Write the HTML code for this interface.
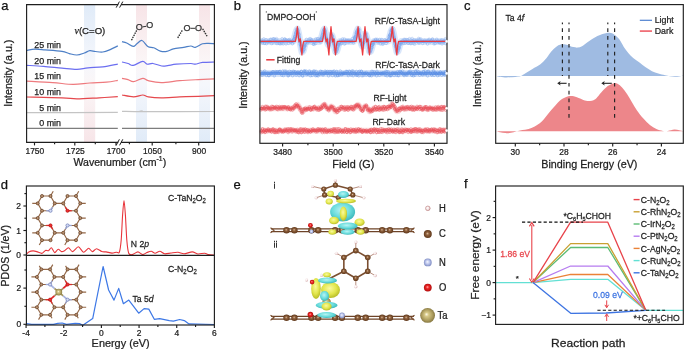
<!DOCTYPE html>
<html><head><meta charset="utf-8"><style>
html,body{margin:0;padding:0;background:#fff;overflow:hidden}
svg{display:block;will-change:transform}
text{font-family:"Liberation Sans",sans-serif;stroke-width:0.25px}
</style></head><body>
<svg width="685" height="351" viewBox="0 0 685 351">
<rect width="685" height="351" fill="#fff"/>
<defs><linearGradient id="gBP" x1="0" y1="0" x2="0" y2="1"><stop offset="0" stop-color="#e0ebf8"/><stop offset="0.42" stop-color="#f5f7fc"/><stop offset="0.58" stop-color="#fbf6f7"/><stop offset="1" stop-color="#f7e5e8"/></linearGradient><linearGradient id="gPB" x1="0" y1="0" x2="0" y2="1"><stop offset="0" stop-color="#f7e4e7"/><stop offset="0.42" stop-color="#fbf6f7"/><stop offset="0.58" stop-color="#f5f7fc"/><stop offset="1" stop-color="#e0ebf8"/></linearGradient><radialGradient id="gTa" cx="0.5" cy="0.5" r="0.55" fx="0.42" fy="0.42"><stop offset="0" stop-color="#fffbe6"/><stop offset="0.25" stop-color="#d6c888"/><stop offset="0.7" stop-color="#a8985a"/><stop offset="1" stop-color="#7a6c38"/></radialGradient><radialGradient id="gC" cx="0.5" cy="0.5" r="0.55" fx="0.45" fy="0.42"><stop offset="0" stop-color="#d8b89a"/><stop offset="0.35" stop-color="#8e603c"/><stop offset="1" stop-color="#5a3418"/></radialGradient><radialGradient id="gCy" cx="0.45" cy="0.4" r="0.6"><stop offset="0" stop-color="#b8f4f4"/><stop offset="0.6" stop-color="#6adcdc"/><stop offset="1" stop-color="#3cb8bc"/></radialGradient><radialGradient id="gYe" cx="0.45" cy="0.4" r="0.6"><stop offset="0" stop-color="#fafaa0"/><stop offset="0.6" stop-color="#e2e64c"/><stop offset="1" stop-color="#b8bc28"/></radialGradient><radialGradient id="gN" cx="0.5" cy="0.5" r="0.55" fx="0.45" fy="0.42"><stop offset="0" stop-color="#f4f6ff"/><stop offset="0.5" stop-color="#b8c2ea"/><stop offset="1" stop-color="#7684bc"/></radialGradient><radialGradient id="gO" cx="0.5" cy="0.5" r="0.55" fx="0.45" fy="0.42"><stop offset="0" stop-color="#ffb0b0"/><stop offset="0.35" stop-color="#f02828"/><stop offset="1" stop-color="#a80808"/></radialGradient><radialGradient id="gH" cx="0.4" cy="0.4" r="0.6"><stop offset="0" stop-color="#ffffff"/><stop offset="0.7" stop-color="#f2dede"/><stop offset="1" stop-color="#c89898"/></radialGradient></defs>
<text x="1.2" y="9.9" font-size="13" text-anchor="start" fill="#111" stroke="#111">a</text>
<rect x="84" y="5" width="11.2" height="137" fill="url(#gBP)"/>
<rect x="136" y="5" width="11" height="137" fill="url(#gPB)"/>
<rect x="199" y="5" width="11" height="137" fill="url(#gPB)"/>
<path d="M26.5,50.3 C27.92,50.12 31.92,49.28 35,49.2 C38.08,49.12 40.5,49.45 45,49.8 C49.5,50.15 57.93,50.67 62,51.3 C66.07,51.93 66.92,52.98 69.4,53.6 C71.88,54.22 74.42,55.1 76.9,55 C79.38,54.9 82.15,53.72 84.3,53 C86.45,52.28 87.95,50.95 89.8,50.7 C91.65,50.45 93.23,51.28 95.4,51.5 C97.57,51.72 100.33,52.32 102.8,52 C105.27,51.68 107.7,50.62 110.2,49.6 C112.7,48.58 116.53,46.52 117.8,45.9" stroke="#4d7fc6" stroke-width="1.2" fill="none"/>
<path d="M122,41.6 C122.78,41.83 124.83,42.2 126.7,43 C128.57,43.8 131.5,46.27 133.2,46.4 C134.9,46.53 135.43,44.78 136.9,43.8 C138.37,42.82 140.18,40.07 142,40.5 C143.82,40.93 145.85,45.18 147.8,46.4 C149.75,47.62 151.62,47.02 153.7,47.8 C155.78,48.58 158.12,50.5 160.3,51.1 C162.48,51.7 164.62,51.77 166.8,51.4 C168.98,51.03 170.6,49.57 173.4,48.9 C176.2,48.23 180.68,47.88 183.6,47.4 C186.52,46.92 188.95,46 190.9,46 C192.85,46 193.35,47.77 195.3,47.4 C197.25,47.03 200.42,44.48 202.6,43.8 C204.78,43.12 206.43,43.3 208.4,43.3 C210.37,43.3 213.4,43.72 214.4,43.8" stroke="#4d7fc6" stroke-width="1.2" fill="none"/>
<path d="M26.5,65.3 C29.33,65.47 37.58,65.83 43.5,66.3 C49.42,66.77 56.43,67.6 62,68.1 C67.57,68.6 72.57,69.35 76.9,69.3 C81.23,69.25 83.68,68.2 88,67.8 C92.32,67.4 97.83,67.52 102.8,66.9 C107.77,66.28 115.3,64.57 117.8,64.1" stroke="#6b6ef0" stroke-width="1.2" fill="none"/>
<path d="M122,62 C123.02,62.25 126.23,62.93 128.1,63.5 C129.97,64.07 130.77,65.77 133.2,65.4 C135.63,65.03 140.38,61.5 142.7,61.3 C145.02,61.1 145.38,63.83 147.1,64.2 C148.82,64.57 150.57,63.2 153,63.5 C155.43,63.8 159.27,65.63 161.7,66 C164.13,66.37 165.17,66 167.6,65.7 C170.03,65.4 172.42,64.57 176.3,64.2 C180.18,63.83 187.73,63.5 190.9,63.5 C194.07,63.5 193.35,64.38 195.3,64.2 C197.25,64.02 199.42,62.77 202.6,62.4 C205.78,62.03 212.43,62.07 214.4,62" stroke="#6b6ef0" stroke-width="1.2" fill="none"/>
<path d="M26.5,81.1 C30.88,81.35 45.03,82.05 52.8,82.6 C60.57,83.15 66.93,84.33 73.1,84.4 C79.27,84.47 84.23,83.37 89.8,83 C95.37,82.63 101.83,82.63 106.5,82.2 C111.17,81.77 115.92,80.7 117.8,80.4" stroke="#ee7a7e" stroke-width="1.2" fill="none"/>
<path d="M122,78.3 C123,78.52 126.08,79.03 128,79.6 C129.92,80.17 131.03,81.92 133.5,81.7 C135.97,81.48 140.33,78.47 142.8,78.3 C145.27,78.13 145.22,79.98 148.3,80.7 C151.38,81.42 156.05,82.6 161.3,82.6 C166.55,82.6 173.63,81.2 179.8,80.7 C185.97,80.2 192.53,79.9 198.3,79.6 C204.07,79.3 211.72,79.02 214.4,78.9" stroke="#ee7a7e" stroke-width="1.2" fill="none"/>
<path d="M26.5,97 C32.42,97.13 53.6,97.48 62,97.8 C70.4,98.12 70.72,98.9 76.9,98.9 C83.08,98.9 92.28,98.17 99.1,97.8 C105.92,97.43 114.68,96.88 117.8,96.7" stroke="#e5484d" stroke-width="1.2" fill="none"/>
<path d="M122,95 C123.92,95.32 130.03,96.9 133.5,96.9 C136.97,96.9 140.33,95 142.8,95 C145.27,95 145.22,96.43 148.3,96.9 C151.38,97.37 156.05,97.8 161.3,97.8 C166.55,97.8 173.63,97.15 179.8,96.9 C185.97,96.65 192.53,96.52 198.3,96.3 C204.07,96.08 211.72,95.72 214.4,95.6" stroke="#e5484d" stroke-width="1.2" fill="none"/>
<path d="M26.5,112.7 C41.72,112.65 102.58,112.45 117.8,112.4" stroke="#c4c4c4" stroke-width="1.2" fill="none"/>
<path d="M122,111.4 C124.67,111.43 134.67,111.68 138,111.6 C141.33,111.52 140.67,110.9 142,110.9 C143.33,110.9 133.93,111.5 146,111.6 C158.07,111.7 203,111.52 214.4,111.5" stroke="#c4c4c4" stroke-width="1.2" fill="none"/>
<path d="M26.5,128.4 C41.72,128.4 102.58,128.4 117.8,128.4" stroke="#7d7d7d" stroke-width="1.2" fill="none"/>
<path d="M122,128.4 C137.4,128.4 199,128.4 214.4,128.4" stroke="#7d7d7d" stroke-width="1.2" fill="none"/>
<text x="61" y="47.6" font-size="8.9" text-anchor="end" fill="#222" stroke="#222">25 min</text>
<text x="61" y="63.6" font-size="8.9" text-anchor="end" fill="#222" stroke="#222">20 min</text>
<text x="61" y="79.3" font-size="8.9" text-anchor="end" fill="#222" stroke="#222">15 min</text>
<text x="61" y="95" font-size="8.9" text-anchor="end" fill="#222" stroke="#222">10 min</text>
<text x="61" y="110.7" font-size="8.9" text-anchor="end" fill="#222" stroke="#222">5 min</text>
<text x="61" y="126.3" font-size="8.9" text-anchor="end" fill="#222" stroke="#222">0 min</text>
<text x="89.9" y="33.7" font-size="9.6" text-anchor="middle" fill="#222" stroke="#222"><tspan font-family="Liberation Serif" font-style="italic" font-size="10">&#957;</tspan>(C=O)</text>
<path d="M131.8,39.6 L136.4,30.8" stroke="#333" stroke-width="1.6" fill="none" stroke-dasharray="0.1,2.3" stroke-linecap="round"/>
<text x="139.3" y="30.4" font-size="9" text-anchor="middle" fill="#333" stroke="#333">O</text>
<line x1="142.5" y1="26.9" x2="146.3" y2="26.3" stroke="#333" stroke-width="1"/>
<text x="149.8" y="28.3" font-size="9" text-anchor="middle" fill="#333" stroke="#333">O</text>
<path d="M178.1,37.3 L182.8,29.4" stroke="#333" stroke-width="1.6" fill="none" stroke-dasharray="0.1,2.3" stroke-linecap="round"/>
<path d="M203,29.4 L207.7,37.3" stroke="#333" stroke-width="1.6" fill="none" stroke-dasharray="0.1,2.3" stroke-linecap="round"/>
<text x="187.1" y="31" font-size="9" text-anchor="middle" fill="#333" stroke="#333">O</text>
<line x1="190.4" y1="28.3" x2="195.2" y2="28.3" stroke="#333" stroke-width="1"/>
<text x="198.6" y="31" font-size="9" text-anchor="middle" fill="#333" stroke="#333">O</text>
<line x1="26.6" y1="4.6" x2="26.6" y2="142.3" stroke="#1e1e1e" stroke-width="1.15"/>
<line x1="214.4" y1="4.6" x2="214.4" y2="142.3" stroke="#1e1e1e" stroke-width="1.15"/>
<line x1="26.05" y1="4.6" x2="118.3" y2="4.6" stroke="#1e1e1e" stroke-width="1.15"/>
<line x1="121" y1="4.6" x2="214.95" y2="4.6" stroke="#1e1e1e" stroke-width="1.15"/>
<line x1="26.05" y1="142.3" x2="118.3" y2="142.3" stroke="#1e1e1e" stroke-width="1.15"/>
<line x1="121" y1="142.3" x2="214.95" y2="142.3" stroke="#1e1e1e" stroke-width="1.15"/>
<line x1="116.2" y1="7.6" x2="119.4" y2="1.6" stroke="#1e1e1e" stroke-width="1"/>
<line x1="119.6" y1="7.6" x2="122.8" y2="1.6" stroke="#1e1e1e" stroke-width="1"/>
<line x1="116.2" y1="145.3" x2="119.4" y2="139.3" stroke="#1e1e1e" stroke-width="1"/>
<line x1="119.6" y1="145.3" x2="122.8" y2="139.3" stroke="#1e1e1e" stroke-width="1"/>
<line x1="34.5" y1="142.3" x2="34.5" y2="145.4" stroke="#1e1e1e" stroke-width="1.15"/>
<line x1="74.8" y1="142.3" x2="74.8" y2="145.4" stroke="#1e1e1e" stroke-width="1.15"/>
<line x1="116" y1="142.3" x2="116" y2="145.4" stroke="#1e1e1e" stroke-width="1.15"/>
<line x1="152.2" y1="142.3" x2="152.2" y2="145.4" stroke="#1e1e1e" stroke-width="1.15"/>
<line x1="198.7" y1="142.3" x2="198.7" y2="145.4" stroke="#1e1e1e" stroke-width="1.15"/>
<line x1="54.6" y1="142.3" x2="54.6" y2="144.3" stroke="#1e1e1e" stroke-width="1.15"/>
<line x1="95.3" y1="142.3" x2="95.3" y2="144.3" stroke="#1e1e1e" stroke-width="1.15"/>
<line x1="129.4" y1="142.3" x2="129.4" y2="144.3" stroke="#1e1e1e" stroke-width="1.15"/>
<line x1="175.9" y1="142.3" x2="175.9" y2="144.3" stroke="#1e1e1e" stroke-width="1.15"/>
<text transform="translate(34.85,153.6) scale(0.97,1)" font-size="8.7" text-anchor="middle" fill="#222" stroke="#222">1750</text>
<text transform="translate(75.4,153.6) scale(0.97,1)" font-size="8.7" text-anchor="middle" fill="#222" stroke="#222">1725</text>
<text transform="translate(116.05,153.6) scale(0.97,1)" font-size="8.7" text-anchor="middle" fill="#222" stroke="#222">1700</text>
<text transform="translate(152.5,153.6) scale(0.97,1)" font-size="8.7" text-anchor="middle" fill="#222" stroke="#222">1050</text>
<text transform="translate(199.1,153.6) scale(0.97,1)" font-size="8.7" text-anchor="middle" fill="#222" stroke="#222">900</text>
<text transform="translate(73.45,165.6) scale(0.938,1)" font-size="11.3" fill="#222" stroke="#222">Wavenumber (cm<tspan font-size="7.3" dy="-4.3">-1</tspan><tspan dy="4.3">)</tspan></text>
<text transform="translate(11.8,106.78) rotate(-90) scale(0.929,1)" font-size="11.4" fill="#222" stroke="#222">Intensity (a.u.)</text>
<text x="233.8" y="9.6" font-size="13" text-anchor="start" fill="#111" stroke="#111">b</text>
<path d="M260.5,41.4 L261,41.4 L261.5,41.4 L262,41.4 L262.5,41.4 L263,41.4 L263.5,41.4 L264,41.4 L264.5,41.4 L265,41.4 L265.5,41.4 L266,41.4 L266.5,41.4 L267,41.4 L267.5,41.4 L268,41.4 L268.5,41.4 L269,41.4 L269.5,41.4 L270,41.4 L270.5,41.4 L271,41.4 L271.5,41.4 L272,41.4 L272.5,41.4 L273,41.4 L273.5,41.4 L274,41.4 L274.5,41.4 L275,41.4 L275.5,41.4 L276,41.4 L276.5,41.4 L277,41.4 L277.5,41.4 L278,41.4 L278.5,41.4 L279,41.4 L279.5,41.4 L280,41.4 L280.5,41.4 L281,41.4 L281.5,41.4 L282,41.4 L282.5,41.4 L283,41.4 L283.5,41.4 L284,41.4 L284.5,41.4 L285,41.4 L285.5,41.4 L286,41.4 L286.5,41.4 L287,41.4 L287.5,41.4 L288,41.4 L288.5,41.4 L289,41.4 L289.5,41.4 L290,41.4 L290.5,41.4 L291,41.4 L291.5,41.4 L292,41.4 L292.5,41.4 L293,41.19 L293.5,40.16 L294,39.14 L294.5,38.11 L295,36.3 L295.5,34.3 L296,32.3 L296.5,30.98 L297,29.82 L297.5,29.31 L298,31.35 L298.5,33.4 L299,36.35 L299.5,39.31 L300,41.9 L300.5,44.4 L301,46.9 L301.5,49.4 L302,51.9 L302.5,51.48 L303,51.07 L303.5,49.7 L304,47.7 L304.5,45.7 L305,44.28 L305.5,43.25 L306,42.22 L306.5,41.4 L307,41.4 L307.5,41.4 L308,41.4 L308.5,41.4 L309,41.4 L309.5,41.4 L310,41.4 L310.5,41.4 L311,41.4 L311.5,41.4 L312,41.4 L312.5,41.4 L313,41.4 L313.5,41.4 L314,41.4 L314.5,41.4 L315,41.4 L315.5,41.4 L316,41.4 L316.5,41.4 L317,41.4 L317.5,41.4 L318,41.4 L318.5,41.4 L319,41.4 L319.5,41.4 L320,41.19 L320.5,40.16 L321,39.14 L321.5,38.11 L322,36.3 L322.5,34.3 L323,32.3 L323.5,30.98 L324,29.82 L324.5,29.31 L325,31.35 L325.5,33.4 L326,36.35 L326.5,39.31 L327,40.87 L327.5,42.34 L328,43.81 L328.5,44.7 L329,45.2 L329.5,42.78 L330,40.87 L330.5,38.35 L331,35.2 L331.5,35.25 L332,35.87 L332.5,37.62 L333,39.54 L333.5,41.4 L334,43.9 L334.5,46.4 L335,48.9 L335.5,51.4 L336,51.57 L336.5,51.15 L337,50.1 L337.5,48.1 L338,46.1 L338.5,44.49 L339,43.46 L339.5,42.43 L340,41.4 L340.5,41.4 L341,41.4 L341.5,41.4 L342,41.4 L342.5,41.4 L343,41.4 L343.5,41.4 L344,41.4 L344.5,41.4 L345,41.4 L345.5,41.4 L346,41.4 L346.5,41.4 L347,41.4 L347.5,41.4 L348,41.4 L348.5,41.4 L349,41.4 L349.5,41.4 L350,41.4 L350.5,41.4 L351,41.4 L351.5,41.4 L352,41.4 L352.5,41.4 L353,41.4 L353.5,41.4 L354,40.58 L354.5,39.55 L355,38.52 L355.5,37.1 L356,35.1 L356.5,33.1 L357,31.44 L357.5,30.28 L358,29.13 L358.5,30.54 L359,32.58 L359.5,35.17 L360,38.13 L360.5,40.9 L361,42.37 L361.5,43.84 L362,45.31 L362.5,46.2 L363,44.95 L363.5,42.53 L364,40.31 L364.5,37.15 L365,34 L365.5,34.24 L366,35.26 L366.5,37 L367,38.92 L367.5,41.4 L368,43.9 L368.5,46.4 L369,48.9 L369.5,51.4 L370,51.57 L370.5,51.15 L371,50.1 L371.5,48.1 L372,46.1 L372.5,44.49 L373,43.46 L373.5,42.43 L374,41.4 L374.5,41.4 L375,41.4 L375.5,41.4 L376,41.4 L376.5,41.4 L377,41.4 L377.5,41.4 L378,41.4 L378.5,41.4 L379,41.4 L379.5,41.4 L380,41.4 L380.5,41.4 L381,41.4 L381.5,41.4 L382,41.4 L382.5,41.4 L383,41.4 L383.5,41.4 L384,41.4 L384.5,41.4 L385,41.4 L385.5,41.4 L386,41.4 L386.5,41.4 L387,41.4 L387.5,41.4 L388,40.99 L388.5,39.96 L389,38.93 L389.5,37.9 L390,35.9 L390.5,33.9 L391,31.9 L391.5,30.75 L392,29.59 L392.5,29.72 L393,31.76 L393.5,33.99 L394,36.95 L394.5,39.9 L395,42.4 L395.5,44.9 L396,47.4 L396.5,49.9 L397,51.82 L397.5,51.4 L398,50.98 L398.5,49.3 L399,47.3 L399.5,45.3 L400,44.08 L400.5,43.05 L401,42.02 L401.5,41.4 L402,41.4 L402.5,41.4 L403,41.4 L403.5,41.4 L404,41.4 L404.5,41.4 L405,41.4 L405.5,41.4 L406,41.4 L406.5,41.4 L407,41.4 L407.5,41.4 L408,41.4 L408.5,41.4 L409,41.4 L409.5,41.4 L410,41.4 L410.5,41.4 L411,41.4 L411.5,41.4 L412,41.4 L412.5,41.4 L413,41.4 L413.5,41.4 L414,41.4 L414.5,41.4 L415,41.4 L415.5,41.4 L416,41.4 L416.5,41.4 L417,41.4 L417.5,41.4 L418,41.4 L418.5,41.4 L419,41.4 L419.5,41.4 L420,41.4 L420.5,41.4 L421,41.4 L421.5,41.4 L422,41.4 L422.5,41.4 L423,41.4 L423.5,41.4 L424,41.4 L424.5,41.4 L425,41.4 L425.5,41.4 L426,41.4 L426.5,41.4 L427,41.4 L427.5,41.4 L428,41.4 L428.5,41.4 L429,41.4 L429.5,41.4 L430,41.4 L430.5,41.4 L431,41.4 L431.5,41.4 L432,41.4 L432.5,41.4 L433,41.4 L433.5,41.4 L434,41.4 L434.5,41.4 L435,41.4 L435.5,41.4 L436,41.4 L436.5,41.4 L437,41.4 L437.5,41.4 L438,41.4 L438.5,41.4 L439,41.4 L439.5,41.4 L440,41.4 L440.5,41.4 L441,41.4 L441.5,41.4 L442,41.4 L442.5,41.4 L443,41.4 L443.5,41.4 L444,41.4 L444.5,41.4 L445,41.4 L445.5,41.4 L446,41.4 L446.5,41.4" stroke="#b4cdf5" stroke-width="7" fill="none" stroke-linejoin="round" opacity="0.5"/>
<path d="M260.5,41.4 L261,41.4 L261.5,41.4 L262,41.4 L262.5,41.4 L263,41.4 L263.5,41.4 L264,41.4 L264.5,41.4 L265,41.4 L265.5,41.4 L266,41.4 L266.5,41.4 L267,41.4 L267.5,41.4 L268,41.4 L268.5,41.4 L269,41.4 L269.5,41.4 L270,41.4 L270.5,41.4 L271,41.4 L271.5,41.4 L272,41.4 L272.5,41.4 L273,41.4 L273.5,41.4 L274,41.4 L274.5,41.4 L275,41.4 L275.5,41.4 L276,41.4 L276.5,41.4 L277,41.4 L277.5,41.4 L278,41.4 L278.5,41.4 L279,41.4 L279.5,41.4 L280,41.4 L280.5,41.4 L281,41.4 L281.5,41.4 L282,41.4 L282.5,41.4 L283,41.4 L283.5,41.4 L284,41.4 L284.5,41.4 L285,41.4 L285.5,41.4 L286,41.4 L286.5,41.4 L287,41.4 L287.5,41.4 L288,41.4 L288.5,41.4 L289,41.4 L289.5,41.4 L290,41.4 L290.5,41.4 L291,41.4 L291.5,41.4 L292,41.4 L292.5,41.4 L293,41.19 L293.5,40.16 L294,39.14 L294.5,38.11 L295,36.3 L295.5,34.3 L296,32.3 L296.5,30.98 L297,29.82 L297.5,29.31 L298,31.35 L298.5,33.4 L299,36.35 L299.5,39.31 L300,41.9 L300.5,44.4 L301,46.9 L301.5,49.4 L302,51.9 L302.5,51.48 L303,51.07 L303.5,49.7 L304,47.7 L304.5,45.7 L305,44.28 L305.5,43.25 L306,42.22 L306.5,41.4 L307,41.4 L307.5,41.4 L308,41.4 L308.5,41.4 L309,41.4 L309.5,41.4 L310,41.4 L310.5,41.4 L311,41.4 L311.5,41.4 L312,41.4 L312.5,41.4 L313,41.4 L313.5,41.4 L314,41.4 L314.5,41.4 L315,41.4 L315.5,41.4 L316,41.4 L316.5,41.4 L317,41.4 L317.5,41.4 L318,41.4 L318.5,41.4 L319,41.4 L319.5,41.4 L320,41.19 L320.5,40.16 L321,39.14 L321.5,38.11 L322,36.3 L322.5,34.3 L323,32.3 L323.5,30.98 L324,29.82 L324.5,29.31 L325,31.35 L325.5,33.4 L326,36.35 L326.5,39.31 L327,40.87 L327.5,42.34 L328,43.81 L328.5,44.7 L329,45.2 L329.5,42.78 L330,40.87 L330.5,38.35 L331,35.2 L331.5,35.25 L332,35.87 L332.5,37.62 L333,39.54 L333.5,41.4 L334,43.9 L334.5,46.4 L335,48.9 L335.5,51.4 L336,51.57 L336.5,51.15 L337,50.1 L337.5,48.1 L338,46.1 L338.5,44.49 L339,43.46 L339.5,42.43 L340,41.4 L340.5,41.4 L341,41.4 L341.5,41.4 L342,41.4 L342.5,41.4 L343,41.4 L343.5,41.4 L344,41.4 L344.5,41.4 L345,41.4 L345.5,41.4 L346,41.4 L346.5,41.4 L347,41.4 L347.5,41.4 L348,41.4 L348.5,41.4 L349,41.4 L349.5,41.4 L350,41.4 L350.5,41.4 L351,41.4 L351.5,41.4 L352,41.4 L352.5,41.4 L353,41.4 L353.5,41.4 L354,40.58 L354.5,39.55 L355,38.52 L355.5,37.1 L356,35.1 L356.5,33.1 L357,31.44 L357.5,30.28 L358,29.13 L358.5,30.54 L359,32.58 L359.5,35.17 L360,38.13 L360.5,40.9 L361,42.37 L361.5,43.84 L362,45.31 L362.5,46.2 L363,44.95 L363.5,42.53 L364,40.31 L364.5,37.15 L365,34 L365.5,34.24 L366,35.26 L366.5,37 L367,38.92 L367.5,41.4 L368,43.9 L368.5,46.4 L369,48.9 L369.5,51.4 L370,51.57 L370.5,51.15 L371,50.1 L371.5,48.1 L372,46.1 L372.5,44.49 L373,43.46 L373.5,42.43 L374,41.4 L374.5,41.4 L375,41.4 L375.5,41.4 L376,41.4 L376.5,41.4 L377,41.4 L377.5,41.4 L378,41.4 L378.5,41.4 L379,41.4 L379.5,41.4 L380,41.4 L380.5,41.4 L381,41.4 L381.5,41.4 L382,41.4 L382.5,41.4 L383,41.4 L383.5,41.4 L384,41.4 L384.5,41.4 L385,41.4 L385.5,41.4 L386,41.4 L386.5,41.4 L387,41.4 L387.5,41.4 L388,40.99 L388.5,39.96 L389,38.93 L389.5,37.9 L390,35.9 L390.5,33.9 L391,31.9 L391.5,30.75 L392,29.59 L392.5,29.72 L393,31.76 L393.5,33.99 L394,36.95 L394.5,39.9 L395,42.4 L395.5,44.9 L396,47.4 L396.5,49.9 L397,51.82 L397.5,51.4 L398,50.98 L398.5,49.3 L399,47.3 L399.5,45.3 L400,44.08 L400.5,43.05 L401,42.02 L401.5,41.4 L402,41.4 L402.5,41.4 L403,41.4 L403.5,41.4 L404,41.4 L404.5,41.4 L405,41.4 L405.5,41.4 L406,41.4 L406.5,41.4 L407,41.4 L407.5,41.4 L408,41.4 L408.5,41.4 L409,41.4 L409.5,41.4 L410,41.4 L410.5,41.4 L411,41.4 L411.5,41.4 L412,41.4 L412.5,41.4 L413,41.4 L413.5,41.4 L414,41.4 L414.5,41.4 L415,41.4 L415.5,41.4 L416,41.4 L416.5,41.4 L417,41.4 L417.5,41.4 L418,41.4 L418.5,41.4 L419,41.4 L419.5,41.4 L420,41.4 L420.5,41.4 L421,41.4 L421.5,41.4 L422,41.4 L422.5,41.4 L423,41.4 L423.5,41.4 L424,41.4 L424.5,41.4 L425,41.4 L425.5,41.4 L426,41.4 L426.5,41.4 L427,41.4 L427.5,41.4 L428,41.4 L428.5,41.4 L429,41.4 L429.5,41.4 L430,41.4 L430.5,41.4 L431,41.4 L431.5,41.4 L432,41.4 L432.5,41.4 L433,41.4 L433.5,41.4 L434,41.4 L434.5,41.4 L435,41.4 L435.5,41.4 L436,41.4 L436.5,41.4 L437,41.4 L437.5,41.4 L438,41.4 L438.5,41.4 L439,41.4 L439.5,41.4 L440,41.4 L440.5,41.4 L441,41.4 L441.5,41.4 L442,41.4 L442.5,41.4 L443,41.4 L443.5,41.4 L444,41.4 L444.5,41.4 L445,41.4 L445.5,41.4 L446,41.4 L446.5,41.4" stroke="#86aef0" stroke-width="3.4" fill="none" stroke-linejoin="round" opacity="0.75"/>
<g fill="none" stroke="#6d9be6" stroke-width="0.45" opacity="0.75"><circle cx="260.89" cy="41.67" r="1.25"/><circle cx="262.3" cy="42.02" r="1.25"/><circle cx="263.8" cy="38.79" r="1.25"/><circle cx="264.61" cy="43.42" r="1.25"/><circle cx="266.11" cy="39.81" r="1.25"/><circle cx="268" cy="41.22" r="1.25"/><circle cx="269.17" cy="41.26" r="1.25"/><circle cx="270.31" cy="39.3" r="1.25"/><circle cx="271.61" cy="43.61" r="1.25"/><circle cx="272.82" cy="42.85" r="1.25"/><circle cx="274.24" cy="38.78" r="1.25"/><circle cx="275.61" cy="41.95" r="1.25"/><circle cx="276.54" cy="38.59" r="1.25"/><circle cx="278.29" cy="41.24" r="1.25"/><circle cx="279.48" cy="43.67" r="1.25"/><circle cx="280.77" cy="43.93" r="1.25"/><circle cx="281.82" cy="43.21" r="1.25"/><circle cx="283.16" cy="44.01" r="1.25"/><circle cx="284.8" cy="38.98" r="1.25"/><circle cx="285.51" cy="39.7" r="1.25"/><circle cx="287.47" cy="41.02" r="1.25"/><circle cx="288.5" cy="40.21" r="1.25"/><circle cx="289.71" cy="40.72" r="1.25"/><circle cx="290.88" cy="41.91" r="1.25"/><circle cx="292.37" cy="43.83" r="1.25"/><circle cx="293.75" cy="42.23" r="1.25"/><circle cx="295.19" cy="38.51" r="1.25"/><circle cx="296.34" cy="29.33" r="1.25"/><circle cx="297.79" cy="33.28" r="1.25"/><circle cx="299.12" cy="37.5" r="1.25"/><circle cx="300.27" cy="41.52" r="1.25"/><circle cx="301.67" cy="50.67" r="1.25"/><circle cx="302.53" cy="48.84" r="1.25"/><circle cx="304.28" cy="49.51" r="1.25"/><circle cx="304.97" cy="46.15" r="1.25"/><circle cx="306.53" cy="39.3" r="1.25"/><circle cx="307.74" cy="43.01" r="1.25"/><circle cx="309.5" cy="38.67" r="1.25"/><circle cx="310.59" cy="38.67" r="1.25"/><circle cx="311.97" cy="40.39" r="1.25"/><circle cx="313.4" cy="44.28" r="1.25"/><circle cx="314.4" cy="44.39" r="1.25"/><circle cx="315.55" cy="38.86" r="1.25"/><circle cx="317.08" cy="38.59" r="1.25"/><circle cx="318.06" cy="40.85" r="1.25"/><circle cx="319.69" cy="39.34" r="1.25"/><circle cx="320.53" cy="42.3" r="1.25"/><circle cx="322.05" cy="38.85" r="1.25"/><circle cx="323.82" cy="29.51" r="1.25"/><circle cx="324.77" cy="30.53" r="1.25"/><circle cx="326.22" cy="38.2" r="1.25"/><circle cx="327.45" cy="42.91" r="1.25"/><circle cx="329.05" cy="44.99" r="1.25"/><circle cx="329.94" cy="42.37" r="1.25"/><circle cx="331.09" cy="34.01" r="1.25"/><circle cx="332.98" cy="39.6" r="1.25"/><circle cx="333.94" cy="40.66" r="1.25"/><circle cx="335.13" cy="50.04" r="1.25"/><circle cx="336.12" cy="52.16" r="1.25"/><circle cx="337.91" cy="43.84" r="1.25"/><circle cx="339.2" cy="42.84" r="1.25"/><circle cx="340.54" cy="40.52" r="1.25"/><circle cx="341.87" cy="42.83" r="1.25"/><circle cx="342.62" cy="38.76" r="1.25"/><circle cx="344.44" cy="44.18" r="1.25"/><circle cx="345.4" cy="41.14" r="1.25"/><circle cx="346.97" cy="40.32" r="1.25"/><circle cx="348.09" cy="40.28" r="1.25"/><circle cx="349.4" cy="41.97" r="1.25"/><circle cx="350.64" cy="40.66" r="1.25"/><circle cx="352.32" cy="38.56" r="1.25"/><circle cx="353.46" cy="42.81" r="1.25"/><circle cx="354.55" cy="37.78" r="1.25"/><circle cx="356.24" cy="32.56" r="1.25"/><circle cx="357.05" cy="30.93" r="1.25"/><circle cx="358.76" cy="29.2" r="1.25"/><circle cx="359.76" cy="35.7" r="1.25"/><circle cx="361.47" cy="43.37" r="1.25"/><circle cx="362.78" cy="44.01" r="1.25"/><circle cx="363.67" cy="42.62" r="1.25"/><circle cx="365.41" cy="33.76" r="1.25"/><circle cx="366.18" cy="33.49" r="1.25"/><circle cx="367.72" cy="40.66" r="1.25"/><circle cx="369.25" cy="52.16" r="1.25"/><circle cx="370.05" cy="50.2" r="1.25"/><circle cx="371.85" cy="47.57" r="1.25"/><circle cx="373.15" cy="42.23" r="1.25"/><circle cx="373.9" cy="40.35" r="1.25"/><circle cx="375.74" cy="40.03" r="1.25"/><circle cx="376.68" cy="40.9" r="1.25"/><circle cx="378.04" cy="40.86" r="1.25"/><circle cx="379.74" cy="39.34" r="1.25"/><circle cx="380.3" cy="44.06" r="1.25"/><circle cx="382.3" cy="44.32" r="1.25"/><circle cx="383.25" cy="44.1" r="1.25"/><circle cx="384.94" cy="39.73" r="1.25"/><circle cx="386.1" cy="43.42" r="1.25"/><circle cx="387.33" cy="41.51" r="1.25"/><circle cx="388.33" cy="39.35" r="1.25"/><circle cx="389.58" cy="34.98" r="1.25"/><circle cx="391.17" cy="30.23" r="1.25"/><circle cx="392.65" cy="27.59" r="1.25"/><circle cx="394.02" cy="38.24" r="1.25"/><circle cx="395.34" cy="46.47" r="1.25"/><circle cx="396.62" cy="50.96" r="1.25"/><circle cx="397.21" cy="53.11" r="1.25"/><circle cx="398.64" cy="47.55" r="1.25"/><circle cx="400.33" cy="43.55" r="1.25"/><circle cx="401.43" cy="44.03" r="1.25"/><circle cx="402.89" cy="40.45" r="1.25"/><circle cx="403.9" cy="43.57" r="1.25"/><circle cx="405.38" cy="43.09" r="1.25"/><circle cx="406.58" cy="39.58" r="1.25"/><circle cx="408.03" cy="43.3" r="1.25"/><circle cx="409.04" cy="43.15" r="1.25"/><circle cx="410.94" cy="43.24" r="1.25"/><circle cx="412.16" cy="38.45" r="1.25"/><circle cx="413.3" cy="43.58" r="1.25"/><circle cx="414.14" cy="40.03" r="1.25"/><circle cx="415.61" cy="41.56" r="1.25"/><circle cx="417.04" cy="41.24" r="1.25"/><circle cx="418.62" cy="38.41" r="1.25"/><circle cx="419.34" cy="39.16" r="1.25"/><circle cx="420.7" cy="38.81" r="1.25"/><circle cx="422.68" cy="43.53" r="1.25"/><circle cx="423.27" cy="41.41" r="1.25"/><circle cx="424.75" cy="40.29" r="1.25"/><circle cx="426.08" cy="42.28" r="1.25"/><circle cx="427.57" cy="40.57" r="1.25"/><circle cx="428.55" cy="40.37" r="1.25"/><circle cx="429.8" cy="41.73" r="1.25"/><circle cx="431.57" cy="40.68" r="1.25"/><circle cx="432.36" cy="39.47" r="1.25"/><circle cx="433.9" cy="42.03" r="1.25"/><circle cx="435.53" cy="40.68" r="1.25"/><circle cx="436.84" cy="42.14" r="1.25"/><circle cx="437.85" cy="40.63" r="1.25"/><circle cx="439.2" cy="42.62" r="1.25"/><circle cx="440.44" cy="42.56" r="1.25"/><circle cx="441.77" cy="39.87" r="1.25"/><circle cx="443.13" cy="42.57" r="1.25"/><circle cx="444.06" cy="40.95" r="1.25"/><circle cx="445.64" cy="43.68" r="1.25"/><circle cx="261.45" cy="40.65" r="1.25"/><circle cx="262.72" cy="43.15" r="1.25"/><circle cx="263.51" cy="41.18" r="1.25"/><circle cx="264.7" cy="43.28" r="1.25"/><circle cx="266.43" cy="43.72" r="1.25"/><circle cx="267.83" cy="42.41" r="1.25"/><circle cx="269.09" cy="41.78" r="1.25"/><circle cx="269.88" cy="41.93" r="1.25"/><circle cx="271.1" cy="39.26" r="1.25"/><circle cx="273.02" cy="38.67" r="1.25"/><circle cx="273.77" cy="39" r="1.25"/><circle cx="275.7" cy="39.47" r="1.25"/><circle cx="276.32" cy="43.45" r="1.25"/><circle cx="277.7" cy="43.46" r="1.25"/><circle cx="279.44" cy="43.42" r="1.25"/><circle cx="280.96" cy="41.87" r="1.25"/><circle cx="282.14" cy="38.62" r="1.25"/><circle cx="283.41" cy="41.47" r="1.25"/><circle cx="284.67" cy="39.04" r="1.25"/><circle cx="286" cy="44.01" r="1.25"/><circle cx="286.75" cy="40.35" r="1.25"/><circle cx="288.45" cy="43.37" r="1.25"/><circle cx="289.49" cy="39.48" r="1.25"/><circle cx="290.8" cy="42.1" r="1.25"/><circle cx="292.5" cy="40.76" r="1.25"/><circle cx="293.49" cy="39.56" r="1.25"/><circle cx="294.78" cy="36.69" r="1.25"/><circle cx="295.87" cy="32.84" r="1.25"/><circle cx="297.88" cy="30.33" r="1.25"/><circle cx="299" cy="34.31" r="1.25"/><circle cx="300.25" cy="44.7" r="1.25"/><circle cx="301.54" cy="49.7" r="1.25"/><circle cx="302.69" cy="52.19" r="1.25"/><circle cx="304.32" cy="44.32" r="1.25"/><circle cx="304.98" cy="45.82" r="1.25"/><circle cx="306.93" cy="41.5" r="1.25"/><circle cx="307.85" cy="42.71" r="1.25"/><circle cx="308.95" cy="40" r="1.25"/><circle cx="310.26" cy="41.91" r="1.25"/><circle cx="311.65" cy="39.79" r="1.25"/><circle cx="313.25" cy="44.12" r="1.25"/><circle cx="314.24" cy="42.63" r="1.25"/><circle cx="315.63" cy="43.52" r="1.25"/><circle cx="317.07" cy="40" r="1.25"/><circle cx="318.07" cy="38.54" r="1.25"/><circle cx="319.58" cy="40.7" r="1.25"/><circle cx="320.64" cy="39.04" r="1.25"/><circle cx="322.06" cy="37.71" r="1.25"/><circle cx="323.21" cy="34.58" r="1.25"/><circle cx="324.78" cy="31.06" r="1.25"/><circle cx="326.07" cy="38.8" r="1.25"/><circle cx="327.66" cy="43.15" r="1.25"/><circle cx="328.69" cy="46.21" r="1.25"/><circle cx="330.29" cy="39.11" r="1.25"/><circle cx="331.49" cy="38.01" r="1.25"/><circle cx="332.57" cy="36.28" r="1.25"/><circle cx="333.69" cy="43.65" r="1.25"/><circle cx="335.34" cy="53.35" r="1.25"/><circle cx="336.78" cy="49.37" r="1.25"/><circle cx="337.55" cy="46.44" r="1.25"/><circle cx="338.85" cy="45" r="1.25"/><circle cx="340.69" cy="43.8" r="1.25"/><circle cx="341.5" cy="43.59" r="1.25"/><circle cx="342.85" cy="40.94" r="1.25"/><circle cx="344.48" cy="38.92" r="1.25"/><circle cx="345.27" cy="43.4" r="1.25"/><circle cx="346.73" cy="40.54" r="1.25"/><circle cx="348.26" cy="42.45" r="1.25"/><circle cx="349.11" cy="40.41" r="1.25"/><circle cx="350.75" cy="41.32" r="1.25"/><circle cx="351.87" cy="41.91" r="1.25"/><circle cx="353.76" cy="40.41" r="1.25"/><circle cx="354.74" cy="36.78" r="1.25"/><circle cx="355.82" cy="36.81" r="1.25"/><circle cx="356.99" cy="33.78" r="1.25"/><circle cx="358.93" cy="29.86" r="1.25"/><circle cx="360.25" cy="38.87" r="1.25"/><circle cx="361.42" cy="45.14" r="1.25"/><circle cx="362.34" cy="47.09" r="1.25"/><circle cx="363.92" cy="42.63" r="1.25"/><circle cx="364.91" cy="36.08" r="1.25"/><circle cx="366.77" cy="39.07" r="1.25"/><circle cx="367.73" cy="40.22" r="1.25"/><circle cx="369" cy="47.99" r="1.25"/><circle cx="370.47" cy="52.24" r="1.25"/><circle cx="371.65" cy="45.58" r="1.25"/><circle cx="373.02" cy="44.21" r="1.25"/><circle cx="373.94" cy="43.86" r="1.25"/><circle cx="375.62" cy="39.14" r="1.25"/><circle cx="377.15" cy="39.25" r="1.25"/><circle cx="377.97" cy="42.72" r="1.25"/><circle cx="379.48" cy="41.73" r="1.25"/><circle cx="380.82" cy="41.15" r="1.25"/><circle cx="381.85" cy="39.46" r="1.25"/><circle cx="382.95" cy="42.7" r="1.25"/><circle cx="384.8" cy="41.66" r="1.25"/><circle cx="386.09" cy="40.56" r="1.25"/><circle cx="387.01" cy="40.7" r="1.25"/><circle cx="388.8" cy="36.6" r="1.25"/><circle cx="389.8" cy="35.17" r="1.25"/><circle cx="391.32" cy="30.3" r="1.25"/><circle cx="392.27" cy="28.4" r="1.25"/><circle cx="393.73" cy="37" r="1.25"/><circle cx="394.88" cy="43.89" r="1.25"/><circle cx="395.99" cy="45.97" r="1.25"/><circle cx="397.28" cy="49.26" r="1.25"/><circle cx="399.12" cy="48.17" r="1.25"/><circle cx="399.95" cy="42.32" r="1.25"/><circle cx="401.43" cy="42.86" r="1.25"/><circle cx="403.05" cy="42.89" r="1.25"/><circle cx="404.17" cy="39.28" r="1.25"/><circle cx="405.32" cy="39.56" r="1.25"/><circle cx="406.72" cy="41.81" r="1.25"/><circle cx="407.76" cy="39.9" r="1.25"/><circle cx="409.53" cy="38.58" r="1.25"/><circle cx="410.84" cy="43.75" r="1.25"/><circle cx="412.26" cy="40.7" r="1.25"/><circle cx="413.24" cy="41.9" r="1.25"/><circle cx="414.61" cy="44.26" r="1.25"/><circle cx="415.95" cy="40.2" r="1.25"/><circle cx="417.39" cy="41.3" r="1.25"/><circle cx="418.48" cy="42.76" r="1.25"/><circle cx="419.3" cy="43.02" r="1.25"/><circle cx="421.13" cy="41.35" r="1.25"/><circle cx="422.32" cy="41.16" r="1.25"/><circle cx="423.35" cy="41.58" r="1.25"/><circle cx="424.53" cy="41.4" r="1.25"/><circle cx="426.32" cy="41.07" r="1.25"/><circle cx="427.55" cy="44.15" r="1.25"/><circle cx="429.11" cy="39.21" r="1.25"/><circle cx="430.33" cy="42.14" r="1.25"/><circle cx="431.04" cy="40.56" r="1.25"/><circle cx="432.49" cy="38.87" r="1.25"/><circle cx="434.03" cy="43.98" r="1.25"/><circle cx="435.16" cy="43.62" r="1.25"/><circle cx="436.76" cy="39.21" r="1.25"/><circle cx="438.19" cy="42.01" r="1.25"/><circle cx="439.54" cy="42.7" r="1.25"/><circle cx="440.69" cy="40.46" r="1.25"/><circle cx="442.05" cy="43.99" r="1.25"/><circle cx="443.39" cy="41.02" r="1.25"/><circle cx="444.61" cy="41.31" r="1.25"/><circle cx="445.39" cy="38.66" r="1.25"/></g>
<path d="M260.5,73.4 L261,73.4 L261.5,73.4 L262,73.4 L262.5,73.4 L263,73.4 L263.5,73.4 L264,73.4 L264.5,73.4 L265,73.4 L265.5,73.4 L266,73.4 L266.5,73.4 L267,73.4 L267.5,73.4 L268,73.4 L268.5,73.4 L269,73.4 L269.5,73.4 L270,73.4 L270.5,73.4 L271,73.4 L271.5,73.4 L272,73.4 L272.5,73.4 L273,73.4 L273.5,73.4 L274,73.4 L274.5,73.4 L275,73.4 L275.5,73.4 L276,73.4 L276.5,73.4 L277,73.4 L277.5,73.4 L278,73.4 L278.5,73.4 L279,73.4 L279.5,73.4 L280,73.4 L280.5,73.4 L281,73.4 L281.5,73.4 L282,73.4 L282.5,73.4 L283,73.4 L283.5,73.4 L284,73.4 L284.5,73.4 L285,73.4 L285.5,73.4 L286,73.4 L286.5,73.4 L287,73.4 L287.5,73.4 L288,73.4 L288.5,73.4 L289,73.4 L289.5,73.4 L290,73.4 L290.5,73.4 L291,73.4 L291.5,73.4 L292,73.4 L292.5,73.4 L293,73.4 L293.5,73.4 L294,73.4 L294.5,73.4 L295,73.4 L295.5,73.4 L296,73.4 L296.5,73.4 L297,73.4 L297.5,73.4 L298,73.4 L298.5,73.4 L299,73.4 L299.5,73.4 L300,73.4 L300.5,73.4 L301,73.4 L301.5,73.4 L302,73.4 L302.5,73.4 L303,73.4 L303.5,73.4 L304,73.4 L304.5,73.4 L305,73.4 L305.5,73.4 L306,73.4 L306.5,73.4 L307,73.4 L307.5,73.4 L308,73.4 L308.5,73.4 L309,73.4 L309.5,73.4 L310,73.4 L310.5,73.4 L311,73.4 L311.5,73.4 L312,73.4 L312.5,73.4 L313,73.4 L313.5,73.4 L314,73.4 L314.5,73.4 L315,73.4 L315.5,73.4 L316,73.4 L316.5,73.4 L317,73.4 L317.5,73.4 L318,73.4 L318.5,73.4 L319,73.4 L319.5,73.4 L320,73.4 L320.5,73.4 L321,73.4 L321.5,73.4 L322,73.4 L322.5,73.4 L323,73.4 L323.5,73.4 L324,73.4 L324.5,73.4 L325,73.4 L325.5,73.4 L326,73.4 L326.5,73.4 L327,73.4 L327.5,73.4 L328,73.4 L328.5,73.4 L329,73.4 L329.5,73.4 L330,73.4 L330.5,73.4 L331,73.4 L331.5,73.4 L332,73.4 L332.5,73.4 L333,73.4 L333.5,73.4 L334,73.4 L334.5,73.4 L335,73.4 L335.5,73.4 L336,73.4 L336.5,73.4 L337,73.4 L337.5,73.4 L338,73.4 L338.5,73.4 L339,73.4 L339.5,73.4 L340,73.4 L340.5,73.4 L341,73.4 L341.5,73.4 L342,73.4 L342.5,73.4 L343,73.4 L343.5,73.4 L344,73.4 L344.5,73.4 L345,73.4 L345.5,73.4 L346,73.4 L346.5,73.4 L347,73.4 L347.5,73.4 L348,73.4 L348.5,73.4 L349,73.4 L349.5,73.4 L350,73.4 L350.5,73.4 L351,73.4 L351.5,73.4 L352,73.4 L352.5,73.4 L353,73.4 L353.5,73.4 L354,73.4 L354.5,73.4 L355,73.4 L355.5,73.4 L356,73.4 L356.5,73.4 L357,73.4 L357.5,73.4 L358,73.4 L358.5,73.4 L359,73.4 L359.5,73.4 L360,73.4 L360.5,73.4 L361,73.4 L361.5,73.4 L362,73.4 L362.5,73.4 L363,73.4 L363.5,73.4 L364,73.4 L364.5,73.4 L365,73.4 L365.5,73.4 L366,73.4 L366.5,73.4 L367,73.4 L367.5,73.4 L368,73.4 L368.5,73.4 L369,73.4 L369.5,73.4 L370,73.4 L370.5,73.4 L371,73.4 L371.5,73.4 L372,73.4 L372.5,73.4 L373,73.4 L373.5,73.4 L374,73.4 L374.5,73.4 L375,73.4 L375.5,73.4 L376,73.4 L376.5,73.4 L377,73.4 L377.5,73.4 L378,73.4 L378.5,73.4 L379,73.4 L379.5,73.4 L380,73.4 L380.5,73.4 L381,73.4 L381.5,73.4 L382,73.4 L382.5,73.4 L383,73.4 L383.5,73.4 L384,73.4 L384.5,73.4 L385,73.4 L385.5,73.4 L386,73.4 L386.5,73.4 L387,73.4 L387.5,73.4 L388,73.4 L388.5,73.4 L389,73.4 L389.5,73.4 L390,73.4 L390.5,73.4 L391,73.4 L391.5,73.4 L392,73.4 L392.5,73.4 L393,73.4 L393.5,73.4 L394,73.4 L394.5,73.4 L395,73.4 L395.5,73.4 L396,73.4 L396.5,73.4 L397,73.4 L397.5,73.4 L398,73.4 L398.5,73.4 L399,73.4 L399.5,73.4 L400,73.4 L400.5,73.4 L401,73.4 L401.5,73.4 L402,73.4 L402.5,73.4 L403,73.4 L403.5,73.4 L404,73.4 L404.5,73.4 L405,73.4 L405.5,73.4 L406,73.4 L406.5,73.4 L407,73.4 L407.5,73.4 L408,73.4 L408.5,73.4 L409,73.4 L409.5,73.4 L410,73.4 L410.5,73.4 L411,73.4 L411.5,73.4 L412,73.4 L412.5,73.4 L413,73.4 L413.5,73.4 L414,73.4 L414.5,73.4 L415,73.4 L415.5,73.4 L416,73.4 L416.5,73.4 L417,73.4 L417.5,73.4 L418,73.4 L418.5,73.4 L419,73.4 L419.5,73.4 L420,73.4 L420.5,73.4 L421,73.4 L421.5,73.4 L422,73.4 L422.5,73.4 L423,73.4 L423.5,73.4 L424,73.4 L424.5,73.4 L425,73.4 L425.5,73.4 L426,73.4 L426.5,73.4 L427,73.4 L427.5,73.4 L428,73.4 L428.5,73.4 L429,73.4 L429.5,73.4 L430,73.4 L430.5,73.4 L431,73.4 L431.5,73.4 L432,73.4 L432.5,73.4 L433,73.4 L433.5,73.4 L434,73.4 L434.5,73.4 L435,73.4 L435.5,73.4 L436,73.4 L436.5,73.4 L437,73.4 L437.5,73.4 L438,73.4 L438.5,73.4 L439,73.4 L439.5,73.4 L440,73.4 L440.5,73.4 L441,73.4 L441.5,73.4 L442,73.4 L442.5,73.4 L443,73.4 L443.5,73.4 L444,73.4 L444.5,73.4 L445,73.4 L445.5,73.4 L446,73.4 L446.5,73.4" stroke="#a9c6f2" stroke-width="7" fill="none" stroke-linejoin="round" opacity="0.5"/>
<path d="M260.5,73.4 L261,73.4 L261.5,73.4 L262,73.4 L262.5,73.4 L263,73.4 L263.5,73.4 L264,73.4 L264.5,73.4 L265,73.4 L265.5,73.4 L266,73.4 L266.5,73.4 L267,73.4 L267.5,73.4 L268,73.4 L268.5,73.4 L269,73.4 L269.5,73.4 L270,73.4 L270.5,73.4 L271,73.4 L271.5,73.4 L272,73.4 L272.5,73.4 L273,73.4 L273.5,73.4 L274,73.4 L274.5,73.4 L275,73.4 L275.5,73.4 L276,73.4 L276.5,73.4 L277,73.4 L277.5,73.4 L278,73.4 L278.5,73.4 L279,73.4 L279.5,73.4 L280,73.4 L280.5,73.4 L281,73.4 L281.5,73.4 L282,73.4 L282.5,73.4 L283,73.4 L283.5,73.4 L284,73.4 L284.5,73.4 L285,73.4 L285.5,73.4 L286,73.4 L286.5,73.4 L287,73.4 L287.5,73.4 L288,73.4 L288.5,73.4 L289,73.4 L289.5,73.4 L290,73.4 L290.5,73.4 L291,73.4 L291.5,73.4 L292,73.4 L292.5,73.4 L293,73.4 L293.5,73.4 L294,73.4 L294.5,73.4 L295,73.4 L295.5,73.4 L296,73.4 L296.5,73.4 L297,73.4 L297.5,73.4 L298,73.4 L298.5,73.4 L299,73.4 L299.5,73.4 L300,73.4 L300.5,73.4 L301,73.4 L301.5,73.4 L302,73.4 L302.5,73.4 L303,73.4 L303.5,73.4 L304,73.4 L304.5,73.4 L305,73.4 L305.5,73.4 L306,73.4 L306.5,73.4 L307,73.4 L307.5,73.4 L308,73.4 L308.5,73.4 L309,73.4 L309.5,73.4 L310,73.4 L310.5,73.4 L311,73.4 L311.5,73.4 L312,73.4 L312.5,73.4 L313,73.4 L313.5,73.4 L314,73.4 L314.5,73.4 L315,73.4 L315.5,73.4 L316,73.4 L316.5,73.4 L317,73.4 L317.5,73.4 L318,73.4 L318.5,73.4 L319,73.4 L319.5,73.4 L320,73.4 L320.5,73.4 L321,73.4 L321.5,73.4 L322,73.4 L322.5,73.4 L323,73.4 L323.5,73.4 L324,73.4 L324.5,73.4 L325,73.4 L325.5,73.4 L326,73.4 L326.5,73.4 L327,73.4 L327.5,73.4 L328,73.4 L328.5,73.4 L329,73.4 L329.5,73.4 L330,73.4 L330.5,73.4 L331,73.4 L331.5,73.4 L332,73.4 L332.5,73.4 L333,73.4 L333.5,73.4 L334,73.4 L334.5,73.4 L335,73.4 L335.5,73.4 L336,73.4 L336.5,73.4 L337,73.4 L337.5,73.4 L338,73.4 L338.5,73.4 L339,73.4 L339.5,73.4 L340,73.4 L340.5,73.4 L341,73.4 L341.5,73.4 L342,73.4 L342.5,73.4 L343,73.4 L343.5,73.4 L344,73.4 L344.5,73.4 L345,73.4 L345.5,73.4 L346,73.4 L346.5,73.4 L347,73.4 L347.5,73.4 L348,73.4 L348.5,73.4 L349,73.4 L349.5,73.4 L350,73.4 L350.5,73.4 L351,73.4 L351.5,73.4 L352,73.4 L352.5,73.4 L353,73.4 L353.5,73.4 L354,73.4 L354.5,73.4 L355,73.4 L355.5,73.4 L356,73.4 L356.5,73.4 L357,73.4 L357.5,73.4 L358,73.4 L358.5,73.4 L359,73.4 L359.5,73.4 L360,73.4 L360.5,73.4 L361,73.4 L361.5,73.4 L362,73.4 L362.5,73.4 L363,73.4 L363.5,73.4 L364,73.4 L364.5,73.4 L365,73.4 L365.5,73.4 L366,73.4 L366.5,73.4 L367,73.4 L367.5,73.4 L368,73.4 L368.5,73.4 L369,73.4 L369.5,73.4 L370,73.4 L370.5,73.4 L371,73.4 L371.5,73.4 L372,73.4 L372.5,73.4 L373,73.4 L373.5,73.4 L374,73.4 L374.5,73.4 L375,73.4 L375.5,73.4 L376,73.4 L376.5,73.4 L377,73.4 L377.5,73.4 L378,73.4 L378.5,73.4 L379,73.4 L379.5,73.4 L380,73.4 L380.5,73.4 L381,73.4 L381.5,73.4 L382,73.4 L382.5,73.4 L383,73.4 L383.5,73.4 L384,73.4 L384.5,73.4 L385,73.4 L385.5,73.4 L386,73.4 L386.5,73.4 L387,73.4 L387.5,73.4 L388,73.4 L388.5,73.4 L389,73.4 L389.5,73.4 L390,73.4 L390.5,73.4 L391,73.4 L391.5,73.4 L392,73.4 L392.5,73.4 L393,73.4 L393.5,73.4 L394,73.4 L394.5,73.4 L395,73.4 L395.5,73.4 L396,73.4 L396.5,73.4 L397,73.4 L397.5,73.4 L398,73.4 L398.5,73.4 L399,73.4 L399.5,73.4 L400,73.4 L400.5,73.4 L401,73.4 L401.5,73.4 L402,73.4 L402.5,73.4 L403,73.4 L403.5,73.4 L404,73.4 L404.5,73.4 L405,73.4 L405.5,73.4 L406,73.4 L406.5,73.4 L407,73.4 L407.5,73.4 L408,73.4 L408.5,73.4 L409,73.4 L409.5,73.4 L410,73.4 L410.5,73.4 L411,73.4 L411.5,73.4 L412,73.4 L412.5,73.4 L413,73.4 L413.5,73.4 L414,73.4 L414.5,73.4 L415,73.4 L415.5,73.4 L416,73.4 L416.5,73.4 L417,73.4 L417.5,73.4 L418,73.4 L418.5,73.4 L419,73.4 L419.5,73.4 L420,73.4 L420.5,73.4 L421,73.4 L421.5,73.4 L422,73.4 L422.5,73.4 L423,73.4 L423.5,73.4 L424,73.4 L424.5,73.4 L425,73.4 L425.5,73.4 L426,73.4 L426.5,73.4 L427,73.4 L427.5,73.4 L428,73.4 L428.5,73.4 L429,73.4 L429.5,73.4 L430,73.4 L430.5,73.4 L431,73.4 L431.5,73.4 L432,73.4 L432.5,73.4 L433,73.4 L433.5,73.4 L434,73.4 L434.5,73.4 L435,73.4 L435.5,73.4 L436,73.4 L436.5,73.4 L437,73.4 L437.5,73.4 L438,73.4 L438.5,73.4 L439,73.4 L439.5,73.4 L440,73.4 L440.5,73.4 L441,73.4 L441.5,73.4 L442,73.4 L442.5,73.4 L443,73.4 L443.5,73.4 L444,73.4 L444.5,73.4 L445,73.4 L445.5,73.4 L446,73.4 L446.5,73.4" stroke="#5c8fe6" stroke-width="3.4" fill="none" stroke-linejoin="round" opacity="0.75"/>
<g fill="none" stroke="#4f86e2" stroke-width="0.45" opacity="0.75"><circle cx="260.76" cy="71.84" r="1.25"/><circle cx="262.13" cy="73.39" r="1.25"/><circle cx="263.86" cy="73.59" r="1.25"/><circle cx="264.94" cy="74.18" r="1.25"/><circle cx="266.14" cy="73.21" r="1.25"/><circle cx="267.81" cy="72.89" r="1.25"/><circle cx="268.64" cy="75.48" r="1.25"/><circle cx="270.38" cy="72.71" r="1.25"/><circle cx="271.4" cy="73.55" r="1.25"/><circle cx="272.88" cy="71.96" r="1.25"/><circle cx="273.7" cy="71.89" r="1.25"/><circle cx="275.63" cy="71.55" r="1.25"/><circle cx="276.67" cy="71.82" r="1.25"/><circle cx="277.77" cy="71.69" r="1.25"/><circle cx="279.22" cy="71.68" r="1.25"/><circle cx="280.22" cy="71.37" r="1.25"/><circle cx="281.63" cy="73.35" r="1.25"/><circle cx="282.85" cy="70.92" r="1.25"/><circle cx="284.46" cy="72.92" r="1.25"/><circle cx="285.96" cy="71.07" r="1.25"/><circle cx="287.02" cy="72.86" r="1.25"/><circle cx="288.02" cy="75.82" r="1.25"/><circle cx="289.48" cy="71.29" r="1.25"/><circle cx="290.98" cy="71.66" r="1.25"/><circle cx="292.4" cy="72.6" r="1.25"/><circle cx="293.3" cy="71.07" r="1.25"/><circle cx="295.08" cy="72.23" r="1.25"/><circle cx="296.43" cy="73.22" r="1.25"/><circle cx="297.85" cy="72.36" r="1.25"/><circle cx="298.6" cy="72.18" r="1.25"/><circle cx="300.35" cy="74.07" r="1.25"/><circle cx="301.28" cy="71.29" r="1.25"/><circle cx="302.85" cy="75.84" r="1.25"/><circle cx="304.07" cy="70.82" r="1.25"/><circle cx="304.92" cy="71.27" r="1.25"/><circle cx="306.34" cy="70.99" r="1.25"/><circle cx="307.54" cy="74.2" r="1.25"/><circle cx="309.52" cy="71.84" r="1.25"/><circle cx="310.88" cy="73.28" r="1.25"/><circle cx="312.04" cy="75.57" r="1.25"/><circle cx="313.45" cy="70.98" r="1.25"/><circle cx="314.24" cy="73.96" r="1.25"/><circle cx="316.06" cy="71.26" r="1.25"/><circle cx="316.83" cy="75.22" r="1.25"/><circle cx="317.99" cy="72.83" r="1.25"/><circle cx="319.47" cy="74.34" r="1.25"/><circle cx="321.24" cy="71.71" r="1.25"/><circle cx="322.39" cy="74.62" r="1.25"/><circle cx="323.77" cy="73.68" r="1.25"/><circle cx="325.14" cy="72.69" r="1.25"/><circle cx="326.03" cy="71.99" r="1.25"/><circle cx="327.62" cy="73.3" r="1.25"/><circle cx="328.52" cy="71.68" r="1.25"/><circle cx="330.18" cy="73.95" r="1.25"/><circle cx="331.47" cy="72.81" r="1.25"/><circle cx="332.59" cy="71.6" r="1.25"/><circle cx="334.07" cy="70.92" r="1.25"/><circle cx="335.17" cy="74.74" r="1.25"/><circle cx="336.64" cy="71.3" r="1.25"/><circle cx="337.59" cy="75.19" r="1.25"/><circle cx="339.21" cy="75.37" r="1.25"/><circle cx="340.7" cy="73.14" r="1.25"/><circle cx="342.02" cy="74.61" r="1.25"/><circle cx="342.87" cy="72.72" r="1.25"/><circle cx="343.96" cy="72.88" r="1.25"/><circle cx="345.96" cy="71.35" r="1.25"/><circle cx="346.96" cy="71.37" r="1.25"/><circle cx="347.86" cy="74.18" r="1.25"/><circle cx="349.29" cy="71.05" r="1.25"/><circle cx="350.52" cy="74.15" r="1.25"/><circle cx="352.17" cy="70.86" r="1.25"/><circle cx="353.18" cy="75.83" r="1.25"/><circle cx="354.48" cy="73.72" r="1.25"/><circle cx="355.94" cy="74.86" r="1.25"/><circle cx="357.38" cy="74.9" r="1.25"/><circle cx="358.63" cy="71.78" r="1.25"/><circle cx="359.64" cy="71.21" r="1.25"/><circle cx="361.46" cy="71.39" r="1.25"/><circle cx="362.12" cy="75.83" r="1.25"/><circle cx="363.56" cy="75.45" r="1.25"/><circle cx="364.77" cy="73.22" r="1.25"/><circle cx="366.18" cy="75.11" r="1.25"/><circle cx="367.79" cy="74.14" r="1.25"/><circle cx="369.21" cy="75.33" r="1.25"/><circle cx="370.18" cy="73.94" r="1.25"/><circle cx="371.56" cy="71.38" r="1.25"/><circle cx="373.17" cy="73.89" r="1.25"/><circle cx="374.45" cy="71.87" r="1.25"/><circle cx="375.53" cy="73.21" r="1.25"/><circle cx="376.98" cy="71.2" r="1.25"/><circle cx="377.98" cy="73.32" r="1.25"/><circle cx="379.06" cy="73.67" r="1.25"/><circle cx="380.89" cy="73" r="1.25"/><circle cx="382.12" cy="73.95" r="1.25"/><circle cx="383.07" cy="72.62" r="1.25"/><circle cx="385" cy="72.54" r="1.25"/><circle cx="385.84" cy="71.24" r="1.25"/><circle cx="386.97" cy="71.66" r="1.25"/><circle cx="388.84" cy="74.58" r="1.25"/><circle cx="390.1" cy="75.93" r="1.25"/><circle cx="391.19" cy="75.64" r="1.25"/><circle cx="392.43" cy="72.98" r="1.25"/><circle cx="394.06" cy="75.5" r="1.25"/><circle cx="395.36" cy="73.32" r="1.25"/><circle cx="396.52" cy="72.92" r="1.25"/><circle cx="398" cy="75.59" r="1.25"/><circle cx="398.73" cy="75.66" r="1.25"/><circle cx="399.95" cy="71.3" r="1.25"/><circle cx="401.68" cy="72.33" r="1.25"/><circle cx="402.82" cy="74.12" r="1.25"/><circle cx="403.73" cy="74.67" r="1.25"/><circle cx="405.22" cy="73.05" r="1.25"/><circle cx="406.58" cy="74.66" r="1.25"/><circle cx="408.2" cy="72.29" r="1.25"/><circle cx="408.98" cy="72.36" r="1.25"/><circle cx="410.53" cy="71.2" r="1.25"/><circle cx="411.62" cy="74.77" r="1.25"/><circle cx="413.36" cy="75.88" r="1.25"/><circle cx="414.88" cy="75.36" r="1.25"/><circle cx="415.7" cy="71.64" r="1.25"/><circle cx="416.95" cy="73.21" r="1.25"/><circle cx="418.42" cy="73.62" r="1.25"/><circle cx="419.59" cy="75.23" r="1.25"/><circle cx="420.83" cy="73.21" r="1.25"/><circle cx="422.61" cy="75" r="1.25"/><circle cx="423.44" cy="72.06" r="1.25"/><circle cx="425.15" cy="70.85" r="1.25"/><circle cx="425.91" cy="73.56" r="1.25"/><circle cx="427.53" cy="71.66" r="1.25"/><circle cx="428.44" cy="71.86" r="1.25"/><circle cx="430.32" cy="73.22" r="1.25"/><circle cx="431.78" cy="74.88" r="1.25"/><circle cx="433.08" cy="70.98" r="1.25"/><circle cx="433.75" cy="70.87" r="1.25"/><circle cx="435.25" cy="72.56" r="1.25"/><circle cx="436.24" cy="73.64" r="1.25"/><circle cx="437.58" cy="72.42" r="1.25"/><circle cx="439" cy="74.97" r="1.25"/><circle cx="440.43" cy="72.15" r="1.25"/><circle cx="441.44" cy="73.03" r="1.25"/><circle cx="443.2" cy="74.31" r="1.25"/><circle cx="444.73" cy="75" r="1.25"/><circle cx="445.5" cy="71.51" r="1.25"/><circle cx="261.31" cy="74.91" r="1.25"/><circle cx="262.41" cy="75.12" r="1.25"/><circle cx="263.74" cy="72.25" r="1.25"/><circle cx="264.73" cy="70.89" r="1.25"/><circle cx="266.41" cy="75.46" r="1.25"/><circle cx="267.92" cy="73.23" r="1.25"/><circle cx="269.03" cy="75.63" r="1.25"/><circle cx="270.45" cy="73.93" r="1.25"/><circle cx="271.43" cy="73.5" r="1.25"/><circle cx="272.54" cy="71.75" r="1.25"/><circle cx="274.25" cy="75.96" r="1.25"/><circle cx="275.44" cy="72.92" r="1.25"/><circle cx="276.58" cy="73.17" r="1.25"/><circle cx="278.24" cy="73.15" r="1.25"/><circle cx="279.67" cy="71.61" r="1.25"/><circle cx="280.45" cy="73.51" r="1.25"/><circle cx="281.83" cy="75.23" r="1.25"/><circle cx="283.46" cy="75.64" r="1.25"/><circle cx="284.59" cy="70.96" r="1.25"/><circle cx="285.86" cy="73.66" r="1.25"/><circle cx="287.09" cy="72.26" r="1.25"/><circle cx="288.57" cy="75.54" r="1.25"/><circle cx="289.38" cy="74.28" r="1.25"/><circle cx="290.9" cy="73.48" r="1.25"/><circle cx="292.62" cy="75.79" r="1.25"/><circle cx="293.71" cy="71.81" r="1.25"/><circle cx="295.24" cy="71.74" r="1.25"/><circle cx="296.11" cy="75.11" r="1.25"/><circle cx="297.35" cy="72.21" r="1.25"/><circle cx="299.16" cy="75.71" r="1.25"/><circle cx="299.95" cy="72.84" r="1.25"/><circle cx="301.23" cy="71.48" r="1.25"/><circle cx="302.5" cy="75.9" r="1.25"/><circle cx="303.66" cy="71.99" r="1.25"/><circle cx="305.06" cy="71.21" r="1.25"/><circle cx="306.62" cy="74.66" r="1.25"/><circle cx="308.17" cy="74.08" r="1.25"/><circle cx="309.45" cy="70.83" r="1.25"/><circle cx="310.33" cy="75.8" r="1.25"/><circle cx="311.46" cy="72.19" r="1.25"/><circle cx="313.09" cy="72.19" r="1.25"/><circle cx="314.44" cy="71.05" r="1.25"/><circle cx="315.49" cy="75.78" r="1.25"/><circle cx="316.72" cy="75.51" r="1.25"/><circle cx="318.04" cy="75.96" r="1.25"/><circle cx="319.74" cy="74.16" r="1.25"/><circle cx="320.61" cy="71.08" r="1.25"/><circle cx="322.41" cy="71.72" r="1.25"/><circle cx="323.25" cy="75.08" r="1.25"/><circle cx="325.1" cy="71.05" r="1.25"/><circle cx="326.47" cy="73.58" r="1.25"/><circle cx="327.31" cy="71.36" r="1.25"/><circle cx="328.61" cy="75.94" r="1.25"/><circle cx="329.82" cy="71.48" r="1.25"/><circle cx="331.02" cy="71.46" r="1.25"/><circle cx="332.48" cy="75.56" r="1.25"/><circle cx="333.56" cy="71.8" r="1.25"/><circle cx="335.55" cy="75.98" r="1.25"/><circle cx="336.88" cy="72.08" r="1.25"/><circle cx="337.68" cy="75.74" r="1.25"/><circle cx="339.09" cy="74.46" r="1.25"/><circle cx="340.25" cy="70.91" r="1.25"/><circle cx="341.58" cy="74.69" r="1.25"/><circle cx="343.23" cy="73.76" r="1.25"/><circle cx="344.27" cy="73.6" r="1.25"/><circle cx="345.55" cy="73.58" r="1.25"/><circle cx="347.17" cy="71.84" r="1.25"/><circle cx="348.28" cy="75.65" r="1.25"/><circle cx="349.78" cy="71.73" r="1.25"/><circle cx="351.17" cy="75.17" r="1.25"/><circle cx="351.83" cy="72.18" r="1.25"/><circle cx="353.16" cy="71.08" r="1.25"/><circle cx="355.08" cy="72.93" r="1.25"/><circle cx="356.3" cy="71.4" r="1.25"/><circle cx="356.91" cy="75.32" r="1.25"/><circle cx="358.84" cy="75.96" r="1.25"/><circle cx="360.05" cy="73.53" r="1.25"/><circle cx="361.41" cy="71.28" r="1.25"/><circle cx="362.53" cy="73.09" r="1.25"/><circle cx="363.52" cy="73.92" r="1.25"/><circle cx="364.96" cy="73.43" r="1.25"/><circle cx="366.3" cy="72.45" r="1.25"/><circle cx="367.59" cy="73.93" r="1.25"/><circle cx="369.38" cy="75.67" r="1.25"/><circle cx="370.59" cy="75.14" r="1.25"/><circle cx="371.43" cy="75.88" r="1.25"/><circle cx="372.72" cy="71.44" r="1.25"/><circle cx="374.2" cy="74.61" r="1.25"/><circle cx="375.37" cy="74.16" r="1.25"/><circle cx="376.63" cy="75.83" r="1.25"/><circle cx="378.06" cy="73.28" r="1.25"/><circle cx="379.43" cy="75.35" r="1.25"/><circle cx="381.09" cy="73.55" r="1.25"/><circle cx="381.95" cy="74.01" r="1.25"/><circle cx="382.96" cy="73.01" r="1.25"/><circle cx="384.88" cy="74.84" r="1.25"/><circle cx="385.55" cy="75.24" r="1.25"/><circle cx="387.11" cy="75.9" r="1.25"/><circle cx="388.39" cy="71.92" r="1.25"/><circle cx="389.84" cy="75.4" r="1.25"/><circle cx="391.04" cy="75.31" r="1.25"/><circle cx="392.57" cy="72.68" r="1.25"/><circle cx="393.54" cy="73.43" r="1.25"/><circle cx="394.92" cy="72.74" r="1.25"/><circle cx="396.42" cy="75.35" r="1.25"/><circle cx="397.67" cy="71.56" r="1.25"/><circle cx="398.68" cy="72.73" r="1.25"/><circle cx="400.29" cy="71.53" r="1.25"/><circle cx="401.17" cy="72.47" r="1.25"/><circle cx="402.63" cy="70.95" r="1.25"/><circle cx="404.13" cy="75.59" r="1.25"/><circle cx="405.43" cy="74.63" r="1.25"/><circle cx="406.96" cy="75.16" r="1.25"/><circle cx="408.33" cy="73.1" r="1.25"/><circle cx="409.45" cy="71.43" r="1.25"/><circle cx="410.9" cy="72.77" r="1.25"/><circle cx="411.88" cy="75.43" r="1.25"/><circle cx="413.03" cy="71.79" r="1.25"/><circle cx="414.76" cy="73.91" r="1.25"/><circle cx="415.47" cy="70.95" r="1.25"/><circle cx="416.98" cy="70.84" r="1.25"/><circle cx="418.67" cy="71.76" r="1.25"/><circle cx="419.52" cy="72.82" r="1.25"/><circle cx="421.01" cy="73.05" r="1.25"/><circle cx="422.4" cy="74.23" r="1.25"/><circle cx="423.55" cy="71.3" r="1.25"/><circle cx="425.28" cy="74.39" r="1.25"/><circle cx="425.87" cy="73.1" r="1.25"/><circle cx="427.7" cy="75.96" r="1.25"/><circle cx="428.45" cy="70.85" r="1.25"/><circle cx="430.08" cy="72.99" r="1.25"/><circle cx="431.72" cy="75.1" r="1.25"/><circle cx="432.57" cy="72.98" r="1.25"/><circle cx="434.07" cy="75.4" r="1.25"/><circle cx="435.06" cy="72.84" r="1.25"/><circle cx="436.27" cy="74.13" r="1.25"/><circle cx="437.52" cy="75.66" r="1.25"/><circle cx="439.22" cy="73.78" r="1.25"/><circle cx="440.17" cy="72.01" r="1.25"/><circle cx="441.78" cy="75.26" r="1.25"/><circle cx="443.13" cy="72.28" r="1.25"/><circle cx="444.79" cy="74.24" r="1.25"/><circle cx="445.72" cy="71.85" r="1.25"/></g>
<path d="M260.5,108.3 L261,108.3 L261.5,108.3 L262,108.3 L262.5,108.3 L263,108.3 L263.5,108.3 L264,108.3 L264.5,108.3 L265,108.3 L265.5,108.3 L266,108.3 L266.5,108.3 L267,108.3 L267.5,108.3 L268,108.3 L268.5,108.3 L269,108.3 L269.5,108.3 L270,108.3 L270.5,108.3 L271,108.3 L271.5,108.3 L272,108.3 L272.5,108.3 L273,108.3 L273.5,108.3 L274,108.3 L274.5,108.3 L275,108.3 L275.5,108.3 L276,108.3 L276.5,108.3 L277,108.3 L277.5,108.3 L278,108.3 L278.5,108.3 L279,108.3 L279.5,108.3 L280,108.3 L280.5,108.3 L281,108.3 L281.5,108.3 L282,108.3 L282.5,108.3 L283,108.3 L283.5,108.3 L284,108.3 L284.5,108.3 L285,108.3 L285.5,108.3 L286,108.3 L286.5,108.3 L287,108.3 L287.5,108.3 L288,108.3 L288.5,108.3 L289,108.3 L289.5,108.3 L290,108.3 L290.5,108.3 L291,108.3 L291.5,108.3 L292,108.3 L292.5,108.3 L293,108.24 L293.5,107.93 L294,107.62 L294.5,107.31 L295,106.77 L295.5,106.17 L296,105.57 L296.5,105.17 L297,104.83 L297.5,104.67 L298,105.29 L298.5,105.9 L299,106.79 L299.5,107.67 L300,108.45 L300.5,109.2 L301,109.95 L301.5,110.7 L302,111.45 L302.5,111.32 L303,111.2 L303.5,110.79 L304,110.19 L304.5,109.59 L305,109.16 L305.5,108.86 L306,108.55 L306.5,108.3 L307,108.3 L307.5,108.3 L308,108.3 L308.5,108.3 L309,108.3 L309.5,108.3 L310,108.3 L310.5,108.3 L311,108.3 L311.5,108.3 L312,108.3 L312.5,108.3 L313,108.3 L313.5,108.3 L314,108.3 L314.5,108.3 L315,108.3 L315.5,108.3 L316,108.3 L316.5,108.3 L317,108.3 L317.5,108.3 L318,108.3 L318.5,108.3 L319,108.3 L319.5,108.3 L320,108.24 L320.5,107.93 L321,107.62 L321.5,107.31 L322,106.77 L322.5,106.17 L323,105.57 L323.5,105.17 L324,104.83 L324.5,104.67 L325,105.29 L325.5,105.9 L326,106.79 L326.5,107.67 L327,108.14 L327.5,108.58 L328,109.02 L328.5,109.29 L329,109.44 L329.5,108.71 L330,108.14 L330.5,107.39 L331,106.44 L331.5,106.45 L332,106.64 L332.5,107.16 L333,107.74 L333.5,108.3 L334,109.05 L334.5,109.8 L335,110.55 L335.5,111.3 L336,111.35 L336.5,111.22 L337,110.91 L337.5,110.31 L338,109.71 L338.5,109.23 L339,108.92 L339.5,108.61 L340,108.3 L340.5,108.3 L341,108.3 L341.5,108.3 L342,108.3 L342.5,108.3 L343,108.3 L343.5,108.3 L344,108.3 L344.5,108.3 L345,108.3 L345.5,108.3 L346,108.3 L346.5,108.3 L347,108.3 L347.5,108.3 L348,108.3 L348.5,108.3 L349,108.3 L349.5,108.3 L350,108.3 L350.5,108.3 L351,108.3 L351.5,108.3 L352,108.3 L352.5,108.3 L353,108.3 L353.5,108.3 L354,108.05 L354.5,107.74 L355,107.44 L355.5,107.01 L356,106.41 L356.5,105.81 L357,105.31 L357.5,104.97 L358,104.62 L358.5,105.04 L359,105.65 L359.5,106.43 L360,107.32 L360.5,108.15 L361,108.59 L361.5,109.03 L362,109.47 L362.5,109.74 L363,109.37 L363.5,108.64 L364,107.97 L364.5,107.03 L365,106.08 L365.5,106.15 L366,106.46 L366.5,106.98 L367,107.56 L367.5,108.3 L368,109.05 L368.5,109.8 L369,110.55 L369.5,111.3 L370,111.35 L370.5,111.22 L371,110.91 L371.5,110.31 L372,109.71 L372.5,109.23 L373,108.92 L373.5,108.61 L374,108.3 L374.5,108.3 L375,108.3 L375.5,108.3 L376,108.3 L376.5,108.3 L377,108.3 L377.5,108.3 L378,108.3 L378.5,108.3 L379,108.3 L379.5,108.3 L380,108.3 L380.5,108.3 L381,108.3 L381.5,108.3 L382,108.3 L382.5,108.3 L383,108.3 L383.5,108.3 L384,108.3 L384.5,108.3 L385,108.3 L385.5,108.3 L386,108.3 L386.5,108.3 L387,108.3 L387.5,108.3 L388,108.18 L388.5,107.87 L389,107.56 L389.5,107.25 L390,106.65 L390.5,106.05 L391,105.45 L391.5,105.1 L392,104.76 L392.5,104.8 L393,105.41 L393.5,106.08 L394,106.96 L394.5,107.85 L395,108.6 L395.5,109.35 L396,110.1 L396.5,110.85 L397,111.42 L397.5,111.3 L398,111.17 L398.5,110.67 L399,110.07 L399.5,109.47 L400,109.1 L400.5,108.79 L401,108.49 L401.5,108.3 L402,108.3 L402.5,108.3 L403,108.3 L403.5,108.3 L404,108.3 L404.5,108.3 L405,108.3 L405.5,108.3 L406,108.3 L406.5,108.3 L407,108.3 L407.5,108.3 L408,108.3 L408.5,108.3 L409,108.3 L409.5,108.3 L410,108.3 L410.5,108.3 L411,108.3 L411.5,108.3 L412,108.3 L412.5,108.3 L413,108.3 L413.5,108.3 L414,108.3 L414.5,108.3 L415,108.3 L415.5,108.3 L416,108.3 L416.5,108.3 L417,108.3 L417.5,108.3 L418,108.3 L418.5,108.3 L419,108.3 L419.5,108.3 L420,108.3 L420.5,108.3 L421,108.3 L421.5,108.3 L422,108.3 L422.5,108.3 L423,108.3 L423.5,108.3 L424,108.3 L424.5,108.3 L425,108.3 L425.5,108.3 L426,108.3 L426.5,108.3 L427,108.3 L427.5,108.3 L428,108.3 L428.5,108.3 L429,108.3 L429.5,108.3 L430,108.3 L430.5,108.3 L431,108.3 L431.5,108.3 L432,108.3 L432.5,108.3 L433,108.3 L433.5,108.3 L434,108.3 L434.5,108.3 L435,108.3 L435.5,108.3 L436,108.3 L436.5,108.3 L437,108.3 L437.5,108.3 L438,108.3 L438.5,108.3 L439,108.3 L439.5,108.3 L440,108.3 L440.5,108.3 L441,108.3 L441.5,108.3 L442,108.3 L442.5,108.3 L443,108.3 L443.5,108.3 L444,108.3 L444.5,108.3 L445,108.3 L445.5,108.3 L446,108.3 L446.5,108.3" stroke="#f6b6b9" stroke-width="5.8" fill="none" stroke-linejoin="round" opacity="0.5"/>
<path d="M260.5,108.3 L261,108.3 L261.5,108.3 L262,108.3 L262.5,108.3 L263,108.3 L263.5,108.3 L264,108.3 L264.5,108.3 L265,108.3 L265.5,108.3 L266,108.3 L266.5,108.3 L267,108.3 L267.5,108.3 L268,108.3 L268.5,108.3 L269,108.3 L269.5,108.3 L270,108.3 L270.5,108.3 L271,108.3 L271.5,108.3 L272,108.3 L272.5,108.3 L273,108.3 L273.5,108.3 L274,108.3 L274.5,108.3 L275,108.3 L275.5,108.3 L276,108.3 L276.5,108.3 L277,108.3 L277.5,108.3 L278,108.3 L278.5,108.3 L279,108.3 L279.5,108.3 L280,108.3 L280.5,108.3 L281,108.3 L281.5,108.3 L282,108.3 L282.5,108.3 L283,108.3 L283.5,108.3 L284,108.3 L284.5,108.3 L285,108.3 L285.5,108.3 L286,108.3 L286.5,108.3 L287,108.3 L287.5,108.3 L288,108.3 L288.5,108.3 L289,108.3 L289.5,108.3 L290,108.3 L290.5,108.3 L291,108.3 L291.5,108.3 L292,108.3 L292.5,108.3 L293,108.24 L293.5,107.93 L294,107.62 L294.5,107.31 L295,106.77 L295.5,106.17 L296,105.57 L296.5,105.17 L297,104.83 L297.5,104.67 L298,105.29 L298.5,105.9 L299,106.79 L299.5,107.67 L300,108.45 L300.5,109.2 L301,109.95 L301.5,110.7 L302,111.45 L302.5,111.32 L303,111.2 L303.5,110.79 L304,110.19 L304.5,109.59 L305,109.16 L305.5,108.86 L306,108.55 L306.5,108.3 L307,108.3 L307.5,108.3 L308,108.3 L308.5,108.3 L309,108.3 L309.5,108.3 L310,108.3 L310.5,108.3 L311,108.3 L311.5,108.3 L312,108.3 L312.5,108.3 L313,108.3 L313.5,108.3 L314,108.3 L314.5,108.3 L315,108.3 L315.5,108.3 L316,108.3 L316.5,108.3 L317,108.3 L317.5,108.3 L318,108.3 L318.5,108.3 L319,108.3 L319.5,108.3 L320,108.24 L320.5,107.93 L321,107.62 L321.5,107.31 L322,106.77 L322.5,106.17 L323,105.57 L323.5,105.17 L324,104.83 L324.5,104.67 L325,105.29 L325.5,105.9 L326,106.79 L326.5,107.67 L327,108.14 L327.5,108.58 L328,109.02 L328.5,109.29 L329,109.44 L329.5,108.71 L330,108.14 L330.5,107.39 L331,106.44 L331.5,106.45 L332,106.64 L332.5,107.16 L333,107.74 L333.5,108.3 L334,109.05 L334.5,109.8 L335,110.55 L335.5,111.3 L336,111.35 L336.5,111.22 L337,110.91 L337.5,110.31 L338,109.71 L338.5,109.23 L339,108.92 L339.5,108.61 L340,108.3 L340.5,108.3 L341,108.3 L341.5,108.3 L342,108.3 L342.5,108.3 L343,108.3 L343.5,108.3 L344,108.3 L344.5,108.3 L345,108.3 L345.5,108.3 L346,108.3 L346.5,108.3 L347,108.3 L347.5,108.3 L348,108.3 L348.5,108.3 L349,108.3 L349.5,108.3 L350,108.3 L350.5,108.3 L351,108.3 L351.5,108.3 L352,108.3 L352.5,108.3 L353,108.3 L353.5,108.3 L354,108.05 L354.5,107.74 L355,107.44 L355.5,107.01 L356,106.41 L356.5,105.81 L357,105.31 L357.5,104.97 L358,104.62 L358.5,105.04 L359,105.65 L359.5,106.43 L360,107.32 L360.5,108.15 L361,108.59 L361.5,109.03 L362,109.47 L362.5,109.74 L363,109.37 L363.5,108.64 L364,107.97 L364.5,107.03 L365,106.08 L365.5,106.15 L366,106.46 L366.5,106.98 L367,107.56 L367.5,108.3 L368,109.05 L368.5,109.8 L369,110.55 L369.5,111.3 L370,111.35 L370.5,111.22 L371,110.91 L371.5,110.31 L372,109.71 L372.5,109.23 L373,108.92 L373.5,108.61 L374,108.3 L374.5,108.3 L375,108.3 L375.5,108.3 L376,108.3 L376.5,108.3 L377,108.3 L377.5,108.3 L378,108.3 L378.5,108.3 L379,108.3 L379.5,108.3 L380,108.3 L380.5,108.3 L381,108.3 L381.5,108.3 L382,108.3 L382.5,108.3 L383,108.3 L383.5,108.3 L384,108.3 L384.5,108.3 L385,108.3 L385.5,108.3 L386,108.3 L386.5,108.3 L387,108.3 L387.5,108.3 L388,108.18 L388.5,107.87 L389,107.56 L389.5,107.25 L390,106.65 L390.5,106.05 L391,105.45 L391.5,105.1 L392,104.76 L392.5,104.8 L393,105.41 L393.5,106.08 L394,106.96 L394.5,107.85 L395,108.6 L395.5,109.35 L396,110.1 L396.5,110.85 L397,111.42 L397.5,111.3 L398,111.17 L398.5,110.67 L399,110.07 L399.5,109.47 L400,109.1 L400.5,108.79 L401,108.49 L401.5,108.3 L402,108.3 L402.5,108.3 L403,108.3 L403.5,108.3 L404,108.3 L404.5,108.3 L405,108.3 L405.5,108.3 L406,108.3 L406.5,108.3 L407,108.3 L407.5,108.3 L408,108.3 L408.5,108.3 L409,108.3 L409.5,108.3 L410,108.3 L410.5,108.3 L411,108.3 L411.5,108.3 L412,108.3 L412.5,108.3 L413,108.3 L413.5,108.3 L414,108.3 L414.5,108.3 L415,108.3 L415.5,108.3 L416,108.3 L416.5,108.3 L417,108.3 L417.5,108.3 L418,108.3 L418.5,108.3 L419,108.3 L419.5,108.3 L420,108.3 L420.5,108.3 L421,108.3 L421.5,108.3 L422,108.3 L422.5,108.3 L423,108.3 L423.5,108.3 L424,108.3 L424.5,108.3 L425,108.3 L425.5,108.3 L426,108.3 L426.5,108.3 L427,108.3 L427.5,108.3 L428,108.3 L428.5,108.3 L429,108.3 L429.5,108.3 L430,108.3 L430.5,108.3 L431,108.3 L431.5,108.3 L432,108.3 L432.5,108.3 L433,108.3 L433.5,108.3 L434,108.3 L434.5,108.3 L435,108.3 L435.5,108.3 L436,108.3 L436.5,108.3 L437,108.3 L437.5,108.3 L438,108.3 L438.5,108.3 L439,108.3 L439.5,108.3 L440,108.3 L440.5,108.3 L441,108.3 L441.5,108.3 L442,108.3 L442.5,108.3 L443,108.3 L443.5,108.3 L444,108.3 L444.5,108.3 L445,108.3 L445.5,108.3 L446,108.3 L446.5,108.3" stroke="#ee7076" stroke-width="2.6" fill="none" stroke-linejoin="round" opacity="0.45"/>
<g fill="none" stroke="#e5303a" stroke-width="0.45" opacity="0.75"><circle cx="260.94" cy="109.98" r="1.25"/><circle cx="262.11" cy="108.43" r="1.25"/><circle cx="263.8" cy="107.69" r="1.25"/><circle cx="265.21" cy="110.02" r="1.25"/><circle cx="266.59" cy="109.3" r="1.25"/><circle cx="267.36" cy="106.45" r="1.25"/><circle cx="268.85" cy="107.51" r="1.25"/><circle cx="269.96" cy="109.86" r="1.25"/><circle cx="271.27" cy="109.66" r="1.25"/><circle cx="273.15" cy="106.7" r="1.25"/><circle cx="274.43" cy="107.87" r="1.25"/><circle cx="275.17" cy="106.98" r="1.25"/><circle cx="276.33" cy="108.29" r="1.25"/><circle cx="277.91" cy="109.78" r="1.25"/><circle cx="279.57" cy="106.44" r="1.25"/><circle cx="280.52" cy="107.83" r="1.25"/><circle cx="281.64" cy="107.25" r="1.25"/><circle cx="283.01" cy="109.12" r="1.25"/><circle cx="284.37" cy="106.67" r="1.25"/><circle cx="285.58" cy="108.06" r="1.25"/><circle cx="287.15" cy="107.23" r="1.25"/><circle cx="288.56" cy="107.1" r="1.25"/><circle cx="289.84" cy="108.76" r="1.25"/><circle cx="290.74" cy="109.35" r="1.25"/><circle cx="292.22" cy="108.47" r="1.25"/><circle cx="293.68" cy="108.36" r="1.25"/><circle cx="294.85" cy="105.08" r="1.25"/><circle cx="296.43" cy="106.73" r="1.25"/><circle cx="297.49" cy="104.99" r="1.25"/><circle cx="298.61" cy="107.78" r="1.25"/><circle cx="300.25" cy="107.65" r="1.25"/><circle cx="301.65" cy="112.97" r="1.25"/><circle cx="302.58" cy="113.39" r="1.25"/><circle cx="303.99" cy="108.86" r="1.25"/><circle cx="305.47" cy="108.2" r="1.25"/><circle cx="306.79" cy="108.65" r="1.25"/><circle cx="307.59" cy="108.42" r="1.25"/><circle cx="309.48" cy="108.21" r="1.25"/><circle cx="310.53" cy="109.83" r="1.25"/><circle cx="311.76" cy="108.27" r="1.25"/><circle cx="313.17" cy="109.66" r="1.25"/><circle cx="314.16" cy="106.59" r="1.25"/><circle cx="315.91" cy="108.52" r="1.25"/><circle cx="316.84" cy="109.95" r="1.25"/><circle cx="318.61" cy="108.47" r="1.25"/><circle cx="319.99" cy="109.65" r="1.25"/><circle cx="321.1" cy="106.68" r="1.25"/><circle cx="321.81" cy="107.75" r="1.25"/><circle cx="323.69" cy="104.42" r="1.25"/><circle cx="324.78" cy="105.3" r="1.25"/><circle cx="325.9" cy="107.44" r="1.25"/><circle cx="327.45" cy="108.06" r="1.25"/><circle cx="328.39" cy="109.48" r="1.25"/><circle cx="329.86" cy="109.22" r="1.25"/><circle cx="331.04" cy="106" r="1.25"/><circle cx="332.36" cy="106.61" r="1.25"/><circle cx="333.96" cy="107.34" r="1.25"/><circle cx="334.84" cy="110.24" r="1.25"/><circle cx="336.26" cy="111.31" r="1.25"/><circle cx="337.53" cy="108.59" r="1.25"/><circle cx="339.13" cy="110.61" r="1.25"/><circle cx="340.69" cy="108.37" r="1.25"/><circle cx="341.62" cy="106.48" r="1.25"/><circle cx="342.82" cy="107.52" r="1.25"/><circle cx="344.65" cy="106.69" r="1.25"/><circle cx="345.96" cy="108.2" r="1.25"/><circle cx="346.85" cy="107.3" r="1.25"/><circle cx="348.57" cy="106.98" r="1.25"/><circle cx="349.56" cy="108.35" r="1.25"/><circle cx="350.56" cy="107.14" r="1.25"/><circle cx="352.49" cy="109.52" r="1.25"/><circle cx="353.59" cy="109.99" r="1.25"/><circle cx="354.38" cy="108.67" r="1.25"/><circle cx="356.2" cy="105.02" r="1.25"/><circle cx="357.27" cy="107.12" r="1.25"/><circle cx="358.46" cy="106.1" r="1.25"/><circle cx="359.63" cy="107.37" r="1.25"/><circle cx="361.02" cy="108.64" r="1.25"/><circle cx="362.4" cy="111.26" r="1.25"/><circle cx="364" cy="108" r="1.25"/><circle cx="365.25" cy="105.78" r="1.25"/><circle cx="366.64" cy="106.13" r="1.25"/><circle cx="367.74" cy="109.01" r="1.25"/><circle cx="368.91" cy="108.51" r="1.25"/><circle cx="370.04" cy="111.93" r="1.25"/><circle cx="371.37" cy="111.55" r="1.25"/><circle cx="372.9" cy="110.88" r="1.25"/><circle cx="374.48" cy="109.25" r="1.25"/><circle cx="375.4" cy="106.38" r="1.25"/><circle cx="376.85" cy="109.33" r="1.25"/><circle cx="378.44" cy="107.05" r="1.25"/><circle cx="379.13" cy="110.32" r="1.25"/><circle cx="380.89" cy="108.24" r="1.25"/><circle cx="382.19" cy="106.83" r="1.25"/><circle cx="383.34" cy="109.01" r="1.25"/><circle cx="384.68" cy="106.88" r="1.25"/><circle cx="385.61" cy="108.82" r="1.25"/><circle cx="387.51" cy="106.78" r="1.25"/><circle cx="388.11" cy="106.36" r="1.25"/><circle cx="390.03" cy="106.16" r="1.25"/><circle cx="391.06" cy="107.48" r="1.25"/><circle cx="392.49" cy="103.79" r="1.25"/><circle cx="393.86" cy="104.63" r="1.25"/><circle cx="394.83" cy="109.17" r="1.25"/><circle cx="396.04" cy="108.19" r="1.25"/><circle cx="397.61" cy="110.55" r="1.25"/><circle cx="399.28" cy="108.06" r="1.25"/><circle cx="400.44" cy="108.36" r="1.25"/><circle cx="401.74" cy="108.07" r="1.25"/><circle cx="402.93" cy="107.57" r="1.25"/><circle cx="403.88" cy="108.1" r="1.25"/><circle cx="405.64" cy="107.65" r="1.25"/><circle cx="406.48" cy="107.95" r="1.25"/><circle cx="407.68" cy="107.53" r="1.25"/><circle cx="409.36" cy="108.49" r="1.25"/><circle cx="410.68" cy="107.42" r="1.25"/><circle cx="411.52" cy="106.31" r="1.25"/><circle cx="413.07" cy="107.03" r="1.25"/><circle cx="414.56" cy="107.31" r="1.25"/><circle cx="416.01" cy="108.73" r="1.25"/><circle cx="417.23" cy="109.29" r="1.25"/><circle cx="418.42" cy="107.99" r="1.25"/><circle cx="419.55" cy="106.46" r="1.25"/><circle cx="421.24" cy="108.3" r="1.25"/><circle cx="421.98" cy="110.09" r="1.25"/><circle cx="423.67" cy="108.82" r="1.25"/><circle cx="424.85" cy="106.73" r="1.25"/><circle cx="426.6" cy="106.91" r="1.25"/><circle cx="427.39" cy="110.4" r="1.25"/><circle cx="428.5" cy="108.3" r="1.25"/><circle cx="430.08" cy="107.24" r="1.25"/><circle cx="431.74" cy="107.94" r="1.25"/><circle cx="432.31" cy="108.19" r="1.25"/><circle cx="433.6" cy="109.18" r="1.25"/><circle cx="435.6" cy="110" r="1.25"/><circle cx="436.24" cy="109.04" r="1.25"/><circle cx="437.74" cy="108.19" r="1.25"/><circle cx="439.04" cy="107.48" r="1.25"/><circle cx="440.21" cy="108.83" r="1.25"/><circle cx="441.47" cy="110.25" r="1.25"/><circle cx="442.74" cy="110.25" r="1.25"/><circle cx="444.15" cy="106.55" r="1.25"/><circle cx="445.9" cy="108.43" r="1.25"/><circle cx="261.32" cy="108.34" r="1.25"/><circle cx="262.5" cy="106.55" r="1.25"/><circle cx="263.84" cy="108.35" r="1.25"/><circle cx="265.37" cy="106.23" r="1.25"/><circle cx="265.95" cy="109.04" r="1.25"/><circle cx="267.94" cy="107.97" r="1.25"/><circle cx="269.07" cy="108.55" r="1.25"/><circle cx="270.11" cy="108.15" r="1.25"/><circle cx="271.58" cy="106.32" r="1.25"/><circle cx="272.64" cy="109.3" r="1.25"/><circle cx="273.91" cy="108.19" r="1.25"/><circle cx="275.21" cy="107.7" r="1.25"/><circle cx="276.82" cy="109.32" r="1.25"/><circle cx="278.37" cy="108.2" r="1.25"/><circle cx="279.06" cy="107.62" r="1.25"/><circle cx="280.25" cy="107.21" r="1.25"/><circle cx="281.97" cy="108.77" r="1.25"/><circle cx="282.99" cy="106.96" r="1.25"/><circle cx="284.18" cy="106.95" r="1.25"/><circle cx="285.8" cy="107.27" r="1.25"/><circle cx="287.41" cy="108.57" r="1.25"/><circle cx="288.27" cy="108.01" r="1.25"/><circle cx="289.33" cy="109.28" r="1.25"/><circle cx="291.2" cy="107.73" r="1.25"/><circle cx="292.48" cy="107.34" r="1.25"/><circle cx="293.38" cy="106.86" r="1.25"/><circle cx="294.66" cy="107.63" r="1.25"/><circle cx="296.31" cy="106.26" r="1.25"/><circle cx="297.18" cy="105.82" r="1.25"/><circle cx="298.78" cy="105.89" r="1.25"/><circle cx="300.1" cy="108.32" r="1.25"/><circle cx="301.16" cy="109.75" r="1.25"/><circle cx="302.82" cy="112.15" r="1.25"/><circle cx="304.33" cy="108.51" r="1.25"/><circle cx="305.61" cy="110.05" r="1.25"/><circle cx="306.77" cy="110.31" r="1.25"/><circle cx="307.61" cy="109.46" r="1.25"/><circle cx="309.52" cy="106.71" r="1.25"/><circle cx="310.58" cy="110.18" r="1.25"/><circle cx="311.63" cy="109.79" r="1.25"/><circle cx="313.43" cy="108.03" r="1.25"/><circle cx="314.12" cy="107.11" r="1.25"/><circle cx="315.96" cy="107.97" r="1.25"/><circle cx="316.85" cy="108.06" r="1.25"/><circle cx="318.64" cy="107.27" r="1.25"/><circle cx="319.21" cy="110.19" r="1.25"/><circle cx="320.75" cy="107.29" r="1.25"/><circle cx="322.58" cy="105.16" r="1.25"/><circle cx="323.17" cy="107.03" r="1.25"/><circle cx="324.6" cy="103.62" r="1.25"/><circle cx="326.45" cy="106.45" r="1.25"/><circle cx="327.72" cy="108.08" r="1.25"/><circle cx="328.54" cy="108.11" r="1.25"/><circle cx="330.03" cy="108.36" r="1.25"/><circle cx="331.22" cy="106.48" r="1.25"/><circle cx="332.44" cy="108.51" r="1.25"/><circle cx="334.25" cy="110.48" r="1.25"/><circle cx="335.46" cy="109.43" r="1.25"/><circle cx="336.3" cy="110.03" r="1.25"/><circle cx="337.52" cy="112.25" r="1.25"/><circle cx="339.42" cy="110.4" r="1.25"/><circle cx="340.45" cy="106.69" r="1.25"/><circle cx="341.64" cy="106.44" r="1.25"/><circle cx="343.32" cy="107.32" r="1.25"/><circle cx="344.13" cy="110.17" r="1.25"/><circle cx="345.36" cy="110.07" r="1.25"/><circle cx="346.75" cy="108.99" r="1.25"/><circle cx="347.89" cy="109.97" r="1.25"/><circle cx="349.42" cy="107.65" r="1.25"/><circle cx="350.92" cy="108.69" r="1.25"/><circle cx="351.9" cy="106.72" r="1.25"/><circle cx="353.46" cy="106.3" r="1.25"/><circle cx="355" cy="106.78" r="1.25"/><circle cx="355.74" cy="106" r="1.25"/><circle cx="356.99" cy="104.55" r="1.25"/><circle cx="358.63" cy="104.82" r="1.25"/><circle cx="359.77" cy="106.03" r="1.25"/><circle cx="361.19" cy="109.93" r="1.25"/><circle cx="362.45" cy="110.85" r="1.25"/><circle cx="363.79" cy="106.67" r="1.25"/><circle cx="364.84" cy="107.85" r="1.25"/><circle cx="366.38" cy="106.35" r="1.25"/><circle cx="367.71" cy="110.07" r="1.25"/><circle cx="368.9" cy="109.82" r="1.25"/><circle cx="370.19" cy="109.25" r="1.25"/><circle cx="371.64" cy="110.06" r="1.25"/><circle cx="372.9" cy="108.78" r="1.25"/><circle cx="374.18" cy="109.2" r="1.25"/><circle cx="375.25" cy="110.32" r="1.25"/><circle cx="376.49" cy="109.84" r="1.25"/><circle cx="377.84" cy="109.54" r="1.25"/><circle cx="379.21" cy="106.53" r="1.25"/><circle cx="380.73" cy="109.72" r="1.25"/><circle cx="382.28" cy="109.88" r="1.25"/><circle cx="383.68" cy="106.42" r="1.25"/><circle cx="384.5" cy="106.65" r="1.25"/><circle cx="386.1" cy="108.1" r="1.25"/><circle cx="387.4" cy="109.54" r="1.25"/><circle cx="388.9" cy="108.36" r="1.25"/><circle cx="390.1" cy="106.73" r="1.25"/><circle cx="390.76" cy="107.38" r="1.25"/><circle cx="392.07" cy="102.97" r="1.25"/><circle cx="393.96" cy="105.98" r="1.25"/><circle cx="395.13" cy="106.82" r="1.25"/><circle cx="396.07" cy="111.11" r="1.25"/><circle cx="397.23" cy="111.41" r="1.25"/><circle cx="399.25" cy="108.57" r="1.25"/><circle cx="400.36" cy="109.9" r="1.25"/><circle cx="401.6" cy="109.42" r="1.25"/><circle cx="402.96" cy="106.26" r="1.25"/><circle cx="403.85" cy="108.45" r="1.25"/><circle cx="405.78" cy="107.11" r="1.25"/><circle cx="406.77" cy="106.74" r="1.25"/><circle cx="408.28" cy="108.07" r="1.25"/><circle cx="409.32" cy="109.01" r="1.25"/><circle cx="410.31" cy="109.26" r="1.25"/><circle cx="412.14" cy="109.81" r="1.25"/><circle cx="413.03" cy="107.18" r="1.25"/><circle cx="414.23" cy="109.98" r="1.25"/><circle cx="415.75" cy="107.84" r="1.25"/><circle cx="417.12" cy="109.13" r="1.25"/><circle cx="418.25" cy="107.61" r="1.25"/><circle cx="419.91" cy="109.46" r="1.25"/><circle cx="420.84" cy="106.51" r="1.25"/><circle cx="422.64" cy="109.26" r="1.25"/><circle cx="423.68" cy="107.9" r="1.25"/><circle cx="425.27" cy="108.01" r="1.25"/><circle cx="425.97" cy="106.62" r="1.25"/><circle cx="427.38" cy="108.72" r="1.25"/><circle cx="428.69" cy="110.18" r="1.25"/><circle cx="430.22" cy="108.12" r="1.25"/><circle cx="431.53" cy="108.73" r="1.25"/><circle cx="432.79" cy="108.28" r="1.25"/><circle cx="434.02" cy="108.26" r="1.25"/><circle cx="435.57" cy="107.01" r="1.25"/><circle cx="436.83" cy="107.45" r="1.25"/><circle cx="438.18" cy="106.51" r="1.25"/><circle cx="439.19" cy="108.06" r="1.25"/><circle cx="440.67" cy="107.05" r="1.25"/><circle cx="441.61" cy="106.76" r="1.25"/><circle cx="443.15" cy="108.62" r="1.25"/><circle cx="444" cy="106.95" r="1.25"/><circle cx="445.46" cy="110.22" r="1.25"/><circle cx="261.06" cy="108.58" r="1.25"/><circle cx="262.23" cy="108.97" r="1.25"/><circle cx="263.95" cy="109.02" r="1.25"/><circle cx="264.6" cy="108.05" r="1.25"/><circle cx="266.29" cy="106.39" r="1.25"/><circle cx="267.83" cy="107.54" r="1.25"/><circle cx="268.73" cy="108.83" r="1.25"/><circle cx="270.27" cy="108.29" r="1.25"/><circle cx="271.79" cy="108.38" r="1.25"/><circle cx="272.67" cy="106.47" r="1.25"/><circle cx="274.14" cy="107.73" r="1.25"/><circle cx="275.43" cy="107.66" r="1.25"/><circle cx="276.31" cy="106.36" r="1.25"/><circle cx="277.73" cy="106.59" r="1.25"/><circle cx="279.58" cy="108.64" r="1.25"/><circle cx="280.39" cy="109.18" r="1.25"/><circle cx="282.01" cy="106.46" r="1.25"/><circle cx="283.4" cy="107.16" r="1.25"/><circle cx="284.9" cy="106.8" r="1.25"/><circle cx="285.63" cy="107.25" r="1.25"/><circle cx="287.39" cy="109.64" r="1.25"/><circle cx="288.46" cy="106.83" r="1.25"/><circle cx="289.64" cy="109.15" r="1.25"/><circle cx="290.65" cy="110.07" r="1.25"/><circle cx="292.57" cy="110.11" r="1.25"/><circle cx="293.76" cy="108.26" r="1.25"/><circle cx="295.28" cy="105.45" r="1.25"/><circle cx="296.04" cy="103.93" r="1.25"/><circle cx="297.24" cy="105.91" r="1.25"/><circle cx="298.48" cy="106.9" r="1.25"/><circle cx="300.02" cy="110.06" r="1.25"/><circle cx="301.61" cy="111.65" r="1.25"/><circle cx="302.98" cy="109.28" r="1.25"/><circle cx="303.81" cy="109.86" r="1.25"/><circle cx="305.24" cy="109.73" r="1.25"/><circle cx="306.9" cy="109.31" r="1.25"/><circle cx="308.24" cy="109.12" r="1.25"/><circle cx="309.09" cy="108.33" r="1.25"/><circle cx="310.7" cy="109.62" r="1.25"/><circle cx="311.7" cy="107.69" r="1.25"/><circle cx="313.19" cy="107.16" r="1.25"/><circle cx="314.71" cy="106.2" r="1.25"/><circle cx="315.82" cy="108.24" r="1.25"/><circle cx="316.76" cy="108.59" r="1.25"/><circle cx="318.28" cy="110.24" r="1.25"/><circle cx="319.91" cy="108.66" r="1.25"/><circle cx="321.2" cy="109.11" r="1.25"/><circle cx="321.93" cy="108.23" r="1.25"/><circle cx="323.77" cy="107.05" r="1.25"/><circle cx="325.01" cy="104.84" r="1.25"/><circle cx="325.87" cy="107.19" r="1.25"/><circle cx="327.17" cy="109.37" r="1.25"/><circle cx="328.76" cy="110.74" r="1.25"/><circle cx="329.89" cy="107.42" r="1.25"/><circle cx="331.62" cy="107.14" r="1.25"/><circle cx="332.5" cy="107.42" r="1.25"/><circle cx="333.85" cy="109.42" r="1.25"/><circle cx="335.21" cy="109.97" r="1.25"/><circle cx="336.88" cy="112.67" r="1.25"/><circle cx="338.01" cy="108.77" r="1.25"/><circle cx="338.86" cy="109.98" r="1.25"/><circle cx="340.66" cy="108.94" r="1.25"/><circle cx="341.47" cy="109.23" r="1.25"/><circle cx="343.02" cy="107.77" r="1.25"/><circle cx="344.37" cy="108.08" r="1.25"/><circle cx="345.72" cy="109.36" r="1.25"/><circle cx="347.29" cy="106.67" r="1.25"/><circle cx="348.26" cy="110.17" r="1.25"/><circle cx="349.63" cy="108.63" r="1.25"/><circle cx="351.08" cy="106.33" r="1.25"/><circle cx="352.33" cy="108.82" r="1.25"/><circle cx="353.47" cy="107.5" r="1.25"/><circle cx="354.8" cy="105.99" r="1.25"/><circle cx="356.02" cy="105.37" r="1.25"/><circle cx="357.65" cy="106.14" r="1.25"/><circle cx="358.58" cy="106.21" r="1.25"/><circle cx="359.81" cy="107.08" r="1.25"/><circle cx="360.93" cy="110.03" r="1.25"/><circle cx="362.71" cy="110.88" r="1.25"/><circle cx="363.47" cy="110.03" r="1.25"/><circle cx="364.71" cy="106.9" r="1.25"/><circle cx="366.39" cy="105" r="1.25"/><circle cx="367.64" cy="110.13" r="1.25"/><circle cx="369.1" cy="109.92" r="1.25"/><circle cx="370.55" cy="110.6" r="1.25"/><circle cx="371.92" cy="109.39" r="1.25"/><circle cx="372.56" cy="111.17" r="1.25"/><circle cx="373.86" cy="107.35" r="1.25"/><circle cx="375.72" cy="106.68" r="1.25"/><circle cx="376.84" cy="109.81" r="1.25"/><circle cx="378.17" cy="107.66" r="1.25"/><circle cx="379.61" cy="109.67" r="1.25"/><circle cx="380.76" cy="108.83" r="1.25"/><circle cx="381.86" cy="107.91" r="1.25"/><circle cx="383.69" cy="110.28" r="1.25"/><circle cx="384.2" cy="107.02" r="1.25"/><circle cx="385.68" cy="109.53" r="1.25"/><circle cx="386.96" cy="106.91" r="1.25"/><circle cx="388.71" cy="106.35" r="1.25"/><circle cx="390.18" cy="106.24" r="1.25"/><circle cx="391.42" cy="106.5" r="1.25"/><circle cx="392.17" cy="105.84" r="1.25"/><circle cx="393.63" cy="105.14" r="1.25"/><circle cx="394.64" cy="108.91" r="1.25"/><circle cx="396.35" cy="109.8" r="1.25"/><circle cx="397.87" cy="109.94" r="1.25"/><circle cx="398.86" cy="108.51" r="1.25"/><circle cx="400.08" cy="110.67" r="1.25"/><circle cx="401.5" cy="106.84" r="1.25"/><circle cx="402.59" cy="108.91" r="1.25"/><circle cx="403.92" cy="109.93" r="1.25"/><circle cx="405.05" cy="109.85" r="1.25"/><circle cx="406.8" cy="109.65" r="1.25"/><circle cx="407.88" cy="106.49" r="1.25"/><circle cx="409.04" cy="108.83" r="1.25"/><circle cx="410.22" cy="106.66" r="1.25"/><circle cx="412.13" cy="109.89" r="1.25"/><circle cx="413.48" cy="109.72" r="1.25"/><circle cx="414.54" cy="109.88" r="1.25"/><circle cx="415.96" cy="108.54" r="1.25"/><circle cx="417.04" cy="106.3" r="1.25"/><circle cx="418.07" cy="107.25" r="1.25"/><circle cx="419.67" cy="106.71" r="1.25"/><circle cx="421.38" cy="108.62" r="1.25"/><circle cx="422.49" cy="109.95" r="1.25"/><circle cx="423.38" cy="109.92" r="1.25"/><circle cx="425.27" cy="107.32" r="1.25"/><circle cx="425.9" cy="109.56" r="1.25"/><circle cx="427.81" cy="109.55" r="1.25"/><circle cx="428.73" cy="108.73" r="1.25"/><circle cx="429.79" cy="107.18" r="1.25"/><circle cx="431.34" cy="109.33" r="1.25"/><circle cx="432.37" cy="110.1" r="1.25"/><circle cx="433.62" cy="110.27" r="1.25"/><circle cx="435.09" cy="109.64" r="1.25"/><circle cx="436.85" cy="110.21" r="1.25"/><circle cx="437.88" cy="109.13" r="1.25"/><circle cx="439.03" cy="109.7" r="1.25"/><circle cx="440.19" cy="109.91" r="1.25"/><circle cx="441.87" cy="106.46" r="1.25"/><circle cx="443.45" cy="107.53" r="1.25"/><circle cx="444.05" cy="107.29" r="1.25"/><circle cx="445.32" cy="107.38" r="1.25"/></g>
<path d="M260.5,130.6 L261,130.6 L261.5,130.6 L262,130.6 L262.5,130.6 L263,130.6 L263.5,130.6 L264,130.6 L264.5,130.6 L265,130.6 L265.5,130.6 L266,130.6 L266.5,130.6 L267,130.6 L267.5,130.6 L268,130.6 L268.5,130.6 L269,130.6 L269.5,130.6 L270,130.6 L270.5,130.6 L271,130.6 L271.5,130.6 L272,130.6 L272.5,130.6 L273,130.6 L273.5,130.6 L274,130.6 L274.5,130.6 L275,130.6 L275.5,130.6 L276,130.6 L276.5,130.6 L277,130.6 L277.5,130.6 L278,130.6 L278.5,130.6 L279,130.6 L279.5,130.6 L280,130.6 L280.5,130.6 L281,130.6 L281.5,130.6 L282,130.6 L282.5,130.6 L283,130.6 L283.5,130.6 L284,130.6 L284.5,130.6 L285,130.6 L285.5,130.6 L286,130.6 L286.5,130.6 L287,130.6 L287.5,130.6 L288,130.6 L288.5,130.6 L289,130.6 L289.5,130.6 L290,130.6 L290.5,130.6 L291,130.6 L291.5,130.6 L292,130.6 L292.5,130.6 L293,130.6 L293.5,130.6 L294,130.6 L294.5,130.6 L295,130.6 L295.5,130.6 L296,130.6 L296.5,130.6 L297,130.6 L297.5,130.6 L298,130.6 L298.5,130.6 L299,130.6 L299.5,130.6 L300,130.6 L300.5,130.6 L301,130.6 L301.5,130.6 L302,130.6 L302.5,130.6 L303,130.6 L303.5,130.6 L304,130.6 L304.5,130.6 L305,130.6 L305.5,130.6 L306,130.6 L306.5,130.6 L307,130.6 L307.5,130.6 L308,130.6 L308.5,130.6 L309,130.6 L309.5,130.6 L310,130.6 L310.5,130.6 L311,130.6 L311.5,130.6 L312,130.6 L312.5,130.6 L313,130.6 L313.5,130.6 L314,130.6 L314.5,130.6 L315,130.6 L315.5,130.6 L316,130.6 L316.5,130.6 L317,130.6 L317.5,130.6 L318,130.6 L318.5,130.6 L319,130.6 L319.5,130.6 L320,130.6 L320.5,130.6 L321,130.6 L321.5,130.6 L322,130.6 L322.5,130.6 L323,130.6 L323.5,130.6 L324,130.6 L324.5,130.6 L325,130.6 L325.5,130.6 L326,130.6 L326.5,130.6 L327,130.6 L327.5,130.6 L328,130.6 L328.5,130.6 L329,130.6 L329.5,130.6 L330,130.6 L330.5,130.6 L331,130.6 L331.5,130.6 L332,130.6 L332.5,130.6 L333,130.6 L333.5,130.6 L334,130.6 L334.5,130.6 L335,130.6 L335.5,130.6 L336,130.6 L336.5,130.6 L337,130.6 L337.5,130.6 L338,130.6 L338.5,130.6 L339,130.6 L339.5,130.6 L340,130.6 L340.5,130.6 L341,130.6 L341.5,130.6 L342,130.6 L342.5,130.6 L343,130.6 L343.5,130.6 L344,130.6 L344.5,130.6 L345,130.6 L345.5,130.6 L346,130.6 L346.5,130.6 L347,130.6 L347.5,130.6 L348,130.6 L348.5,130.6 L349,130.6 L349.5,130.6 L350,130.6 L350.5,130.6 L351,130.6 L351.5,130.6 L352,130.6 L352.5,130.6 L353,130.6 L353.5,130.6 L354,130.6 L354.5,130.6 L355,130.6 L355.5,130.6 L356,130.6 L356.5,130.6 L357,130.6 L357.5,130.6 L358,130.6 L358.5,130.6 L359,130.6 L359.5,130.6 L360,130.6 L360.5,130.6 L361,130.6 L361.5,130.6 L362,130.6 L362.5,130.6 L363,130.6 L363.5,130.6 L364,130.6 L364.5,130.6 L365,130.6 L365.5,130.6 L366,130.6 L366.5,130.6 L367,130.6 L367.5,130.6 L368,130.6 L368.5,130.6 L369,130.6 L369.5,130.6 L370,130.6 L370.5,130.6 L371,130.6 L371.5,130.6 L372,130.6 L372.5,130.6 L373,130.6 L373.5,130.6 L374,130.6 L374.5,130.6 L375,130.6 L375.5,130.6 L376,130.6 L376.5,130.6 L377,130.6 L377.5,130.6 L378,130.6 L378.5,130.6 L379,130.6 L379.5,130.6 L380,130.6 L380.5,130.6 L381,130.6 L381.5,130.6 L382,130.6 L382.5,130.6 L383,130.6 L383.5,130.6 L384,130.6 L384.5,130.6 L385,130.6 L385.5,130.6 L386,130.6 L386.5,130.6 L387,130.6 L387.5,130.6 L388,130.6 L388.5,130.6 L389,130.6 L389.5,130.6 L390,130.6 L390.5,130.6 L391,130.6 L391.5,130.6 L392,130.6 L392.5,130.6 L393,130.6 L393.5,130.6 L394,130.6 L394.5,130.6 L395,130.6 L395.5,130.6 L396,130.6 L396.5,130.6 L397,130.6 L397.5,130.6 L398,130.6 L398.5,130.6 L399,130.6 L399.5,130.6 L400,130.6 L400.5,130.6 L401,130.6 L401.5,130.6 L402,130.6 L402.5,130.6 L403,130.6 L403.5,130.6 L404,130.6 L404.5,130.6 L405,130.6 L405.5,130.6 L406,130.6 L406.5,130.6 L407,130.6 L407.5,130.6 L408,130.6 L408.5,130.6 L409,130.6 L409.5,130.6 L410,130.6 L410.5,130.6 L411,130.6 L411.5,130.6 L412,130.6 L412.5,130.6 L413,130.6 L413.5,130.6 L414,130.6 L414.5,130.6 L415,130.6 L415.5,130.6 L416,130.6 L416.5,130.6 L417,130.6 L417.5,130.6 L418,130.6 L418.5,130.6 L419,130.6 L419.5,130.6 L420,130.6 L420.5,130.6 L421,130.6 L421.5,130.6 L422,130.6 L422.5,130.6 L423,130.6 L423.5,130.6 L424,130.6 L424.5,130.6 L425,130.6 L425.5,130.6 L426,130.6 L426.5,130.6 L427,130.6 L427.5,130.6 L428,130.6 L428.5,130.6 L429,130.6 L429.5,130.6 L430,130.6 L430.5,130.6 L431,130.6 L431.5,130.6 L432,130.6 L432.5,130.6 L433,130.6 L433.5,130.6 L434,130.6 L434.5,130.6 L435,130.6 L435.5,130.6 L436,130.6 L436.5,130.6 L437,130.6 L437.5,130.6 L438,130.6 L438.5,130.6 L439,130.6 L439.5,130.6 L440,130.6 L440.5,130.6 L441,130.6 L441.5,130.6 L442,130.6 L442.5,130.6 L443,130.6 L443.5,130.6 L444,130.6 L444.5,130.6 L445,130.6 L445.5,130.6 L446,130.6 L446.5,130.6" stroke="#f6b6b9" stroke-width="5.8" fill="none" stroke-linejoin="round" opacity="0.5"/>
<path d="M260.5,130.6 L261,130.6 L261.5,130.6 L262,130.6 L262.5,130.6 L263,130.6 L263.5,130.6 L264,130.6 L264.5,130.6 L265,130.6 L265.5,130.6 L266,130.6 L266.5,130.6 L267,130.6 L267.5,130.6 L268,130.6 L268.5,130.6 L269,130.6 L269.5,130.6 L270,130.6 L270.5,130.6 L271,130.6 L271.5,130.6 L272,130.6 L272.5,130.6 L273,130.6 L273.5,130.6 L274,130.6 L274.5,130.6 L275,130.6 L275.5,130.6 L276,130.6 L276.5,130.6 L277,130.6 L277.5,130.6 L278,130.6 L278.5,130.6 L279,130.6 L279.5,130.6 L280,130.6 L280.5,130.6 L281,130.6 L281.5,130.6 L282,130.6 L282.5,130.6 L283,130.6 L283.5,130.6 L284,130.6 L284.5,130.6 L285,130.6 L285.5,130.6 L286,130.6 L286.5,130.6 L287,130.6 L287.5,130.6 L288,130.6 L288.5,130.6 L289,130.6 L289.5,130.6 L290,130.6 L290.5,130.6 L291,130.6 L291.5,130.6 L292,130.6 L292.5,130.6 L293,130.6 L293.5,130.6 L294,130.6 L294.5,130.6 L295,130.6 L295.5,130.6 L296,130.6 L296.5,130.6 L297,130.6 L297.5,130.6 L298,130.6 L298.5,130.6 L299,130.6 L299.5,130.6 L300,130.6 L300.5,130.6 L301,130.6 L301.5,130.6 L302,130.6 L302.5,130.6 L303,130.6 L303.5,130.6 L304,130.6 L304.5,130.6 L305,130.6 L305.5,130.6 L306,130.6 L306.5,130.6 L307,130.6 L307.5,130.6 L308,130.6 L308.5,130.6 L309,130.6 L309.5,130.6 L310,130.6 L310.5,130.6 L311,130.6 L311.5,130.6 L312,130.6 L312.5,130.6 L313,130.6 L313.5,130.6 L314,130.6 L314.5,130.6 L315,130.6 L315.5,130.6 L316,130.6 L316.5,130.6 L317,130.6 L317.5,130.6 L318,130.6 L318.5,130.6 L319,130.6 L319.5,130.6 L320,130.6 L320.5,130.6 L321,130.6 L321.5,130.6 L322,130.6 L322.5,130.6 L323,130.6 L323.5,130.6 L324,130.6 L324.5,130.6 L325,130.6 L325.5,130.6 L326,130.6 L326.5,130.6 L327,130.6 L327.5,130.6 L328,130.6 L328.5,130.6 L329,130.6 L329.5,130.6 L330,130.6 L330.5,130.6 L331,130.6 L331.5,130.6 L332,130.6 L332.5,130.6 L333,130.6 L333.5,130.6 L334,130.6 L334.5,130.6 L335,130.6 L335.5,130.6 L336,130.6 L336.5,130.6 L337,130.6 L337.5,130.6 L338,130.6 L338.5,130.6 L339,130.6 L339.5,130.6 L340,130.6 L340.5,130.6 L341,130.6 L341.5,130.6 L342,130.6 L342.5,130.6 L343,130.6 L343.5,130.6 L344,130.6 L344.5,130.6 L345,130.6 L345.5,130.6 L346,130.6 L346.5,130.6 L347,130.6 L347.5,130.6 L348,130.6 L348.5,130.6 L349,130.6 L349.5,130.6 L350,130.6 L350.5,130.6 L351,130.6 L351.5,130.6 L352,130.6 L352.5,130.6 L353,130.6 L353.5,130.6 L354,130.6 L354.5,130.6 L355,130.6 L355.5,130.6 L356,130.6 L356.5,130.6 L357,130.6 L357.5,130.6 L358,130.6 L358.5,130.6 L359,130.6 L359.5,130.6 L360,130.6 L360.5,130.6 L361,130.6 L361.5,130.6 L362,130.6 L362.5,130.6 L363,130.6 L363.5,130.6 L364,130.6 L364.5,130.6 L365,130.6 L365.5,130.6 L366,130.6 L366.5,130.6 L367,130.6 L367.5,130.6 L368,130.6 L368.5,130.6 L369,130.6 L369.5,130.6 L370,130.6 L370.5,130.6 L371,130.6 L371.5,130.6 L372,130.6 L372.5,130.6 L373,130.6 L373.5,130.6 L374,130.6 L374.5,130.6 L375,130.6 L375.5,130.6 L376,130.6 L376.5,130.6 L377,130.6 L377.5,130.6 L378,130.6 L378.5,130.6 L379,130.6 L379.5,130.6 L380,130.6 L380.5,130.6 L381,130.6 L381.5,130.6 L382,130.6 L382.5,130.6 L383,130.6 L383.5,130.6 L384,130.6 L384.5,130.6 L385,130.6 L385.5,130.6 L386,130.6 L386.5,130.6 L387,130.6 L387.5,130.6 L388,130.6 L388.5,130.6 L389,130.6 L389.5,130.6 L390,130.6 L390.5,130.6 L391,130.6 L391.5,130.6 L392,130.6 L392.5,130.6 L393,130.6 L393.5,130.6 L394,130.6 L394.5,130.6 L395,130.6 L395.5,130.6 L396,130.6 L396.5,130.6 L397,130.6 L397.5,130.6 L398,130.6 L398.5,130.6 L399,130.6 L399.5,130.6 L400,130.6 L400.5,130.6 L401,130.6 L401.5,130.6 L402,130.6 L402.5,130.6 L403,130.6 L403.5,130.6 L404,130.6 L404.5,130.6 L405,130.6 L405.5,130.6 L406,130.6 L406.5,130.6 L407,130.6 L407.5,130.6 L408,130.6 L408.5,130.6 L409,130.6 L409.5,130.6 L410,130.6 L410.5,130.6 L411,130.6 L411.5,130.6 L412,130.6 L412.5,130.6 L413,130.6 L413.5,130.6 L414,130.6 L414.5,130.6 L415,130.6 L415.5,130.6 L416,130.6 L416.5,130.6 L417,130.6 L417.5,130.6 L418,130.6 L418.5,130.6 L419,130.6 L419.5,130.6 L420,130.6 L420.5,130.6 L421,130.6 L421.5,130.6 L422,130.6 L422.5,130.6 L423,130.6 L423.5,130.6 L424,130.6 L424.5,130.6 L425,130.6 L425.5,130.6 L426,130.6 L426.5,130.6 L427,130.6 L427.5,130.6 L428,130.6 L428.5,130.6 L429,130.6 L429.5,130.6 L430,130.6 L430.5,130.6 L431,130.6 L431.5,130.6 L432,130.6 L432.5,130.6 L433,130.6 L433.5,130.6 L434,130.6 L434.5,130.6 L435,130.6 L435.5,130.6 L436,130.6 L436.5,130.6 L437,130.6 L437.5,130.6 L438,130.6 L438.5,130.6 L439,130.6 L439.5,130.6 L440,130.6 L440.5,130.6 L441,130.6 L441.5,130.6 L442,130.6 L442.5,130.6 L443,130.6 L443.5,130.6 L444,130.6 L444.5,130.6 L445,130.6 L445.5,130.6 L446,130.6 L446.5,130.6" stroke="#ee7076" stroke-width="2.6" fill="none" stroke-linejoin="round" opacity="0.45"/>
<g fill="none" stroke="#e5303a" stroke-width="0.45" opacity="0.75"><circle cx="261.27" cy="132.65" r="1.25"/><circle cx="262.51" cy="132.09" r="1.25"/><circle cx="263.96" cy="131.5" r="1.25"/><circle cx="264.91" cy="129.56" r="1.25"/><circle cx="266.02" cy="130.8" r="1.25"/><circle cx="267.36" cy="131.61" r="1.25"/><circle cx="268.76" cy="130.93" r="1.25"/><circle cx="270.24" cy="131.14" r="1.25"/><circle cx="271.22" cy="129.58" r="1.25"/><circle cx="272.95" cy="129.4" r="1.25"/><circle cx="274.24" cy="132.55" r="1.25"/><circle cx="275.31" cy="132.54" r="1.25"/><circle cx="276.79" cy="132.47" r="1.25"/><circle cx="278.02" cy="131.66" r="1.25"/><circle cx="279.45" cy="129.32" r="1.25"/><circle cx="280.61" cy="130.94" r="1.25"/><circle cx="281.87" cy="131.27" r="1.25"/><circle cx="283.53" cy="131.84" r="1.25"/><circle cx="284.75" cy="129.1" r="1.25"/><circle cx="285.96" cy="131.14" r="1.25"/><circle cx="287.45" cy="128.51" r="1.25"/><circle cx="288.14" cy="132.6" r="1.25"/><circle cx="289.6" cy="131.46" r="1.25"/><circle cx="291.07" cy="130.17" r="1.25"/><circle cx="292.25" cy="130.86" r="1.25"/><circle cx="293.99" cy="130.74" r="1.25"/><circle cx="295.13" cy="129.77" r="1.25"/><circle cx="296.37" cy="131.04" r="1.25"/><circle cx="297.69" cy="132.19" r="1.25"/><circle cx="298.46" cy="132.56" r="1.25"/><circle cx="300.19" cy="129.59" r="1.25"/><circle cx="301.37" cy="128.91" r="1.25"/><circle cx="302.48" cy="132.02" r="1.25"/><circle cx="304.17" cy="132.14" r="1.25"/><circle cx="305.03" cy="128.95" r="1.25"/><circle cx="306.5" cy="130.58" r="1.25"/><circle cx="308.07" cy="129.75" r="1.25"/><circle cx="309.39" cy="130.95" r="1.25"/><circle cx="310.33" cy="131.81" r="1.25"/><circle cx="311.46" cy="130.99" r="1.25"/><circle cx="312.85" cy="128.68" r="1.25"/><circle cx="314.38" cy="130.68" r="1.25"/><circle cx="315.79" cy="130.08" r="1.25"/><circle cx="317.34" cy="131.79" r="1.25"/><circle cx="318.02" cy="128.52" r="1.25"/><circle cx="319.97" cy="130.23" r="1.25"/><circle cx="320.58" cy="129.25" r="1.25"/><circle cx="322.36" cy="129.24" r="1.25"/><circle cx="323.4" cy="131.34" r="1.25"/><circle cx="324.68" cy="131.24" r="1.25"/><circle cx="326.46" cy="131.83" r="1.25"/><circle cx="327.5" cy="131.13" r="1.25"/><circle cx="328.55" cy="131.19" r="1.25"/><circle cx="330.12" cy="130.97" r="1.25"/><circle cx="331.29" cy="131.66" r="1.25"/><circle cx="332.36" cy="131.5" r="1.25"/><circle cx="334.28" cy="128.65" r="1.25"/><circle cx="335" cy="132.64" r="1.25"/><circle cx="336.17" cy="131.93" r="1.25"/><circle cx="337.86" cy="128.79" r="1.25"/><circle cx="339.2" cy="128.53" r="1.25"/><circle cx="340.68" cy="129.77" r="1.25"/><circle cx="342.04" cy="132.27" r="1.25"/><circle cx="342.71" cy="130.19" r="1.25"/><circle cx="344.02" cy="131.68" r="1.25"/><circle cx="345.28" cy="128.81" r="1.25"/><circle cx="346.59" cy="132.11" r="1.25"/><circle cx="348" cy="129.86" r="1.25"/><circle cx="349.46" cy="130.82" r="1.25"/><circle cx="350.73" cy="132.48" r="1.25"/><circle cx="351.97" cy="130.5" r="1.25"/><circle cx="353.69" cy="129.52" r="1.25"/><circle cx="354.44" cy="132.01" r="1.25"/><circle cx="355.85" cy="132.25" r="1.25"/><circle cx="357.56" cy="130.07" r="1.25"/><circle cx="358.47" cy="128.93" r="1.25"/><circle cx="360.2" cy="130.36" r="1.25"/><circle cx="361.07" cy="129.24" r="1.25"/><circle cx="362.28" cy="132.17" r="1.25"/><circle cx="363.5" cy="130.83" r="1.25"/><circle cx="365.2" cy="130.69" r="1.25"/><circle cx="366.4" cy="130.17" r="1.25"/><circle cx="367.45" cy="131.95" r="1.25"/><circle cx="369.32" cy="130.87" r="1.25"/><circle cx="370.1" cy="132.33" r="1.25"/><circle cx="371.36" cy="129.22" r="1.25"/><circle cx="373" cy="131.99" r="1.25"/><circle cx="374.26" cy="128.96" r="1.25"/><circle cx="375.88" cy="129.16" r="1.25"/><circle cx="376.67" cy="132.65" r="1.25"/><circle cx="378.33" cy="131.67" r="1.25"/><circle cx="379.06" cy="132.08" r="1.25"/><circle cx="380.62" cy="128.54" r="1.25"/><circle cx="382.23" cy="132.41" r="1.25"/><circle cx="382.94" cy="130.41" r="1.25"/><circle cx="384.92" cy="129.9" r="1.25"/><circle cx="385.74" cy="131.77" r="1.25"/><circle cx="387.15" cy="132.69" r="1.25"/><circle cx="388.78" cy="132.11" r="1.25"/><circle cx="389.97" cy="129.32" r="1.25"/><circle cx="391.25" cy="130.93" r="1.25"/><circle cx="392.39" cy="130.88" r="1.25"/><circle cx="393.54" cy="129.33" r="1.25"/><circle cx="395.33" cy="130.04" r="1.25"/><circle cx="395.98" cy="132.6" r="1.25"/><circle cx="397.61" cy="131.34" r="1.25"/><circle cx="398.77" cy="129.13" r="1.25"/><circle cx="400.07" cy="132" r="1.25"/><circle cx="401.32" cy="132.33" r="1.25"/><circle cx="402.64" cy="132.27" r="1.25"/><circle cx="403.84" cy="130.36" r="1.25"/><circle cx="405.1" cy="129.12" r="1.25"/><circle cx="406.72" cy="130.03" r="1.25"/><circle cx="408.03" cy="129.41" r="1.25"/><circle cx="409.15" cy="129.85" r="1.25"/><circle cx="410.92" cy="128.84" r="1.25"/><circle cx="411.83" cy="132.09" r="1.25"/><circle cx="413.26" cy="129.57" r="1.25"/><circle cx="414.9" cy="128.96" r="1.25"/><circle cx="415.51" cy="128.57" r="1.25"/><circle cx="417.05" cy="132.11" r="1.25"/><circle cx="418.23" cy="129.7" r="1.25"/><circle cx="419.94" cy="128.83" r="1.25"/><circle cx="420.61" cy="131.29" r="1.25"/><circle cx="421.97" cy="130.71" r="1.25"/><circle cx="423.32" cy="131.03" r="1.25"/><circle cx="425.18" cy="130.4" r="1.25"/><circle cx="426.02" cy="131.12" r="1.25"/><circle cx="427.66" cy="128.74" r="1.25"/><circle cx="428.59" cy="130.08" r="1.25"/><circle cx="430.1" cy="129.65" r="1.25"/><circle cx="431.53" cy="129.57" r="1.25"/><circle cx="433.02" cy="129.98" r="1.25"/><circle cx="433.78" cy="128.83" r="1.25"/><circle cx="435" cy="129.41" r="1.25"/><circle cx="436.91" cy="130.25" r="1.25"/><circle cx="437.85" cy="132.53" r="1.25"/><circle cx="439.57" cy="131.72" r="1.25"/><circle cx="440.29" cy="129.87" r="1.25"/><circle cx="441.8" cy="129.58" r="1.25"/><circle cx="442.98" cy="129.39" r="1.25"/><circle cx="444.19" cy="131.65" r="1.25"/><circle cx="445.78" cy="130.37" r="1.25"/><circle cx="261.08" cy="131.08" r="1.25"/><circle cx="262.55" cy="128.6" r="1.25"/><circle cx="263.97" cy="130.44" r="1.25"/><circle cx="264.87" cy="132.53" r="1.25"/><circle cx="266.51" cy="129.97" r="1.25"/><circle cx="267.22" cy="130.34" r="1.25"/><circle cx="268.85" cy="130.07" r="1.25"/><circle cx="269.88" cy="130.92" r="1.25"/><circle cx="271.3" cy="131.7" r="1.25"/><circle cx="272.82" cy="129.73" r="1.25"/><circle cx="274.36" cy="130.38" r="1.25"/><circle cx="275.07" cy="129.68" r="1.25"/><circle cx="276.34" cy="130.3" r="1.25"/><circle cx="278.33" cy="132.45" r="1.25"/><circle cx="279.42" cy="129.15" r="1.25"/><circle cx="280.39" cy="129.35" r="1.25"/><circle cx="281.8" cy="131.18" r="1.25"/><circle cx="282.82" cy="130.56" r="1.25"/><circle cx="284.44" cy="131.28" r="1.25"/><circle cx="286.06" cy="130.17" r="1.25"/><circle cx="287.18" cy="129.64" r="1.25"/><circle cx="288.36" cy="131.17" r="1.25"/><circle cx="289.34" cy="130.66" r="1.25"/><circle cx="291" cy="129.27" r="1.25"/><circle cx="292.1" cy="131.96" r="1.25"/><circle cx="293.48" cy="129.31" r="1.25"/><circle cx="294.73" cy="130.69" r="1.25"/><circle cx="296.12" cy="129.97" r="1.25"/><circle cx="297.36" cy="129.41" r="1.25"/><circle cx="298.8" cy="131.02" r="1.25"/><circle cx="299.77" cy="130.98" r="1.25"/><circle cx="301.25" cy="132.61" r="1.25"/><circle cx="303.05" cy="129.05" r="1.25"/><circle cx="304.16" cy="129.95" r="1.25"/><circle cx="304.99" cy="132.18" r="1.25"/><circle cx="306.93" cy="131.8" r="1.25"/><circle cx="308.01" cy="132.61" r="1.25"/><circle cx="309.24" cy="131.34" r="1.25"/><circle cx="310.62" cy="132.11" r="1.25"/><circle cx="312.08" cy="129.78" r="1.25"/><circle cx="312.87" cy="130.79" r="1.25"/><circle cx="314.47" cy="129.98" r="1.25"/><circle cx="315.99" cy="132.06" r="1.25"/><circle cx="317.15" cy="130.75" r="1.25"/><circle cx="318.46" cy="129.32" r="1.25"/><circle cx="319.85" cy="129.03" r="1.25"/><circle cx="321.22" cy="131.13" r="1.25"/><circle cx="322.02" cy="129.3" r="1.25"/><circle cx="323.58" cy="130.45" r="1.25"/><circle cx="324.96" cy="128.91" r="1.25"/><circle cx="326.4" cy="130.3" r="1.25"/><circle cx="327.35" cy="131.6" r="1.25"/><circle cx="328.79" cy="130.37" r="1.25"/><circle cx="329.83" cy="130.46" r="1.25"/><circle cx="330.93" cy="129.57" r="1.25"/><circle cx="332.86" cy="129" r="1.25"/><circle cx="333.57" cy="132.06" r="1.25"/><circle cx="335.1" cy="130.73" r="1.25"/><circle cx="336.57" cy="131.52" r="1.25"/><circle cx="337.65" cy="131.73" r="1.25"/><circle cx="338.7" cy="132.06" r="1.25"/><circle cx="340.25" cy="131.13" r="1.25"/><circle cx="341.54" cy="131.65" r="1.25"/><circle cx="342.9" cy="131.03" r="1.25"/><circle cx="344.16" cy="132" r="1.25"/><circle cx="345.82" cy="129.34" r="1.25"/><circle cx="347.11" cy="132.46" r="1.25"/><circle cx="347.99" cy="129.3" r="1.25"/><circle cx="349.84" cy="132.54" r="1.25"/><circle cx="350.5" cy="131.76" r="1.25"/><circle cx="352.44" cy="129.61" r="1.25"/><circle cx="353.62" cy="129.75" r="1.25"/><circle cx="354.93" cy="130.64" r="1.25"/><circle cx="355.98" cy="129.02" r="1.25"/><circle cx="357.42" cy="131.44" r="1.25"/><circle cx="358.43" cy="128.69" r="1.25"/><circle cx="359.57" cy="129.59" r="1.25"/><circle cx="361.6" cy="131.62" r="1.25"/><circle cx="362.82" cy="131.65" r="1.25"/><circle cx="363.51" cy="130.12" r="1.25"/><circle cx="365.46" cy="132.08" r="1.25"/><circle cx="366.79" cy="131.94" r="1.25"/><circle cx="367.87" cy="131.71" r="1.25"/><circle cx="369.33" cy="130.3" r="1.25"/><circle cx="369.93" cy="129.81" r="1.25"/><circle cx="371.21" cy="129.65" r="1.25"/><circle cx="372.97" cy="129.66" r="1.25"/><circle cx="374" cy="128.9" r="1.25"/><circle cx="375.39" cy="130.67" r="1.25"/><circle cx="376.87" cy="132.46" r="1.25"/><circle cx="377.76" cy="129.57" r="1.25"/><circle cx="379.06" cy="132.41" r="1.25"/><circle cx="380.81" cy="131.26" r="1.25"/><circle cx="382.25" cy="128.51" r="1.25"/><circle cx="383.62" cy="129.9" r="1.25"/><circle cx="384.7" cy="130.2" r="1.25"/><circle cx="386.1" cy="129.77" r="1.25"/><circle cx="387.02" cy="129.55" r="1.25"/><circle cx="388.68" cy="130.42" r="1.25"/><circle cx="389.52" cy="129.99" r="1.25"/><circle cx="391.15" cy="130.06" r="1.25"/><circle cx="392.47" cy="132.04" r="1.25"/><circle cx="393.81" cy="131.87" r="1.25"/><circle cx="394.84" cy="132.15" r="1.25"/><circle cx="396.65" cy="130.73" r="1.25"/><circle cx="397.22" cy="128.86" r="1.25"/><circle cx="399.11" cy="132.14" r="1.25"/><circle cx="400.38" cy="130.63" r="1.25"/><circle cx="401.53" cy="128.99" r="1.25"/><circle cx="402.88" cy="132.7" r="1.25"/><circle cx="403.86" cy="131.06" r="1.25"/><circle cx="405.68" cy="131.23" r="1.25"/><circle cx="406.58" cy="129.5" r="1.25"/><circle cx="408.19" cy="132.4" r="1.25"/><circle cx="409.6" cy="130.18" r="1.25"/><circle cx="410.8" cy="131.91" r="1.25"/><circle cx="411.8" cy="131.67" r="1.25"/><circle cx="413.11" cy="129.34" r="1.25"/><circle cx="414.1" cy="131.54" r="1.25"/><circle cx="416" cy="128.68" r="1.25"/><circle cx="416.75" cy="129.84" r="1.25"/><circle cx="418.17" cy="131.57" r="1.25"/><circle cx="419.45" cy="130.96" r="1.25"/><circle cx="421.04" cy="129.97" r="1.25"/><circle cx="422.58" cy="130.34" r="1.25"/><circle cx="423.61" cy="131.3" r="1.25"/><circle cx="424.82" cy="129.28" r="1.25"/><circle cx="426.56" cy="131.66" r="1.25"/><circle cx="427.54" cy="130.58" r="1.25"/><circle cx="428.89" cy="129.74" r="1.25"/><circle cx="429.76" cy="130.79" r="1.25"/><circle cx="431.72" cy="128.92" r="1.25"/><circle cx="433.08" cy="130.07" r="1.25"/><circle cx="434.4" cy="131.73" r="1.25"/><circle cx="435.12" cy="129.39" r="1.25"/><circle cx="436.91" cy="132.61" r="1.25"/><circle cx="438.14" cy="130.95" r="1.25"/><circle cx="439.23" cy="131.79" r="1.25"/><circle cx="440.76" cy="132" r="1.25"/><circle cx="441.63" cy="131.97" r="1.25"/><circle cx="443.46" cy="130.91" r="1.25"/><circle cx="444.01" cy="129.29" r="1.25"/><circle cx="445.82" cy="130.29" r="1.25"/><circle cx="261.43" cy="131.2" r="1.25"/><circle cx="262.56" cy="129.14" r="1.25"/><circle cx="263.72" cy="131.48" r="1.25"/><circle cx="265.33" cy="132.29" r="1.25"/><circle cx="266.11" cy="130.61" r="1.25"/><circle cx="267.98" cy="128.88" r="1.25"/><circle cx="268.56" cy="129.26" r="1.25"/><circle cx="270.39" cy="129.87" r="1.25"/><circle cx="271.67" cy="131.97" r="1.25"/><circle cx="273.05" cy="128.67" r="1.25"/><circle cx="274.25" cy="131.85" r="1.25"/><circle cx="275.56" cy="132.13" r="1.25"/><circle cx="276.95" cy="131.08" r="1.25"/><circle cx="278.29" cy="130.79" r="1.25"/><circle cx="278.99" cy="129.7" r="1.25"/><circle cx="280.95" cy="129.91" r="1.25"/><circle cx="281.88" cy="132.17" r="1.25"/><circle cx="283.35" cy="131.82" r="1.25"/><circle cx="284.48" cy="130.63" r="1.25"/><circle cx="285.46" cy="129.34" r="1.25"/><circle cx="286.83" cy="130.76" r="1.25"/><circle cx="288.42" cy="128.8" r="1.25"/><circle cx="289.81" cy="128.93" r="1.25"/><circle cx="290.91" cy="128.61" r="1.25"/><circle cx="292.28" cy="129.11" r="1.25"/><circle cx="293.95" cy="130.02" r="1.25"/><circle cx="295.16" cy="130.36" r="1.25"/><circle cx="296.06" cy="132.03" r="1.25"/><circle cx="297.32" cy="130.66" r="1.25"/><circle cx="298.91" cy="132.67" r="1.25"/><circle cx="300.26" cy="128.72" r="1.25"/><circle cx="301.36" cy="132.5" r="1.25"/><circle cx="302.98" cy="130.05" r="1.25"/><circle cx="303.7" cy="129.63" r="1.25"/><circle cx="305.51" cy="129.26" r="1.25"/><circle cx="306.91" cy="129.62" r="1.25"/><circle cx="308.05" cy="131.41" r="1.25"/><circle cx="308.99" cy="130.68" r="1.25"/><circle cx="310.6" cy="129.63" r="1.25"/><circle cx="311.83" cy="131.14" r="1.25"/><circle cx="313.47" cy="129.69" r="1.25"/><circle cx="314.14" cy="130.63" r="1.25"/><circle cx="315.78" cy="130.55" r="1.25"/><circle cx="317.33" cy="129.35" r="1.25"/><circle cx="318.31" cy="130.48" r="1.25"/><circle cx="319.36" cy="130.41" r="1.25"/><circle cx="320.86" cy="130.08" r="1.25"/><circle cx="322.42" cy="132.64" r="1.25"/><circle cx="323.88" cy="129.42" r="1.25"/><circle cx="324.7" cy="132.49" r="1.25"/><circle cx="325.77" cy="128.88" r="1.25"/><circle cx="327.05" cy="132.53" r="1.25"/><circle cx="328.7" cy="130.32" r="1.25"/><circle cx="329.68" cy="132.21" r="1.25"/><circle cx="331.69" cy="131.39" r="1.25"/><circle cx="332.93" cy="130.89" r="1.25"/><circle cx="333.75" cy="129.25" r="1.25"/><circle cx="335.04" cy="129.13" r="1.25"/><circle cx="336.39" cy="128.7" r="1.25"/><circle cx="337.43" cy="132.27" r="1.25"/><circle cx="339.38" cy="131.92" r="1.25"/><circle cx="340.28" cy="130.39" r="1.25"/><circle cx="341.73" cy="131.81" r="1.25"/><circle cx="342.84" cy="130.65" r="1.25"/><circle cx="344.34" cy="132.03" r="1.25"/><circle cx="345.48" cy="128.51" r="1.25"/><circle cx="346.82" cy="132.21" r="1.25"/><circle cx="347.94" cy="131.13" r="1.25"/><circle cx="349.21" cy="129.64" r="1.25"/><circle cx="350.9" cy="128.93" r="1.25"/><circle cx="352.06" cy="130.96" r="1.25"/><circle cx="353.31" cy="131.68" r="1.25"/><circle cx="354.98" cy="129.67" r="1.25"/><circle cx="356.21" cy="131.67" r="1.25"/><circle cx="357.38" cy="130.98" r="1.25"/><circle cx="358.65" cy="131.61" r="1.25"/><circle cx="360.05" cy="129.64" r="1.25"/><circle cx="361.32" cy="131.49" r="1.25"/><circle cx="362.47" cy="132.26" r="1.25"/><circle cx="363.65" cy="130.82" r="1.25"/><circle cx="365.15" cy="131.03" r="1.25"/><circle cx="366.15" cy="131.31" r="1.25"/><circle cx="367.39" cy="130.74" r="1.25"/><circle cx="368.96" cy="131.42" r="1.25"/><circle cx="370.59" cy="132.63" r="1.25"/><circle cx="371.38" cy="132.32" r="1.25"/><circle cx="372.88" cy="130.62" r="1.25"/><circle cx="373.83" cy="132.11" r="1.25"/><circle cx="375.28" cy="129.67" r="1.25"/><circle cx="376.64" cy="129.48" r="1.25"/><circle cx="377.93" cy="129.71" r="1.25"/><circle cx="379.43" cy="130.01" r="1.25"/><circle cx="380.91" cy="132.42" r="1.25"/><circle cx="382.35" cy="130.08" r="1.25"/><circle cx="383.45" cy="131.58" r="1.25"/><circle cx="384.78" cy="130.18" r="1.25"/><circle cx="385.65" cy="131.68" r="1.25"/><circle cx="387.33" cy="129.98" r="1.25"/><circle cx="388.63" cy="128.78" r="1.25"/><circle cx="390.03" cy="132.27" r="1.25"/><circle cx="391.48" cy="128.98" r="1.25"/><circle cx="392.55" cy="131.78" r="1.25"/><circle cx="393.41" cy="131.06" r="1.25"/><circle cx="394.75" cy="129.42" r="1.25"/><circle cx="395.92" cy="129.68" r="1.25"/><circle cx="397.88" cy="130.96" r="1.25"/><circle cx="399.14" cy="132.58" r="1.25"/><circle cx="399.92" cy="132.06" r="1.25"/><circle cx="401.82" cy="131.23" r="1.25"/><circle cx="402.67" cy="129.24" r="1.25"/><circle cx="404.05" cy="130.06" r="1.25"/><circle cx="405.21" cy="131.33" r="1.25"/><circle cx="406.81" cy="129.59" r="1.25"/><circle cx="407.74" cy="130.6" r="1.25"/><circle cx="409.47" cy="131.29" r="1.25"/><circle cx="410.71" cy="132.27" r="1.25"/><circle cx="412.11" cy="130.36" r="1.25"/><circle cx="413.4" cy="131.29" r="1.25"/><circle cx="414.37" cy="129.2" r="1.25"/><circle cx="415.7" cy="131.52" r="1.25"/><circle cx="417.3" cy="129.78" r="1.25"/><circle cx="418.43" cy="128.81" r="1.25"/><circle cx="419.78" cy="130.39" r="1.25"/><circle cx="421.21" cy="132.12" r="1.25"/><circle cx="421.94" cy="132.55" r="1.25"/><circle cx="423.34" cy="132.55" r="1.25"/><circle cx="425.29" cy="129.43" r="1.25"/><circle cx="426.03" cy="129.11" r="1.25"/><circle cx="427.83" cy="131.68" r="1.25"/><circle cx="429.17" cy="131.89" r="1.25"/><circle cx="429.99" cy="131.75" r="1.25"/><circle cx="431.28" cy="129.88" r="1.25"/><circle cx="432.64" cy="131.44" r="1.25"/><circle cx="433.85" cy="130.85" r="1.25"/><circle cx="435.35" cy="131.84" r="1.25"/><circle cx="436.58" cy="130.27" r="1.25"/><circle cx="437.94" cy="130.44" r="1.25"/><circle cx="439.39" cy="128.95" r="1.25"/><circle cx="440.24" cy="128.66" r="1.25"/><circle cx="441.73" cy="132.06" r="1.25"/><circle cx="443.18" cy="131.17" r="1.25"/><circle cx="444.75" cy="131.95" r="1.25"/><circle cx="445.53" cy="129.43" r="1.25"/></g>
<path d="M260.5,41.3 L261,41.3 L261.5,41.3 L262,41.3 L262.5,41.3 L263,41.3 L263.5,41.3 L264,41.3 L264.5,41.3 L265,41.3 L265.5,41.3 L266,41.3 L266.5,41.3 L267,41.3 L267.5,41.3 L268,41.3 L268.5,41.3 L269,41.3 L269.5,41.3 L270,41.3 L270.5,41.3 L271,41.3 L271.5,41.3 L272,41.3 L272.5,41.3 L273,41.3 L273.5,41.3 L274,41.3 L274.5,41.3 L275,41.3 L275.5,41.3 L276,41.3 L276.5,41.3 L277,41.3 L277.5,41.3 L278,41.3 L278.5,41.3 L279,41.3 L279.5,41.3 L280,41.3 L280.5,41.3 L281,41.3 L281.5,41.3 L282,41.3 L282.5,41.3 L283,41.3 L283.5,41.3 L284,41.3 L284.5,41.3 L285,41.3 L285.5,41.3 L286,41.3 L286.5,41.3 L287,41.3 L287.5,41.3 L288,41.3 L288.5,41.3 L289,41.3 L289.5,41.3 L290,41.3 L290.5,41.3 L291,41.3 L291.5,41.3 L292,41.3 L292.5,41.3 L293,41.3 L293.5,41.3 L294,41.3 L294.5,41.3 L295,41.3 L295.4,41.3 L295.5,40.8 L296,38.3 L296.4,36.3 L296.5,35.34 L297,30.54 L297.4,26.7 L297.5,27.77 L298,33.1 L298.3,36.3 L298.5,37.68 L299,41.11 L299.1,41.8 L299.5,40.66 L299.8,39.8 L300,39.4 L300.3,38.8 L300.5,41.3 L300.9,46.3 L301,47.16 L301.5,51.46 L301.9,54.9 L302,53.83 L302.5,48.5 L302.8,45.3 L303,44.41 L303.5,42.19 L303.7,41.3 L304,41.3 L304.5,41.3 L305,41.3 L305.5,41.3 L306,41.3 L306.5,41.3 L307,41.3 L307.5,41.3 L308,41.3 L308.5,41.3 L309,41.3 L309.5,41.3 L310,41.3 L310.5,41.3 L311,41.3 L311.5,41.3 L312,41.3 L312.5,41.3 L313,41.3 L313.5,41.3 L314,41.3 L314.5,41.3 L315,41.3 L315.5,41.3 L316,41.3 L316.5,41.3 L317,41.3 L317.5,41.3 L318,41.3 L318.5,41.3 L319,41.3 L319.5,41.3 L320,41.3 L320.5,41.3 L321,41.3 L321.5,41.3 L322,41.3 L322.4,41.3 L322.5,40.8 L323,38.3 L323.4,36.3 L323.5,35.34 L324,30.54 L324.4,26.7 L324.5,27.77 L325,33.1 L325.3,36.3 L325.5,37.68 L326,41.11 L326.1,41.8 L326.5,40.66 L326.8,39.8 L327,39.4 L327.3,38.8 L327.5,41.3 L327.9,46.3 L328,47.16 L328.5,51.46 L328.9,54.9 L329,53.83 L329.5,46 L329.8,41.3 L330,39.41 L330.5,32.39 L330.7,29.58 L331,26.7 L331.5,32.03 L331.9,36.3 L332,36.99 L332.5,40.42 L332.7,41.8 L333,40.94 L333.4,39.8 L333.5,39.6 L333.9,38.8 L334,40.05 L334.5,46.3 L335,50.6 L335.5,54.9 L336,49.57 L336.4,45.3 L336.5,44.86 L337,42.63 L337.3,41.3 L337.5,41.3 L338,41.3 L338.5,41.3 L339,41.3 L339.5,41.3 L340,41.3 L340.5,41.3 L341,41.3 L341.5,41.3 L342,41.3 L342.5,41.3 L343,41.3 L343.5,41.3 L344,41.3 L344.5,41.3 L345,41.3 L345.5,41.3 L346,41.3 L346.5,41.3 L347,41.3 L347.5,41.3 L348,41.3 L348.5,41.3 L349,41.3 L349.5,41.3 L350,41.3 L350.5,41.3 L351,41.3 L351.5,41.3 L352,41.3 L352.5,41.3 L353,41.3 L353.5,41.3 L354,41.3 L354.5,41.3 L355,41.3 L355.5,41.3 L356,41.3 L356.1,41.3 L356.5,39.3 L357,36.8 L357.1,36.3 L357.5,32.46 L358,27.66 L358.1,26.7 L358.5,30.97 L359,36.3 L359.5,39.74 L359.8,41.8 L360,41.23 L360.5,39.8 L361,38.8 L361.5,45.05 L361.6,46.3 L362,49.74 L362.5,54.04 L362.6,54.9 L363,50.63 L363.5,42.8 L364,38.08 L364.4,32.46 L364.5,31.5 L365,26.7 L365.5,32.03 L365.9,36.3 L366,36.99 L366.5,40.42 L366.7,41.8 L367,40.94 L367.4,39.8 L367.5,39.6 L367.9,38.8 L368,40.05 L368.5,46.3 L369,50.6 L369.5,54.9 L370,49.57 L370.4,45.3 L370.5,44.86 L371,42.63 L371.3,41.3 L371.5,41.3 L372,41.3 L372.5,41.3 L373,41.3 L373.5,41.3 L374,41.3 L374.5,41.3 L375,41.3 L375.5,41.3 L376,41.3 L376.5,41.3 L377,41.3 L377.5,41.3 L378,41.3 L378.5,41.3 L379,41.3 L379.5,41.3 L380,41.3 L380.5,41.3 L381,41.3 L381.5,41.3 L382,41.3 L382.5,41.3 L383,41.3 L383.5,41.3 L384,41.3 L384.5,41.3 L385,41.3 L385.5,41.3 L386,41.3 L386.5,41.3 L387,41.3 L387.5,41.3 L388,41.3 L388.5,41.3 L389,41.3 L389.5,41.3 L390,41.3 L390.3,41.3 L390.5,40.3 L391,37.8 L391.3,36.3 L391.5,34.38 L392,29.58 L392.3,26.7 L392.5,28.83 L393,34.17 L393.2,36.3 L393.5,38.36 L394,41.8 L394.5,40.37 L394.7,39.8 L395,39.2 L395.2,38.8 L395.5,42.55 L395.8,46.3 L396,48.02 L396.5,52.32 L396.8,54.9 L397,52.77 L397.5,47.43 L397.7,45.3 L398,43.97 L398.5,41.74 L398.6,41.3 L399,41.3 L399.5,41.3 L400,41.3 L400.5,41.3 L401,41.3 L401.5,41.3 L402,41.3 L402.5,41.3 L403,41.3 L403.5,41.3 L404,41.3 L404.5,41.3 L405,41.3 L405.5,41.3 L406,41.3 L406.5,41.3 L407,41.3 L407.5,41.3 L408,41.3 L408.5,41.3 L409,41.3 L409.5,41.3 L410,41.3 L410.5,41.3 L411,41.3 L411.5,41.3 L412,41.3 L412.5,41.3 L413,41.3 L413.5,41.3 L414,41.3 L414.5,41.3 L415,41.3 L415.5,41.3 L416,41.3 L416.5,41.3 L417,41.3 L417.5,41.3 L418,41.3 L418.5,41.3 L419,41.3 L419.5,41.3 L420,41.3 L420.5,41.3 L421,41.3 L421.5,41.3 L422,41.3 L422.5,41.3 L423,41.3 L423.5,41.3 L424,41.3 L424.5,41.3 L425,41.3 L425.5,41.3 L426,41.3 L426.5,41.3 L427,41.3 L427.5,41.3 L428,41.3 L428.5,41.3 L429,41.3 L429.5,41.3 L430,41.3 L430.5,41.3 L431,41.3 L431.5,41.3 L432,41.3 L432.5,41.3 L433,41.3 L433.5,41.3 L434,41.3 L434.5,41.3 L435,41.3 L435.5,41.3 L436,41.3 L436.5,41.3 L437,41.3 L437.5,41.3 L438,41.3 L438.5,41.3 L439,41.3 L439.5,41.3 L440,41.3 L440.5,41.3 L441,41.3 L441.5,41.3 L442,41.3 L442.5,41.3 L443,41.3 L443.5,41.3 L444,41.3 L444.5,41.3 L445,41.3 L445.5,41.3 L446,41.3 L446.5,41.3" stroke="#ec3a3f" stroke-width="1.25" fill="none" stroke-linejoin="round"/>
<line x1="266.2" y1="59.8" x2="274.6" y2="59.8" stroke="#ea3339" stroke-width="1.5"/>
<text transform="translate(276.8,63.1) scale(0.92,1)" font-size="9.4" text-anchor="start" fill="#222" stroke="#222">Fitting</text>
<text transform="translate(267,19.9) scale(0.92,1)" font-size="9.4" text-anchor="start" fill="#222" stroke="#222">DMPO-OOH</text>
<circle cx="266.3" cy="11.9" r="0.55" fill="#222"/><circle cx="316.3" cy="11.9" r="0.55" fill="#222"/>
<text transform="translate(439.9,23.8) scale(0.92,1)" font-size="9.4" text-anchor="end" fill="#222" stroke="#222">RF/C-TaSA-Light</text>
<text transform="translate(439.9,67.6) scale(0.92,1)" font-size="9.4" text-anchor="end" fill="#222" stroke="#222">RF/C-TaSA-Dark</text>
<text transform="translate(406.5,100.9) scale(0.92,1)" font-size="9.4" text-anchor="end" fill="#222" stroke="#222">RF-Light</text>
<text transform="translate(405,124.8) scale(0.92,1)" font-size="9.4" text-anchor="end" fill="#222" stroke="#222">RF-Dark</text>
<rect x="259.9" y="4.6" width="187.1" height="138.7" fill="none" stroke="#1e1e1e" stroke-width="1.15"/>
<circle cx="446.6" cy="41.4" r="1.3" fill="#fff" stroke="#ddd" stroke-width="0.3"/>
<circle cx="446.6" cy="73.4" r="1.3" fill="#fff" stroke="#ddd" stroke-width="0.3"/>
<circle cx="446.6" cy="108.3" r="1.3" fill="#fff" stroke="#ddd" stroke-width="0.3"/>
<circle cx="446.6" cy="130.6" r="1.3" fill="#fff" stroke="#ddd" stroke-width="0.3"/>
<line x1="282.6" y1="143.3" x2="282.6" y2="146.4" stroke="#1e1e1e" stroke-width="1.15"/>
<text transform="translate(282.6,154.5) scale(0.97,1)" font-size="8.7" text-anchor="middle" fill="#222" stroke="#222">3480</text>
<line x1="333.2" y1="143.3" x2="333.2" y2="146.4" stroke="#1e1e1e" stroke-width="1.15"/>
<text transform="translate(333.2,154.5) scale(0.97,1)" font-size="8.7" text-anchor="middle" fill="#222" stroke="#222">3500</text>
<line x1="383.8" y1="143.3" x2="383.8" y2="146.4" stroke="#1e1e1e" stroke-width="1.15"/>
<text transform="translate(383.8,154.5) scale(0.97,1)" font-size="8.7" text-anchor="middle" fill="#222" stroke="#222">3520</text>
<line x1="434.4" y1="143.3" x2="434.4" y2="146.4" stroke="#1e1e1e" stroke-width="1.15"/>
<text transform="translate(434.4,154.5) scale(0.97,1)" font-size="8.7" text-anchor="middle" fill="#222" stroke="#222">3540</text>
<line x1="307.9" y1="143.3" x2="307.9" y2="145.3" stroke="#1e1e1e" stroke-width="1.15"/>
<line x1="358.5" y1="143.3" x2="358.5" y2="145.3" stroke="#1e1e1e" stroke-width="1.15"/>
<line x1="409.1" y1="143.3" x2="409.1" y2="145.3" stroke="#1e1e1e" stroke-width="1.15"/>
<text transform="translate(332.31,167.6) scale(0.966,1)" font-size="11.2" fill="#222" stroke="#222">Field (G)</text>
<text transform="translate(246.8,108.68) rotate(-90) scale(0.932,1)" font-size="11.4" fill="#222" stroke="#222">Intensity (a.u.)</text>
<text x="464" y="9.6" font-size="13" text-anchor="start" fill="#111" stroke="#111">c</text>
<path d="M495.7,76 C496.25,76.13 497.45,76.57 499,76.8 C500.55,77.03 502.83,77.33 505,77.4 C507.17,77.47 509.83,77.35 512,77.2 C514.17,77.05 516.33,76.8 518,76.5 C519.67,76.2 520.62,76.02 522,75.4 C523.38,74.78 524.55,73.88 526.3,72.8 C528.05,71.72 530.15,70.33 532.5,68.9 C534.85,67.47 538.05,66.03 540.4,64.2 C542.75,62.37 544.78,60 546.6,57.9 C548.42,55.8 549.73,53.43 551.3,51.6 C552.87,49.77 554.43,48.07 556,46.9 C557.57,45.73 559.13,44.98 560.7,44.6 C562.27,44.22 563.85,44.38 565.4,44.6 C566.95,44.82 568.67,45.48 570,45.9 C571.33,46.32 572.12,46.82 573.4,47.1 C574.68,47.38 576.27,47.75 577.7,47.6 C579.13,47.45 580.43,47.05 582,46.2 C583.57,45.35 585.4,43.68 587.1,42.5 C588.8,41.32 590.48,40.17 592.2,39.1 C593.92,38.03 595.68,36.95 597.4,36.1 C599.12,35.25 600.93,34.53 602.5,34 C604.07,33.47 605.38,33.05 606.8,32.9 C608.22,32.75 609.73,32.78 611,33.1 C612.27,33.42 613.05,33.8 614.4,34.8 C615.75,35.8 617.53,37.08 619.1,39.1 C620.67,41.12 622.23,44.55 623.8,46.9 C625.37,49.25 626.93,51.37 628.5,53.2 C630.07,55.03 631.37,56.33 633.2,57.9 C635.03,59.47 637.42,61.03 639.5,62.6 C641.58,64.17 643.62,65.87 645.7,67.3 C647.78,68.73 649.9,70.15 652,71.2 C654.1,72.25 656.13,72.93 658.3,73.6 C660.47,74.27 663.05,74.75 665,75.2 C666.95,75.65 668.35,76.05 670,76.3 C671.65,76.55 673.4,76.68 674.9,76.7 C676.4,76.72 677.6,76.62 679,76.4 C680.4,76.18 682.58,75.57 683.3,75.4 L683.3,75.9 L495.7,75.9 Z" stroke="none" stroke-width="1" fill="#9fbbe2"/>
<path d="M495.7,131 C496.42,131.22 498.42,131.95 500,132.3 C501.58,132.65 503.37,133.02 505.2,133.1 C507.03,133.18 509.2,133.07 511,132.8 C512.8,132.53 514.5,131.9 516,131.5 C517.5,131.1 518.5,130.7 520,130.4 C521.5,130.1 523.33,130 525,129.7 C526.67,129.4 528.12,129.32 530,128.6 C531.88,127.88 534.22,126.72 536.3,125.4 C538.38,124.08 540.42,122.78 542.5,120.7 C544.58,118.62 546.7,115.38 548.8,112.9 C550.9,110.42 553.02,108.02 555.1,105.8 C557.18,103.58 559.22,101.17 561.3,99.6 C563.38,98.03 565.77,96.98 567.6,96.4 C569.43,95.82 570.47,95.83 572.3,96.1 C574.13,96.37 576.52,97.28 578.6,98 C580.68,98.72 582.9,99.9 584.8,100.4 C586.7,100.9 588.55,101.03 590,101 C591.45,100.97 592.43,100.65 593.5,100.2 C594.57,99.75 595.12,99.57 596.4,98.3 C597.68,97.03 599.32,94.63 601.2,92.6 C603.08,90.57 605.67,87.63 607.7,86.1 C609.73,84.57 611.77,83.8 613.4,83.4 C615.03,83 616.02,82.98 617.5,83.7 C618.98,84.42 620.68,85.95 622.3,87.7 C623.92,89.45 625.57,91.75 627.2,94.2 C628.83,96.65 630.47,99.68 632.1,102.4 C633.73,105.12 635.12,107.8 637,110.5 C638.88,113.2 641.25,116.17 643.4,118.6 C645.55,121.03 647.73,123.35 649.9,125.1 C652.07,126.85 654.23,128.12 656.4,129.1 C658.57,130.08 661,130.68 662.9,131 C664.8,131.32 665.9,131.23 667.8,131 C669.7,130.77 672.4,129.72 674.3,129.6 C676.2,129.48 677.7,130.02 679.2,130.3 C680.7,130.58 682.62,131.13 683.3,131.3 L683.3,131.3 L495.7,131.3 Z" stroke="none" stroke-width="1" fill="#ed868a"/>
<line x1="562.4" y1="22.6" x2="562.4" y2="76" stroke="#222" stroke-width="1.15" stroke-dasharray="3.7,4.1" stroke-dashoffset="2.1"/>
<line x1="569" y1="22.6" x2="569" y2="118.8" stroke="#222" stroke-width="1.15" stroke-dasharray="3.7,4.1" stroke-dashoffset="2.1"/>
<line x1="607.8" y1="22.6" x2="607.8" y2="76" stroke="#222" stroke-width="1.15" stroke-dasharray="3.7,4.1" stroke-dashoffset="2.1"/>
<line x1="614.6" y1="22.6" x2="614.6" y2="118.8" stroke="#222" stroke-width="1.15" stroke-dasharray="3.7,4.1" stroke-dashoffset="2.1"/>
<line x1="559.7" y1="83.3" x2="566.6" y2="83.3" stroke="#222" stroke-width="1.1"/>
<path d="M560.6,81.1 L557.2,83.3 L560.6,85.5 L559.8,83.3 Z" stroke="none" stroke-width="1" fill="#222" stroke="#222" stroke-width="0.4" stroke-linejoin="round"/>
<line x1="603.8" y1="83.3" x2="611.8" y2="83.3" stroke="#222" stroke-width="1.1"/>
<path d="M604.7,81.1 L601.3,83.3 L604.7,85.5 L603.9,83.3 Z" stroke="none" stroke-width="1" fill="#222" stroke="#222" stroke-width="0.4" stroke-linejoin="round"/>
<text transform="translate(505.5,20.9) scale(0.92,1)" font-size="9.4" text-anchor="start" fill="#222" stroke="#222">Ta 4<tspan font-style="italic">f</tspan></text>
<line x1="639.8" y1="20.3" x2="652" y2="20.3" stroke="#4f80d0" stroke-width="1.2"/>
<text transform="translate(654.7,23.1) scale(0.9,1)" font-size="9.8" text-anchor="start" fill="#222" stroke="#222">Light</text>
<line x1="639.8" y1="31.1" x2="652" y2="31.1" stroke="#f07078" stroke-width="1.8"/>
<text transform="translate(654.7,34) scale(0.9,1)" font-size="9.8" text-anchor="start" fill="#222" stroke="#222">Dark</text>
<rect x="495.7" y="4.6" width="187.6" height="138.7" fill="none" stroke="#1e1e1e" stroke-width="1.15"/>
<line x1="515.3" y1="143.3" x2="515.3" y2="146.4" stroke="#1e1e1e" stroke-width="1.15"/>
<text transform="translate(515.3,154.5) scale(0.97,1)" font-size="8.7" text-anchor="middle" fill="#222" stroke="#222">30</text>
<line x1="564" y1="143.3" x2="564" y2="146.4" stroke="#1e1e1e" stroke-width="1.15"/>
<text transform="translate(564,154.5) scale(0.97,1)" font-size="8.7" text-anchor="middle" fill="#222" stroke="#222">28</text>
<line x1="612.7" y1="143.3" x2="612.7" y2="146.4" stroke="#1e1e1e" stroke-width="1.15"/>
<text transform="translate(612.7,154.5) scale(0.97,1)" font-size="8.7" text-anchor="middle" fill="#222" stroke="#222">26</text>
<line x1="661.4" y1="143.3" x2="661.4" y2="146.4" stroke="#1e1e1e" stroke-width="1.15"/>
<text transform="translate(661.4,154.5) scale(0.97,1)" font-size="8.7" text-anchor="middle" fill="#222" stroke="#222">24</text>
<line x1="539.65" y1="143.3" x2="539.65" y2="145.3" stroke="#1e1e1e" stroke-width="1.15"/>
<line x1="588.35" y1="143.3" x2="588.35" y2="145.3" stroke="#1e1e1e" stroke-width="1.15"/>
<line x1="637.05" y1="143.3" x2="637.05" y2="145.3" stroke="#1e1e1e" stroke-width="1.15"/>
<text transform="translate(541.32,167.5) scale(0.952,1)" font-size="11.3" fill="#222" stroke="#222">Binding Energy (eV)</text>
<text transform="translate(480.5,107.07) rotate(-90) scale(0.918,1)" font-size="11.4" fill="#222" stroke="#222">Intensity (a.u.)</text>
<text x="0.8" y="189" font-size="13" text-anchor="start" fill="#111" stroke="#111">d</text>
<path d="M54.75,203.38 L50.5,210.74 M50.5,210.74 L42,210.74 M42,210.74 L37.75,203.38 M37.75,203.38 L42,196.02 M42,196.02 L50.5,196.02 M50.5,196.02 L54.75,203.38 M80.25,203.38 L76,210.74 M76,210.74 L67.5,210.74 M67.5,210.74 L63.25,203.38 M63.25,203.38 L67.5,196.02 M67.5,196.02 L76,196.02 M76,196.02 L80.25,203.38 M54.75,232.82 L50.5,240.18 M50.5,240.18 L42,240.18 M42,240.18 L37.75,232.82 M37.75,232.82 L42,225.46 M42,225.46 L50.5,225.46 M50.5,225.46 L54.75,232.82 M80.25,232.82 L76,240.18 M76,240.18 L67.5,240.18 M67.5,240.18 L63.25,232.82 M63.25,232.82 L67.5,225.46 M67.5,225.46 L76,225.46 M76,225.46 L80.25,232.82 M54.75,203.38 L63.25,203.38 M54.75,232.82 L63.25,232.82 M42,210.74 L37.75,218.1 M37.75,218.1 L42,225.46 M76,210.74 L80.25,218.1 M80.25,218.1 L76,225.46 M37.75,203.38 L32.25,203.38 M37.75,218.1 L32.25,218.1 M37.75,232.82 L32.25,232.82 M80.25,203.38 L85.75,203.38 M80.25,218.1 L85.75,218.1 M80.25,232.82 L85.75,232.82 M50.5,196.02 L53.25,191.25 M76,196.02 L78.75,191.25 M42,240.18 L39.25,244.95 M67.5,240.18 L64.75,244.95" stroke="#946848" stroke-width="1.15" fill="none"/>
<line x1="50.5" y1="210.74" x2="46.25" y2="210.74" stroke="#9aa8d8" stroke-width="1.3"/>
<line x1="50.5" y1="210.74" x2="52.62" y2="207.06" stroke="#9aa8d8" stroke-width="1.3"/>
<line x1="67.5" y1="210.74" x2="65.38" y2="207.06" stroke="#e02828" stroke-width="1.3"/>
<line x1="67.5" y1="210.74" x2="71.75" y2="210.74" stroke="#e02828" stroke-width="1.3"/>
<line x1="50.5" y1="225.46" x2="52.62" y2="229.14" stroke="#e02828" stroke-width="1.3"/>
<line x1="50.5" y1="225.46" x2="46.25" y2="225.46" stroke="#e02828" stroke-width="1.3"/>
<line x1="67.5" y1="225.46" x2="71.75" y2="225.46" stroke="#9aa8d8" stroke-width="1.3"/>
<line x1="67.5" y1="225.46" x2="65.38" y2="229.14" stroke="#9aa8d8" stroke-width="1.3"/>
<circle cx="54.75" cy="203.38" r="1.55" fill="#b89070" stroke="#5e3a1e" stroke-width="0.7"/>
<circle cx="50.5" cy="210.74" r="1.6" fill="#d4dbf4" stroke="#6a7ab4" stroke-width="0.7"/>
<circle cx="42" cy="210.74" r="1.55" fill="#b89070" stroke="#5e3a1e" stroke-width="0.7"/>
<circle cx="37.75" cy="203.38" r="1.55" fill="#b89070" stroke="#5e3a1e" stroke-width="0.7"/>
<circle cx="42" cy="196.02" r="1.55" fill="#b89070" stroke="#5e3a1e" stroke-width="0.7"/>
<circle cx="50.5" cy="196.02" r="1.55" fill="#b89070" stroke="#5e3a1e" stroke-width="0.7"/>
<circle cx="80.25" cy="203.38" r="1.55" fill="#b89070" stroke="#5e3a1e" stroke-width="0.7"/>
<circle cx="76" cy="210.74" r="1.55" fill="#b89070" stroke="#5e3a1e" stroke-width="0.7"/>
<circle cx="67.5" cy="210.74" r="1.6" fill="#ee3030" stroke="#b01010" stroke-width="0.7"/>
<circle cx="63.25" cy="203.38" r="1.55" fill="#b89070" stroke="#5e3a1e" stroke-width="0.7"/>
<circle cx="67.5" cy="196.02" r="1.55" fill="#b89070" stroke="#5e3a1e" stroke-width="0.7"/>
<circle cx="76" cy="196.02" r="1.55" fill="#b89070" stroke="#5e3a1e" stroke-width="0.7"/>
<circle cx="54.75" cy="232.82" r="1.55" fill="#b89070" stroke="#5e3a1e" stroke-width="0.7"/>
<circle cx="50.5" cy="240.18" r="1.55" fill="#b89070" stroke="#5e3a1e" stroke-width="0.7"/>
<circle cx="42" cy="240.18" r="1.55" fill="#b89070" stroke="#5e3a1e" stroke-width="0.7"/>
<circle cx="37.75" cy="232.82" r="1.55" fill="#b89070" stroke="#5e3a1e" stroke-width="0.7"/>
<circle cx="42" cy="225.46" r="1.55" fill="#b89070" stroke="#5e3a1e" stroke-width="0.7"/>
<circle cx="50.5" cy="225.46" r="1.6" fill="#ee3030" stroke="#b01010" stroke-width="0.7"/>
<circle cx="80.25" cy="232.82" r="1.55" fill="#b89070" stroke="#5e3a1e" stroke-width="0.7"/>
<circle cx="76" cy="240.18" r="1.55" fill="#b89070" stroke="#5e3a1e" stroke-width="0.7"/>
<circle cx="67.5" cy="240.18" r="1.55" fill="#b89070" stroke="#5e3a1e" stroke-width="0.7"/>
<circle cx="63.25" cy="232.82" r="1.55" fill="#b89070" stroke="#5e3a1e" stroke-width="0.7"/>
<circle cx="67.5" cy="225.46" r="1.6" fill="#d4dbf4" stroke="#6a7ab4" stroke-width="0.7"/>
<circle cx="76" cy="225.46" r="1.55" fill="#b89070" stroke="#5e3a1e" stroke-width="0.7"/>
<circle cx="37.75" cy="218.1" r="1.55" fill="#b89070" stroke="#5e3a1e" stroke-width="0.7"/>
<circle cx="80.25" cy="218.1" r="1.55" fill="#b89070" stroke="#5e3a1e" stroke-width="0.7"/>
<line x1="58.8" y1="292.1" x2="54.42" y2="288.31" stroke="#a49660" stroke-width="1.8"/>
<line x1="54.42" y1="288.31" x2="50.05" y2="284.52" stroke="#a8b4e0" stroke-width="1.8"/>
<line x1="58.8" y1="292.1" x2="63.17" y2="288.31" stroke="#a49660" stroke-width="1.8"/>
<line x1="63.17" y1="288.31" x2="67.55" y2="284.52" stroke="#e02828" stroke-width="1.8"/>
<line x1="58.8" y1="292.1" x2="54.42" y2="295.89" stroke="#a49660" stroke-width="1.8"/>
<line x1="54.42" y1="295.89" x2="50.05" y2="299.68" stroke="#e02828" stroke-width="1.8"/>
<line x1="58.8" y1="292.1" x2="63.17" y2="295.89" stroke="#a49660" stroke-width="1.8"/>
<line x1="63.17" y1="295.89" x2="67.55" y2="299.68" stroke="#a8b4e0" stroke-width="1.8"/>
<path d="M54.42,276.94 L50.05,284.52 M50.05,284.52 L41.3,284.52 M41.3,284.52 L36.92,276.94 M36.92,276.94 L41.3,269.37 M41.3,269.37 L50.05,269.37 M50.05,269.37 L54.42,276.94 M80.67,276.94 L76.3,284.52 M76.3,284.52 L67.55,284.52 M67.55,284.52 L63.17,276.94 M63.17,276.94 L67.55,269.37 M67.55,269.37 L76.3,269.37 M76.3,269.37 L80.67,276.94 M54.42,307.26 L50.05,314.83 M50.05,314.83 L41.3,314.83 M41.3,314.83 L36.92,307.26 M36.92,307.26 L41.3,299.68 M41.3,299.68 L50.05,299.68 M50.05,299.68 L54.42,307.26 M80.67,307.26 L76.3,314.83 M76.3,314.83 L67.55,314.83 M67.55,314.83 L63.17,307.26 M63.17,307.26 L67.55,299.68 M67.55,299.68 L76.3,299.68 M76.3,299.68 L80.67,307.26 M54.42,276.94 L63.17,276.94 M54.42,307.26 L63.17,307.26 M41.3,284.52 L36.92,292.1 M36.92,292.1 L41.3,299.68 M76.3,284.52 L80.67,292.1 M80.67,292.1 L76.3,299.68 M36.92,276.94 L31.42,276.94 M36.92,292.1 L31.42,292.1 M36.92,307.26 L31.42,307.26 M80.67,276.94 L86.17,276.94 M80.67,292.1 L86.17,292.1 M80.67,307.26 L86.17,307.26 M50.05,269.37 L52.8,264.6 M76.3,269.37 L79.05,264.6 M41.3,314.83 L38.55,319.6 M67.55,314.83 L64.8,319.6 M41.3,269.37 L39.3,265.9 M67.55,269.37 L65.55,265.9 M50.05,314.83 L52.05,318.3 M76.3,314.83 L78.3,318.3" stroke="#946848" stroke-width="1.15" fill="none"/>
<line x1="50.05" y1="284.52" x2="45.67" y2="284.52" stroke="#9aa8d8" stroke-width="1.3"/>
<line x1="50.05" y1="284.52" x2="52.24" y2="280.73" stroke="#9aa8d8" stroke-width="1.3"/>
<line x1="67.55" y1="284.52" x2="65.36" y2="280.73" stroke="#e02828" stroke-width="1.3"/>
<line x1="67.55" y1="284.52" x2="71.92" y2="284.52" stroke="#e02828" stroke-width="1.3"/>
<line x1="50.05" y1="299.68" x2="52.24" y2="303.47" stroke="#e02828" stroke-width="1.3"/>
<line x1="50.05" y1="299.68" x2="45.67" y2="299.68" stroke="#e02828" stroke-width="1.3"/>
<line x1="67.55" y1="299.68" x2="71.92" y2="299.68" stroke="#9aa8d8" stroke-width="1.3"/>
<line x1="67.55" y1="299.68" x2="65.36" y2="303.47" stroke="#9aa8d8" stroke-width="1.3"/>
<circle cx="54.42" cy="276.94" r="1.55" fill="#b89070" stroke="#5e3a1e" stroke-width="0.7"/>
<circle cx="50.05" cy="284.52" r="1.6" fill="#d4dbf4" stroke="#6a7ab4" stroke-width="0.7"/>
<circle cx="41.3" cy="284.52" r="1.55" fill="#b89070" stroke="#5e3a1e" stroke-width="0.7"/>
<circle cx="36.92" cy="276.94" r="1.55" fill="#b89070" stroke="#5e3a1e" stroke-width="0.7"/>
<circle cx="41.3" cy="269.37" r="1.55" fill="#b89070" stroke="#5e3a1e" stroke-width="0.7"/>
<circle cx="50.05" cy="269.37" r="1.55" fill="#b89070" stroke="#5e3a1e" stroke-width="0.7"/>
<circle cx="80.67" cy="276.94" r="1.55" fill="#b89070" stroke="#5e3a1e" stroke-width="0.7"/>
<circle cx="76.3" cy="284.52" r="1.55" fill="#b89070" stroke="#5e3a1e" stroke-width="0.7"/>
<circle cx="67.55" cy="284.52" r="1.6" fill="#ee3030" stroke="#b01010" stroke-width="0.7"/>
<circle cx="63.17" cy="276.94" r="1.55" fill="#b89070" stroke="#5e3a1e" stroke-width="0.7"/>
<circle cx="67.55" cy="269.37" r="1.55" fill="#b89070" stroke="#5e3a1e" stroke-width="0.7"/>
<circle cx="76.3" cy="269.37" r="1.55" fill="#b89070" stroke="#5e3a1e" stroke-width="0.7"/>
<circle cx="54.42" cy="307.26" r="1.55" fill="#b89070" stroke="#5e3a1e" stroke-width="0.7"/>
<circle cx="50.05" cy="314.83" r="1.55" fill="#b89070" stroke="#5e3a1e" stroke-width="0.7"/>
<circle cx="41.3" cy="314.83" r="1.55" fill="#b89070" stroke="#5e3a1e" stroke-width="0.7"/>
<circle cx="36.92" cy="307.26" r="1.55" fill="#b89070" stroke="#5e3a1e" stroke-width="0.7"/>
<circle cx="41.3" cy="299.68" r="1.55" fill="#b89070" stroke="#5e3a1e" stroke-width="0.7"/>
<circle cx="50.05" cy="299.68" r="1.6" fill="#ee3030" stroke="#b01010" stroke-width="0.7"/>
<circle cx="80.67" cy="307.26" r="1.55" fill="#b89070" stroke="#5e3a1e" stroke-width="0.7"/>
<circle cx="76.3" cy="314.83" r="1.55" fill="#b89070" stroke="#5e3a1e" stroke-width="0.7"/>
<circle cx="67.55" cy="314.83" r="1.55" fill="#b89070" stroke="#5e3a1e" stroke-width="0.7"/>
<circle cx="63.17" cy="307.26" r="1.55" fill="#b89070" stroke="#5e3a1e" stroke-width="0.7"/>
<circle cx="67.55" cy="299.68" r="1.6" fill="#d4dbf4" stroke="#6a7ab4" stroke-width="0.7"/>
<circle cx="76.3" cy="299.68" r="1.55" fill="#b89070" stroke="#5e3a1e" stroke-width="0.7"/>
<circle cx="36.92" cy="292.1" r="1.55" fill="#b89070" stroke="#5e3a1e" stroke-width="0.7"/>
<circle cx="80.67" cy="292.1" r="1.55" fill="#b89070" stroke="#5e3a1e" stroke-width="0.7"/>
<circle cx="58.8" cy="292.1" r="3.4" fill="url(#gTa)"/>
<path d="M26.6,254.1 C26.89,253.81 27.93,252.33 28.8,251.9 C29.67,251.47 32.03,250.94 33.1,250.9 C34.17,250.86 35.63,251.27 36.8,251.6 C37.97,251.93 40.74,253.56 41.9,253.4 C43.06,253.24 44.62,250.76 45.5,250.4 C46.38,250.04 47.71,251.05 48.5,250.7 C49.29,250.35 50.57,247.55 51.4,247.8 C52.23,248.05 53.79,252.4 54.7,252.6 C55.61,252.8 57.28,249.43 58.2,249.3 C59.12,249.17 60.76,251.41 61.6,251.6 C62.44,251.79 63.58,251.21 64.5,250.7 C65.42,250.19 67.42,247.68 68.5,247.8 C69.58,247.92 71.28,251.73 72.6,251.6 C73.92,251.47 76.95,246.72 78.4,246.8 C79.85,246.88 82.14,252.01 83.5,252.2 C84.86,252.39 87.43,248.28 88.6,248.2 C89.77,248.12 91.23,251.53 92.3,251.6 C93.37,251.67 95.33,248.7 96.6,248.7 C97.87,248.7 100.53,251.17 101.8,251.6 C103.07,252.03 104.74,251.7 106.1,251.9 C107.46,252.1 110.63,253.06 112,253.1 C113.37,253.14 115.43,252.31 116.4,252.2 C117.37,252.09 118.66,253.93 119.3,252.3 C119.94,250.67 120.76,244.97 121.2,240 C121.64,235.03 122.23,220.27 122.6,215 C122.97,209.73 123.63,200.5 124,200.5 C124.37,200.5 125.03,209.73 125.4,215 C125.77,220.27 126.36,234.91 126.8,240 C127.24,245.09 127.98,251.25 128.7,253.2 C129.42,255.15 130.97,254.77 132.2,254.6 C133.43,254.43 136.5,251.9 137.9,251.9 C139.3,251.9 141.49,254.52 142.7,254.6 C143.91,254.68 145.85,252.94 147,252.5 C148.15,252.06 150.22,251.21 151.3,251.3 C152.38,251.39 153.95,253.2 155.1,253.2 C156.25,253.2 158.63,251.22 159.9,251.3 C161.17,251.38 163.12,253.57 164.6,253.8 C166.08,254.03 169.21,253.2 171,253 C172.79,252.8 176.27,252.19 178,252.3 C179.73,252.41 182.09,253.85 184,253.8 C185.91,253.75 190.43,251.87 192.3,251.9 C194.17,251.93 196.35,253.83 198,254 C199.65,254.17 203.3,253.12 204.7,253.2 C206.1,253.28 207.22,254.33 208.5,254.6 C209.78,254.87 213.53,255.12 214.3,255.2" stroke="#e8353b" stroke-width="1.1" fill="none" stroke-linejoin="round"/>
<path d="M26.6,323.6 L31.6,324.4 L53.4,324.4 L57.8,323.3 L62.2,323 L66.5,324.4 L75.2,323.3 L79.6,323.6 L82.8,325.2 L92.7,318.6 L103.1,266.5 L108.6,290 L114,300.1 L118.7,288.4 L123.4,303.7 L128.8,300.1 L138.7,313.2 L144.1,308.6 L148.8,309.1 L154.3,319.3 L159.7,318.7 L169.3,320.6 L173.4,321.2 L179.7,319.5 L184.3,320.6 L189,323.9 L214.4,324.5" stroke="#3d78e6" stroke-width="1.2" fill="none" stroke-linejoin="round"/>
<text transform="translate(168,201.3) scale(0.92,1)" font-size="9.4" text-anchor="start" fill="#222" stroke="#222">C-TaN<tspan font-size="6.5" baseline-shift="-2">2</tspan>O<tspan font-size="6.5" baseline-shift="-2">2</tspan></text>
<text transform="translate(130.8,246.9) scale(0.92,1)" font-size="9.4" text-anchor="start" fill="#222" stroke="#222">N 2<tspan font-style="italic">p</tspan></text>
<text transform="translate(168,271.9) scale(0.92,1)" font-size="9.4" text-anchor="start" fill="#222" stroke="#222">C-N<tspan font-size="6.5" baseline-shift="-2">2</tspan>O<tspan font-size="6.5" baseline-shift="-2">2</tspan></text>
<text transform="translate(132.4,302) scale(0.92,1)" font-size="9.4" text-anchor="start" fill="#222" stroke="#222">Ta 5<tspan font-style="italic">d</tspan></text>
<rect x="26.4" y="186" width="188" height="139" fill="none" stroke="#1e1e1e" stroke-width="1.15"/>
<line x1="26.4" y1="255.3" x2="214.4" y2="255.3" stroke="#1e1e1e" stroke-width="1.15"/>
<line x1="23.4" y1="255" x2="26.4" y2="255" stroke="#1e1e1e" stroke-width="1.15"/>
<text transform="translate(20.9,258.1) scale(0.97,1)" font-size="8.7" text-anchor="end" fill="#222" stroke="#222">0</text>
<line x1="23.4" y1="230.5" x2="26.4" y2="230.5" stroke="#1e1e1e" stroke-width="1.15"/>
<text transform="translate(20.9,233.6) scale(0.97,1)" font-size="8.7" text-anchor="end" fill="#222" stroke="#222">1</text>
<line x1="23.4" y1="206" x2="26.4" y2="206" stroke="#1e1e1e" stroke-width="1.15"/>
<text transform="translate(20.9,209.1) scale(0.97,1)" font-size="8.7" text-anchor="end" fill="#222" stroke="#222">2</text>
<line x1="24.4" y1="242.7" x2="26.4" y2="242.7" stroke="#1e1e1e" stroke-width="1.15"/>
<line x1="24.4" y1="218.2" x2="26.4" y2="218.2" stroke="#1e1e1e" stroke-width="1.15"/>
<line x1="24.4" y1="193.6" x2="26.4" y2="193.6" stroke="#1e1e1e" stroke-width="1.15"/>
<line x1="23.4" y1="324.3" x2="26.4" y2="324.3" stroke="#1e1e1e" stroke-width="1.15"/>
<text transform="translate(21.2,327.4) scale(0.97,1)" font-size="8.7" text-anchor="end" fill="#222" stroke="#222">0</text>
<line x1="23.4" y1="288.1" x2="26.4" y2="288.1" stroke="#1e1e1e" stroke-width="1.15"/>
<text transform="translate(21.2,291.2) scale(0.97,1)" font-size="8.7" text-anchor="end" fill="#222" stroke="#222">2</text>
<line x1="24.4" y1="306.3" x2="26.4" y2="306.3" stroke="#1e1e1e" stroke-width="1.15"/>
<line x1="24.4" y1="270" x2="26.4" y2="270" stroke="#1e1e1e" stroke-width="1.15"/>
<line x1="26.08" y1="325" x2="26.08" y2="328" stroke="#1e1e1e" stroke-width="1.15"/>
<text transform="translate(26.08,335.8) scale(0.97,1)" font-size="8.7" text-anchor="middle" fill="#222" stroke="#222">-4</text>
<line x1="44.91" y1="325" x2="44.91" y2="327" stroke="#1e1e1e" stroke-width="1.15"/>
<line x1="63.74" y1="325" x2="63.74" y2="328" stroke="#1e1e1e" stroke-width="1.15"/>
<text transform="translate(63.74,335.8) scale(0.97,1)" font-size="8.7" text-anchor="middle" fill="#222" stroke="#222">-2</text>
<line x1="82.57" y1="325" x2="82.57" y2="327" stroke="#1e1e1e" stroke-width="1.15"/>
<line x1="101.4" y1="325" x2="101.4" y2="328" stroke="#1e1e1e" stroke-width="1.15"/>
<text transform="translate(101.4,335.8) scale(0.97,1)" font-size="8.7" text-anchor="middle" fill="#222" stroke="#222">0</text>
<line x1="120.23" y1="325" x2="120.23" y2="327" stroke="#1e1e1e" stroke-width="1.15"/>
<line x1="139.06" y1="325" x2="139.06" y2="328" stroke="#1e1e1e" stroke-width="1.15"/>
<text transform="translate(139.06,335.8) scale(0.97,1)" font-size="8.7" text-anchor="middle" fill="#222" stroke="#222">2</text>
<line x1="157.89" y1="325" x2="157.89" y2="327" stroke="#1e1e1e" stroke-width="1.15"/>
<line x1="176.72" y1="325" x2="176.72" y2="328" stroke="#1e1e1e" stroke-width="1.15"/>
<text transform="translate(176.72,335.8) scale(0.97,1)" font-size="8.7" text-anchor="middle" fill="#222" stroke="#222">4</text>
<line x1="195.55" y1="325" x2="195.55" y2="327" stroke="#1e1e1e" stroke-width="1.15"/>
<line x1="214.38" y1="325" x2="214.38" y2="328" stroke="#1e1e1e" stroke-width="1.15"/>
<text transform="translate(214.38,335.8) scale(0.97,1)" font-size="8.7" text-anchor="middle" fill="#222" stroke="#222">6</text>
<text transform="translate(91.61,347.2) scale(0.965,1)" font-size="11.3" fill="#222" stroke="#222">Energy (eV)</text>
<text transform="translate(9,286.46) rotate(-90) scale(0.925,1)" font-size="11.4" fill="#222" stroke="#222">PDOS (1/eV)</text>
<text x="233.6" y="189.3" font-size="13" text-anchor="start" fill="#111" stroke="#111">e</text>
<path d="M274,183.6h1v5.2h-1z M274,181.8h1v1.1h-1z" fill="#333"/>
<path d="M274,242.6h1v5.2h-1z M274,240.8h1v1.1h-1z M276,242.6h1v5.2h-1z M276,240.8h1v1.1h-1z" fill="#333"/>
<line x1="323.8" y1="189" x2="335.4" y2="185.2" stroke="#7a4e30" stroke-width="1.4"/>
<line x1="335.4" y1="185.2" x2="350.2" y2="189" stroke="#7a4e30" stroke-width="1.4"/>
<line x1="350.2" y1="189" x2="352.8" y2="194.9" stroke="#7a4e30" stroke-width="1.4"/>
<line x1="352.8" y1="194.9" x2="338.3" y2="197.5" stroke="#7a4e30" stroke-width="1.4"/>
<line x1="338.3" y1="197.5" x2="324.6" y2="194.9" stroke="#7a4e30" stroke-width="1.4"/>
<line x1="324.6" y1="194.9" x2="323.8" y2="189" stroke="#7a4e30" stroke-width="1.4"/>
<line x1="323.8" y1="189" x2="312.7" y2="186.4" stroke="#b89080" stroke-width="1"/>
<line x1="335.4" y1="185.2" x2="335.4" y2="180.4" stroke="#b89080" stroke-width="1"/>
<line x1="350.2" y1="189" x2="360.5" y2="186.4" stroke="#b89080" stroke-width="1"/>
<line x1="352.8" y1="194.9" x2="363.9" y2="197.8" stroke="#b89080" stroke-width="1"/>
<line x1="324.6" y1="194.9" x2="316.1" y2="197.8" stroke="#b89080" stroke-width="1"/>
<circle cx="312.7" cy="186.4" r="1.5" fill="url(#gH)"/>
<circle cx="335.4" cy="180.4" r="1.5" fill="url(#gH)"/>
<circle cx="360.5" cy="186.4" r="1.5" fill="url(#gH)"/>
<circle cx="363.9" cy="197.8" r="1.5" fill="url(#gH)"/>
<circle cx="316.1" cy="197.8" r="1.5" fill="url(#gH)"/>
<circle cx="323.8" cy="189" r="2.6" fill="url(#gC)"/>
<circle cx="335.4" cy="185.2" r="2.6" fill="url(#gC)"/>
<circle cx="350.2" cy="189" r="2.6" fill="url(#gC)"/>
<circle cx="352.8" cy="194.9" r="2.6" fill="url(#gC)"/>
<circle cx="338.3" cy="197.5" r="2.6" fill="url(#gC)"/>
<circle cx="324.6" cy="194.9" r="2.6" fill="url(#gC)"/>
<path d="M271,228.8 L414,228.8 M271,231.6 L414,231.6" stroke="#6e4428" stroke-width="1.3"/>
<path d="M270.5,227.7 L274,230.2 L270.5,232.7 M414.5,227.7 L411,230.2 L414.5,232.7" stroke="#7a4e30" stroke-width="1.1" fill="none"/>
<circle cx="286.5" cy="230.2" r="3.2" fill="url(#gC)"/>
<circle cx="294.4" cy="230.2" r="3.2" fill="url(#gC)"/>
<circle cx="311.4" cy="230.2" r="3.2" fill="url(#gC)"/>
<circle cx="318.2" cy="230.2" r="3.2" fill="url(#gC)"/>
<circle cx="335.1" cy="230.2" r="3.2" fill="url(#gC)"/>
<circle cx="341.9" cy="230.2" r="3.2" fill="url(#gC)"/>
<circle cx="357.8" cy="230.2" r="3.2" fill="url(#gC)"/>
<circle cx="365.7" cy="230.2" r="3.2" fill="url(#gC)"/>
<circle cx="382.2" cy="230.2" r="3.2" fill="url(#gC)"/>
<circle cx="389.9" cy="230.2" r="3.2" fill="url(#gC)"/>
<circle cx="406.4" cy="230.2" r="3.2" fill="url(#gC)"/>
<circle cx="310.4" cy="225.3" r="2.4" fill="url(#gO)"/>
<circle cx="311.5" cy="231.5" r="2" fill="url(#gN)"/>
<ellipse cx="342.6" cy="212" rx="12.5" ry="9.4" fill="url(#gCy)"/>
<ellipse cx="343.4" cy="194.5" rx="5.5" ry="3.5" fill="url(#gCy)"/>
<ellipse cx="330.6" cy="193.8" rx="3.4" ry="3" fill="url(#gYe)"/>
<ellipse cx="329.2" cy="201.6" rx="3.6" ry="3" fill="url(#gYe)"/>
<ellipse cx="346" cy="201" rx="10" ry="2.3" fill="url(#gYe)"/>
<ellipse cx="343.4" cy="213.7" rx="3.6" ry="7.2" fill="url(#gYe)"/>
<ellipse cx="334" cy="220.5" rx="5" ry="3.8" fill="url(#gYe)"/>
<ellipse cx="359.6" cy="222.2" rx="5" ry="3.8" fill="url(#gYe)"/>
<ellipse cx="347.7" cy="226" rx="10" ry="3.5" fill="url(#gCy)"/>
<ellipse cx="347.7" cy="232" rx="7" ry="2.8" fill="url(#gCy)"/>
<ellipse cx="332.3" cy="232" rx="4" ry="2.8" fill="url(#gYe)"/>
<ellipse cx="360.5" cy="232" rx="4" ry="2.8" fill="url(#gYe)"/>
<line x1="355.8" y1="250.6" x2="367.75" y2="257.5" stroke="#7a4e30" stroke-width="1.6"/>
<line x1="367.75" y1="257.5" x2="367.75" y2="271.3" stroke="#7a4e30" stroke-width="1.6"/>
<line x1="367.75" y1="271.3" x2="355.8" y2="278.2" stroke="#7a4e30" stroke-width="1.6"/>
<line x1="355.8" y1="278.2" x2="343.85" y2="271.3" stroke="#7a4e30" stroke-width="1.6"/>
<line x1="343.85" y1="271.3" x2="343.85" y2="257.5" stroke="#7a4e30" stroke-width="1.6"/>
<line x1="343.85" y1="257.5" x2="355.8" y2="250.6" stroke="#7a4e30" stroke-width="1.6"/>
<line x1="355.8" y1="250.6" x2="355.8" y2="242.1" stroke="#b89080" stroke-width="1"/>
<circle cx="355.8" cy="242.1" r="1.6" fill="url(#gH)"/>
<line x1="367.75" y1="257.5" x2="375.11" y2="253.25" stroke="#b89080" stroke-width="1"/>
<circle cx="375.11" cy="253.25" r="1.6" fill="url(#gH)"/>
<line x1="367.75" y1="271.3" x2="375.11" y2="275.55" stroke="#b89080" stroke-width="1"/>
<circle cx="375.11" cy="275.55" r="1.6" fill="url(#gH)"/>
<line x1="355.8" y1="278.2" x2="355.8" y2="286.7" stroke="#b89080" stroke-width="1"/>
<circle cx="355.8" cy="286.7" r="1.6" fill="url(#gH)"/>
<line x1="343.85" y1="257.5" x2="336.49" y2="253.25" stroke="#b89080" stroke-width="1"/>
<circle cx="336.49" cy="253.25" r="1.6" fill="url(#gH)"/>
<line x1="343.85" y1="271.3" x2="329.2" y2="278.7" stroke="#7a4e30" stroke-width="1.6"/>
<circle cx="355.8" cy="250.6" r="2.8" fill="url(#gC)"/>
<circle cx="367.75" cy="257.5" r="2.8" fill="url(#gC)"/>
<circle cx="367.75" cy="271.3" r="2.8" fill="url(#gC)"/>
<circle cx="355.8" cy="278.2" r="2.8" fill="url(#gC)"/>
<circle cx="343.85" cy="271.3" r="2.8" fill="url(#gC)"/>
<circle cx="343.85" cy="257.5" r="2.8" fill="url(#gC)"/>
<path d="M271,316.4 L414,316.4 M271,319.2 L414,319.2" stroke="#6e4428" stroke-width="1.3"/>
<path d="M270.5,315.3 L274,317.8 L270.5,320.3 M414.5,315.3 L411,317.8 L414.5,320.3" stroke="#7a4e30" stroke-width="1.1" fill="none"/>
<circle cx="286.5" cy="317.8" r="3.2" fill="url(#gC)"/>
<circle cx="294.4" cy="317.8" r="3.2" fill="url(#gC)"/>
<circle cx="311.4" cy="317.8" r="3.2" fill="url(#gC)"/>
<circle cx="318.2" cy="317.8" r="3.2" fill="url(#gC)"/>
<circle cx="335.1" cy="317.8" r="3.2" fill="url(#gC)"/>
<circle cx="341.9" cy="317.8" r="3.2" fill="url(#gC)"/>
<circle cx="357.8" cy="317.8" r="3.2" fill="url(#gC)"/>
<circle cx="365.7" cy="317.8" r="3.2" fill="url(#gC)"/>
<circle cx="382.2" cy="317.8" r="3.2" fill="url(#gC)"/>
<circle cx="389.9" cy="317.8" r="3.2" fill="url(#gC)"/>
<circle cx="406.4" cy="317.8" r="3.2" fill="url(#gC)"/>
<circle cx="326.6" cy="302" r="4.2" fill="url(#gTa)"/>
<circle cx="310.4" cy="314.6" r="2.8" fill="url(#gO)"/>
<circle cx="342" cy="315.4" r="2.8" fill="url(#gN)"/>
<circle cx="306.6" cy="280" r="1.5" fill="url(#gH)"/>
<circle cx="321.5" cy="275.3" r="1.5" fill="url(#gH)"/>
<ellipse cx="327" cy="274.8" rx="4" ry="2.5" fill="url(#gYe)"/>
<ellipse cx="316" cy="288.5" rx="4.8" ry="10.5" fill="url(#gYe)"/>
<ellipse cx="330.5" cy="290" rx="9.5" ry="8" fill="url(#gYe)"/>
<ellipse cx="327.5" cy="280.4" rx="9.5" ry="3" fill="url(#gCy)"/>
<ellipse cx="324.5" cy="296" rx="4.5" ry="5" fill="url(#gCy)"/>
<circle cx="312.1" cy="282.1" r="2.3" fill="url(#gO)"/>
<ellipse cx="326.6" cy="305.2" rx="11" ry="3.5" fill="url(#gCy)"/>
<ellipse cx="326.6" cy="306.5" rx="5" ry="4" fill="url(#gYe)"/>
<ellipse cx="326.6" cy="315" rx="9.5" ry="3" fill="url(#gCy)"/>
<circle cx="427.8" cy="208.3" r="2.5" fill="url(#gH)"/>
<circle cx="427.8" cy="208.3" r="2.2" fill="none" stroke="#c49090" stroke-width="0.7"/>
<circle cx="427.8" cy="234.1" r="4" fill="url(#gC)"/>
<circle cx="427.8" cy="262.4" r="3.9" fill="url(#gN)"/>
<circle cx="427.8" cy="287.6" r="3.9" fill="url(#gO)"/>
<circle cx="427.6" cy="315.4" r="7.4" fill="url(#gTa)"/>
<text transform="translate(439,211.9) scale(0.93,1)" font-size="10.2" text-anchor="start" fill="#222" stroke="#222">H</text>
<text transform="translate(439,237.1) scale(0.93,1)" font-size="10.2" text-anchor="start" fill="#222" stroke="#222">C</text>
<text transform="translate(439,265.6) scale(0.93,1)" font-size="10.2" text-anchor="start" fill="#222" stroke="#222">N</text>
<text transform="translate(439,290.8) scale(0.93,1)" font-size="10.2" text-anchor="start" fill="#222" stroke="#222">O</text>
<text transform="translate(437.4,318.6) scale(0.93,1)" font-size="10.2" text-anchor="start" fill="#222" stroke="#222">Ta</text>
<text x="464" y="188.3" font-size="13" text-anchor="start" fill="#111" stroke="#111">f</text>
<path d="M533,282.6 L570.6,279.35 L607.8,279.35 L645.8,310.3" stroke="#62e0d4" stroke-width="1.3" fill="none" stroke-linejoin="round"/>
<path d="M533,282.6 L570.6,274.48 L607.8,274.48 L645.8,310.3" stroke="#ea8238" stroke-width="1.3" fill="none" stroke-linejoin="round"/>
<path d="M533,282.6 L570.6,266.03 L607.8,266.03 L645.8,310.3" stroke="#b67cf0" stroke-width="1.3" fill="none" stroke-linejoin="round"/>
<path d="M533,282.6 L570.6,247.5 L607.8,247.5 L645.8,310.3" stroke="#5cbc74" stroke-width="1.3" fill="none" stroke-linejoin="round"/>
<path d="M533,282.6 L570.6,243.6 L607.8,243.6 L645.8,310.3" stroke="#c9a032" stroke-width="1.3" fill="none" stroke-linejoin="round"/>
<path d="M533,282.6 L570.6,222.15 L607.8,222.15 L645.8,310.3" stroke="#e8434a" stroke-width="1.3" fill="none" stroke-linejoin="round"/>
<path d="M533,282.6 L570.7,313.3 L606,313 L645.8,310.3" stroke="#3d74e2" stroke-width="1.3" fill="none" stroke-linejoin="round"/>
<line x1="495.6" y1="282.6" x2="533" y2="282.6" stroke="#62e0d4" stroke-width="1.3"/>
<line x1="645.8" y1="310.3" x2="683.3" y2="310.3" stroke="#62e0d4" stroke-width="1.3"/>
<line x1="522" y1="222.15" x2="583" y2="222.15" stroke="#111" stroke-width="1.1" stroke-dasharray="3.2,2.2"/>
<line x1="597.4" y1="310.3" x2="665.1" y2="310.3" stroke="#111" stroke-width="1.1" stroke-dasharray="3.2,2.2"/>
<line x1="531.8" y1="225" x2="531.8" y2="279.8" stroke="#e8434a" stroke-width="1.1"/>
<path d="M529.4,226.4 L531.8,222.6 L534.2,226.4" stroke="#e8434a" stroke-width="1.1" fill="none"/>
<path d="M529.4,278.5 L531.8,282.3 L534.2,278.5" stroke="#e8434a" stroke-width="1.1" fill="none"/>
<text transform="translate(500.2,256.9) scale(0.92,1)" font-size="9.4" text-anchor="start" fill="#e8434a" stroke="#e8434a">1.86 eV</text>
<text x="515.8" y="280.5" font-size="8" text-anchor="start" fill="#222" stroke="#222">*</text>
<text transform="translate(563.5,218.5) scale(0.92,1)" font-size="9.4" text-anchor="start" fill="#222" stroke="#222">*C<tspan font-size="6" baseline-shift="-2">6</tspan>H<tspan font-size="6" baseline-shift="-2">5</tspan>CHOH</text>
<text transform="translate(593,297.8) scale(0.92,1)" font-size="9.4" text-anchor="start" fill="#3d74e2" stroke="#3d74e2">0.09 eV</text>
<line x1="606.7" y1="300.4" x2="606.7" y2="307" stroke="#e8434a" stroke-width="1"/>
<path d="M604.9,304.8 L606.7,307.8 L608.5,304.8" stroke="#e8434a" stroke-width="1" fill="none"/>
<line x1="606.7" y1="321" x2="606.7" y2="314.6" stroke="#e8434a" stroke-width="1"/>
<path d="M604.9,316.8 L606.7,313.8 L608.5,316.8" stroke="#e8434a" stroke-width="1" fill="none"/>
<text transform="translate(633.4,321) scale(0.92,1)" font-size="9.4" text-anchor="start" fill="#222" stroke="#222">*+C<tspan font-size="6" baseline-shift="-2">6</tspan>H<tspan font-size="6" baseline-shift="-2">5</tspan>CHO</text>
<line x1="633.6" y1="199.6" x2="639.6" y2="199.6" stroke="#e8434a" stroke-width="1.4"/>
<text transform="translate(640.8,202.8) scale(0.92,1)" font-size="9.4" text-anchor="start" fill="#222" stroke="#222">C-N<tspan font-size="6.5" baseline-shift="-2">2</tspan>O<tspan font-size="6.5" baseline-shift="-2">2</tspan></text>
<line x1="633.6" y1="211.8" x2="639.6" y2="211.8" stroke="#c9a032" stroke-width="1.4"/>
<text transform="translate(640.8,215) scale(0.92,1)" font-size="9.4" text-anchor="start" fill="#222" stroke="#222">C-RhN<tspan font-size="6.5" baseline-shift="-2">2</tspan>O<tspan font-size="6.5" baseline-shift="-2">2</tspan></text>
<line x1="633.6" y1="224" x2="639.6" y2="224" stroke="#5cbc74" stroke-width="1.4"/>
<text transform="translate(640.8,227.2) scale(0.92,1)" font-size="9.4" text-anchor="start" fill="#222" stroke="#222">C-IrN<tspan font-size="6.5" baseline-shift="-2">2</tspan>O<tspan font-size="6.5" baseline-shift="-2">2</tspan></text>
<line x1="633.6" y1="236.2" x2="639.6" y2="236.2" stroke="#b67cf0" stroke-width="1.4"/>
<text transform="translate(640.8,239.4) scale(0.92,1)" font-size="9.4" text-anchor="start" fill="#222" stroke="#222">C-PtN<tspan font-size="6.5" baseline-shift="-2">2</tspan>O<tspan font-size="6.5" baseline-shift="-2">2</tspan></text>
<line x1="633.6" y1="248.4" x2="639.6" y2="248.4" stroke="#ea8238" stroke-width="1.4"/>
<text transform="translate(640.8,251.6) scale(0.92,1)" font-size="9.4" text-anchor="start" fill="#222" stroke="#222">C-AgN<tspan font-size="6.5" baseline-shift="-2">2</tspan>O<tspan font-size="6.5" baseline-shift="-2">2</tspan></text>
<line x1="633.6" y1="260.6" x2="639.6" y2="260.6" stroke="#62e0d4" stroke-width="1.4"/>
<text transform="translate(640.8,263.8) scale(0.92,1)" font-size="9.4" text-anchor="start" fill="#222" stroke="#222">C-RuN<tspan font-size="6.5" baseline-shift="-2">2</tspan>O<tspan font-size="6.5" baseline-shift="-2">2</tspan></text>
<line x1="633.6" y1="272.8" x2="639.6" y2="272.8" stroke="#3d74e2" stroke-width="1.4"/>
<text transform="translate(640.8,276) scale(0.92,1)" font-size="9.4" text-anchor="start" fill="#222" stroke="#222">C-TaN<tspan font-size="6.5" baseline-shift="-2">2</tspan>O<tspan font-size="6.5" baseline-shift="-2">2</tspan></text>
<rect x="495.6" y="186" width="187.7" height="138.4" fill="none" stroke="#1e1e1e" stroke-width="1.15"/>
<line x1="492.6" y1="217.6" x2="495.6" y2="217.6" stroke="#1e1e1e" stroke-width="1.15"/>
<text transform="translate(490.9,220.7) scale(0.97,1)" font-size="8.7" text-anchor="end" fill="#222" stroke="#222">2</text>
<line x1="492.6" y1="250.1" x2="495.6" y2="250.1" stroke="#1e1e1e" stroke-width="1.15"/>
<text transform="translate(490.9,253.2) scale(0.97,1)" font-size="8.7" text-anchor="end" fill="#222" stroke="#222">1</text>
<line x1="492.6" y1="282.6" x2="495.6" y2="282.6" stroke="#1e1e1e" stroke-width="1.15"/>
<text transform="translate(490.9,285.7) scale(0.97,1)" font-size="8.7" text-anchor="end" fill="#222" stroke="#222">0</text>
<line x1="492.6" y1="315.1" x2="495.6" y2="315.1" stroke="#1e1e1e" stroke-width="1.15"/>
<text transform="translate(490.9,318.2) scale(0.97,1)" font-size="8.7" text-anchor="end" fill="#222" stroke="#222">&#8722;1</text>
<line x1="493.6" y1="201.35" x2="495.6" y2="201.35" stroke="#1e1e1e" stroke-width="1.15"/>
<line x1="493.6" y1="233.85" x2="495.6" y2="233.85" stroke="#1e1e1e" stroke-width="1.15"/>
<line x1="493.6" y1="266.35" x2="495.6" y2="266.35" stroke="#1e1e1e" stroke-width="1.15"/>
<line x1="493.6" y1="298.85" x2="495.6" y2="298.85" stroke="#1e1e1e" stroke-width="1.15"/>
<text transform="translate(551.11,347.4) scale(1.040,1)" font-size="11.6" fill="#222" stroke="#222">Reaction path</text>
<text transform="translate(478.6,299.77) rotate(-90) scale(1.021,1)" font-size="11.6" fill="#222" stroke="#222">Free energy (eV)</text>
</svg></body></html>
